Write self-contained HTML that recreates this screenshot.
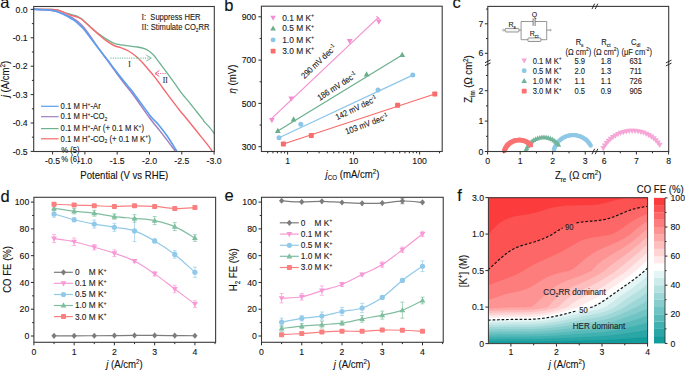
<!DOCTYPE html>
<html><head><meta charset="utf-8"><style>
html,body{margin:0;padding:0;background:#fff;}
svg{display:block;}
text{font-family:"Liberation Sans", sans-serif;white-space:pre;}
</style></head><body>
<svg width="685" height="371" viewBox="0 0 685 371">
<rect width="685" height="371" fill="#fff"/>
<text font-size="16.5" text-anchor="start" fill="#111" stroke="#111" stroke-width="0.12" transform="translate(0.3 8)"><tspan>a</tspan></text>
<text font-size="16.5" text-anchor="start" fill="#111" stroke="#111" stroke-width="0.12" transform="translate(224.2 11)"><tspan>b</tspan></text>
<text font-size="16.5" text-anchor="start" fill="#111" stroke="#111" stroke-width="0.12" transform="translate(452.4 8)"><tspan>c</tspan></text>
<text font-size="16.5" text-anchor="start" fill="#111" stroke="#111" stroke-width="0.12" transform="translate(0.6 201.8)"><tspan>d</tspan></text>
<text font-size="16.5" text-anchor="start" fill="#111" stroke="#111" stroke-width="0.12" transform="translate(224.4 200.6)"><tspan>e</tspan></text>
<text font-size="16.5" text-anchor="start" fill="#111" stroke="#111" stroke-width="0.12" transform="translate(457.3 200.9)"><tspan>f</tspan></text>
<g fill="none" stroke-linejoin="round" stroke-linecap="round">
<path d="M33.7 9.3 C36.67 9.32 47.37 9.23 51.5 9.4 C55.63 9.57 56.6 9.87 58.5 10.3 C60.4 10.73 61.15 11.4 62.9 12 C64.65 12.6 67.25 13.38 69 13.9 C70.75 14.42 71.93 14.67 73.4 15.1 C74.87 15.53 76.48 15.92 77.8 16.5 C79.12 17.08 79.85 17.47 81.3 18.6 C82.75 19.73 85.05 22 86.5 23.3 C87.95 24.6 88.13 24.77 90 26.4 C91.87 28.03 94.83 30.9 97.7 33.1 C100.57 35.3 104.32 37.85 107.2 39.6 C110.08 41.35 111.82 42.6 115 43.6 C118.18 44.6 122.53 45.03 126.3 45.6 C130.07 46.17 134.58 46.48 137.6 47 C140.62 47.52 142.52 48.03 144.4 48.7 C146.28 49.37 147.38 49.95 148.9 51 C150.42 52.05 152.17 53.62 153.5 55 C154.83 56.38 155.82 57.88 156.9 59.3 C157.98 60.72 158.58 61.62 160 63.5 C161.42 65.38 163.02 67.37 165.4 70.6 C167.78 73.83 171.47 78.97 174.3 82.9 C177.13 86.83 180.13 91.23 182.4 94.2 C184.67 97.17 185.92 98.28 187.9 100.7 C189.88 103.12 191.85 105.62 194.3 108.7 C196.75 111.78 200.93 117.05 202.6 119.2 C204.27 121.35 203.07 120.15 204.3 121.6 C205.53 123.05 208.33 125.9 210 127.9 C211.67 129.9 213.58 132.65 214.3 133.6" stroke="#6cb290" stroke-width="1.3" fill="none"/>
<path d="M33.7 9.3 C36.67 9.32 47.37 9.23 51.5 9.4 C55.63 9.57 56.6 9.87 58.5 10.3 C60.4 10.73 61.15 11.28 62.9 12 C64.65 12.72 67.25 13.95 69 14.6 C70.75 15.25 71.93 15.45 73.4 15.9 C74.87 16.35 76.48 16.78 77.8 17.3 C79.12 17.82 79.85 17.97 81.3 19 C82.75 20.03 85.05 22.22 86.5 23.5 C87.95 24.78 88.13 25.02 90 26.7 C91.87 28.38 94.83 31.15 97.7 33.6 C100.57 36.05 104.32 39.33 107.2 41.4 C110.08 43.47 112.75 44.97 115 46 C117.25 47.03 118.82 46.95 120.7 47.6 C122.58 48.25 124.42 48.95 126.3 49.9 C128.18 50.85 130.12 51.98 132 53.3 C133.88 54.62 135.72 56.1 137.6 57.8 C139.48 59.5 141.4 61.43 143.3 63.5 C145.2 65.57 147.12 67.97 149 70.2 C150.88 72.43 152.77 74.58 154.6 76.9 C156.43 79.22 158.07 81.47 160 84.1 C161.93 86.73 163.82 89.48 166.2 92.7 C168.58 95.92 172 100.4 174.3 103.4 C176.6 106.4 177.87 108.05 180 110.7 C182.13 113.35 184.72 116.38 187.1 119.3 C189.48 122.22 191.92 125.23 194.3 128.2 C196.68 131.17 199.02 134.12 201.4 137.1 C203.78 140.08 206.85 143.82 208.6 146.1 C210.35 148.38 211.35 150.02 211.9 150.8" stroke="#f46a6e" stroke-width="1.4" fill="none"/>
<path d="M33.7 9.3 C35.22 9.37 39.83 9.52 42.8 9.7 C45.77 9.88 49.17 10.08 51.5 10.4 C53.83 10.72 54.9 11.02 56.8 11.6 C58.7 12.18 60.87 13.13 62.9 13.9 C64.93 14.67 67.25 15.43 69 16.2 C70.75 16.97 71.93 17.62 73.4 18.5 C74.87 19.38 76.2 20.17 77.8 21.5 C79.4 22.83 81.25 24.52 83 26.5 C84.75 28.48 85.92 30.08 88.3 33.4 C90.68 36.72 94.22 42.03 97.3 46.4 C100.38 50.77 103.67 55.25 106.8 59.6 C109.93 63.95 112.82 68.03 116.1 72.5 C119.38 76.97 123.65 82.68 126.5 86.4 C129.35 90.12 129.37 89.57 133.2 94.8 C137.03 100.03 145.37 112.18 149.5 117.8 C153.63 123.42 155.17 124.9 158 128.5 C160.83 132.1 163.67 135.68 166.5 139.4 C169.33 143.12 173.58 148.9 175 150.8" stroke="#a27fbf" stroke-width="1.5" fill="none"/>
<path d="M33.7 9.3 C35.22 9.37 39.83 9.53 42.8 9.7 C45.77 9.87 49.17 9.98 51.5 10.3 C53.83 10.62 54.9 10.97 56.8 11.6 C58.7 12.23 60.87 13.17 62.9 14.1 C64.93 15.03 67.25 16.23 69 17.2 C70.75 18.17 71.93 18.87 73.4 19.9 C74.87 20.93 76.2 22 77.8 23.4 C79.4 24.8 81.25 26.37 83 28.3 C84.75 30.23 85.85 31.82 88.3 35 C90.75 38.18 94.55 43.3 97.7 47.4 C100.85 51.5 104.05 55.52 107.2 59.6 C110.35 63.68 113.3 67.65 116.6 71.9 C119.9 76.15 124.15 81.55 127 85.1 C129.85 88.65 129.87 88.15 133.7 93.2 C137.53 98.25 145.87 110.13 150 115.4 C154.13 120.67 155.67 121.4 158.5 124.8 C161.33 128.2 164 131.5 167 135.8 C170 140.1 174.92 148.13 176.5 150.6" stroke="#5a9ef0" stroke-width="1.6" fill="none"/>
</g>
<line x1="110.5" y1="58.1" x2="150.5" y2="58.1" stroke="#7cc0a0" stroke-width="1.1" stroke-dasharray="1.1 1.2"/>
<path d="M146.3 55.1 L151.3 58.1 L146.3 61.1" stroke="#7cc0a0" stroke-width="1" fill="none"/>
<line x1="155.5" y1="73.5" x2="165.8" y2="73.5" stroke="#f4608c" stroke-width="1.1" stroke-dasharray="1.1 1.2"/>
<path d="M159.3 70.6 L155 73.5 L159.3 76.4" stroke="#f4608c" stroke-width="1" fill="none"/>
<text font-size="8.55" text-anchor="middle" fill="#222" stroke="#222" stroke-width="0.12" transform="translate(129.5 67.2) scale(0.8772 1)"><tspan font-family="Liberation Serif, serif">I</tspan></text>
<text font-size="8.55" text-anchor="middle" fill="#222" stroke="#222" stroke-width="0.12" transform="translate(165.3 83.2) scale(0.8772 1)"><tspan font-family="Liberation Serif, serif">II</tspan></text>
<text font-size="8.66" text-anchor="start" fill="#222" stroke="#222" stroke-width="0.12" transform="translate(141.5 19.5) scale(0.8772 1)"><tspan font-family="Liberation Serif, serif">I</tspan><tspan>:  Suppress HER</tspan></text>
<text font-size="8.66" text-anchor="start" fill="#222" stroke="#222" stroke-width="0.12" transform="translate(141.5 29.6) scale(0.8772 1)"><tspan font-family="Liberation Serif, serif">II</tspan><tspan>: Stimulate CO</tspan><tspan dy="1.91" font-size="5.63">2</tspan><tspan dy="-1.91">RR</tspan></text>
<line x1="41" y1="106.3" x2="58.6" y2="106.3" stroke="#5a9ef0" stroke-width="1.2"/>
<text font-size="8.78" text-anchor="start" fill="#222" stroke="#222" stroke-width="0.12" transform="translate(60.6 109) scale(0.8772 1)"><tspan>0.1 M H</tspan><tspan dy="-3.34" font-size="5.71">+</tspan><tspan dy="3.34">-Ar</tspan></text>
<line x1="41" y1="116.7" x2="58.6" y2="116.7" stroke="#a27fbf" stroke-width="1.2"/>
<text font-size="8.78" text-anchor="start" fill="#222" stroke="#222" stroke-width="0.12" transform="translate(60.6 119.4) scale(0.8772 1)"><tspan>0.1 M H</tspan><tspan dy="-3.34" font-size="5.71">+</tspan><tspan dy="3.34">-CO</tspan><tspan dy="1.93" font-size="5.71">2</tspan></text>
<line x1="41" y1="128.6" x2="58.6" y2="128.6" stroke="#6cb290" stroke-width="1.2"/>
<text font-size="8.78" text-anchor="start" fill="#222" stroke="#222" stroke-width="0.12" transform="translate(60.6 131.3) scale(0.8772 1)"><tspan>0.1 M H</tspan><tspan dy="-3.34" font-size="5.71">+</tspan><tspan dy="3.34">-Ar (+ 0.1 M K</tspan><tspan dy="-3.34" font-size="5.71">+</tspan><tspan dy="3.34">)</tspan></text>
<line x1="41" y1="138.8" x2="58.6" y2="138.8" stroke="#f46a6e" stroke-width="1.2"/>
<text font-size="8.78" text-anchor="start" fill="#222" stroke="#222" stroke-width="0.12" transform="translate(60.6 141.5) scale(0.8772 1)"><tspan>0.1 M H</tspan><tspan dy="-3.34" font-size="5.71">+</tspan><tspan dy="3.34">-CO</tspan><tspan dy="1.93" font-size="5.71">2</tspan><tspan dy="-1.93"> (+ 0.1 M K</tspan><tspan dy="-3.34" font-size="5.71">+</tspan><tspan dy="3.34">)</tspan></text>
<text font-size="8.78" text-anchor="start" fill="#222" stroke="#222" stroke-width="0.12" transform="translate(61.3 152.5) scale(0.8772 1)"><tspan>% (5)</tspan></text>
<text font-size="8.78" text-anchor="start" fill="#222" stroke="#222" stroke-width="0.12" transform="translate(61.3 162.3) scale(0.8772 1)"><tspan>% (6)</tspan></text>
<rect x="33.7" y="6.5" width="180.6" height="145" fill="none" stroke="#3a3a3a" stroke-width="1.1"/>
<line x1="30.7" y1="9.4" x2="33.7" y2="9.4" stroke="#2a2a2a" stroke-width="1"/>
<text font-size="9.92" text-anchor="end" fill="#111" stroke="#111" stroke-width="0.12" transform="translate(27.7 12.5) scale(0.8772 1)"><tspan>0.0</tspan></text>
<line x1="30.7" y1="37.8" x2="33.7" y2="37.8" stroke="#2a2a2a" stroke-width="1"/>
<text font-size="9.92" text-anchor="end" fill="#111" stroke="#111" stroke-width="0.12" transform="translate(27.7 40.9) scale(0.8772 1)"><tspan>-0.1</tspan></text>
<line x1="30.7" y1="66.2" x2="33.7" y2="66.2" stroke="#2a2a2a" stroke-width="1"/>
<text font-size="9.92" text-anchor="end" fill="#111" stroke="#111" stroke-width="0.12" transform="translate(27.7 69.3) scale(0.8772 1)"><tspan>-0.2</tspan></text>
<line x1="30.7" y1="94.6" x2="33.7" y2="94.6" stroke="#2a2a2a" stroke-width="1"/>
<text font-size="9.92" text-anchor="end" fill="#111" stroke="#111" stroke-width="0.12" transform="translate(27.7 97.7) scale(0.8772 1)"><tspan>-0.3</tspan></text>
<line x1="30.7" y1="123" x2="33.7" y2="123" stroke="#2a2a2a" stroke-width="1"/>
<text font-size="9.92" text-anchor="end" fill="#111" stroke="#111" stroke-width="0.12" transform="translate(27.7 126.1) scale(0.8772 1)"><tspan>-0.4</tspan></text>
<line x1="30.7" y1="151.4" x2="33.7" y2="151.4" stroke="#2a2a2a" stroke-width="1"/>
<text font-size="9.92" text-anchor="end" fill="#111" stroke="#111" stroke-width="0.12" transform="translate(27.7 154.5) scale(0.8772 1)"><tspan>-0.5</tspan></text>
<line x1="31.9" y1="23.6" x2="33.7" y2="23.6" stroke="#2a2a2a" stroke-width="1"/>
<line x1="31.9" y1="52" x2="33.7" y2="52" stroke="#2a2a2a" stroke-width="1"/>
<line x1="31.9" y1="80.4" x2="33.7" y2="80.4" stroke="#2a2a2a" stroke-width="1"/>
<line x1="31.9" y1="108.8" x2="33.7" y2="108.8" stroke="#2a2a2a" stroke-width="1"/>
<line x1="31.9" y1="137.2" x2="33.7" y2="137.2" stroke="#2a2a2a" stroke-width="1"/>
<line x1="52.6" y1="151.5" x2="52.6" y2="154.5" stroke="#2a2a2a" stroke-width="1"/>
<text font-size="9.92" text-anchor="middle" fill="#111" stroke="#111" stroke-width="0.12" transform="translate(52.6 164.2) scale(0.8772 1)"><tspan>-0.5</tspan></text>
<line x1="84.9" y1="151.5" x2="84.9" y2="154.5" stroke="#2a2a2a" stroke-width="1"/>
<text font-size="9.92" text-anchor="middle" fill="#111" stroke="#111" stroke-width="0.12" transform="translate(84.9 164.2) scale(0.8772 1)"><tspan>-1.0</tspan></text>
<line x1="117.2" y1="151.5" x2="117.2" y2="154.5" stroke="#2a2a2a" stroke-width="1"/>
<text font-size="9.92" text-anchor="middle" fill="#111" stroke="#111" stroke-width="0.12" transform="translate(117.2 164.2) scale(0.8772 1)"><tspan>-1.5</tspan></text>
<line x1="149.5" y1="151.5" x2="149.5" y2="154.5" stroke="#2a2a2a" stroke-width="1"/>
<text font-size="9.92" text-anchor="middle" fill="#111" stroke="#111" stroke-width="0.12" transform="translate(149.5 164.2) scale(0.8772 1)"><tspan>-2.0</tspan></text>
<line x1="181.8" y1="151.5" x2="181.8" y2="154.5" stroke="#2a2a2a" stroke-width="1"/>
<text font-size="9.92" text-anchor="middle" fill="#111" stroke="#111" stroke-width="0.12" transform="translate(181.8 164.2) scale(0.8772 1)"><tspan>-2.5</tspan></text>
<line x1="214.1" y1="151.5" x2="214.1" y2="154.5" stroke="#2a2a2a" stroke-width="1"/>
<text font-size="9.92" text-anchor="middle" fill="#111" stroke="#111" stroke-width="0.12" transform="translate(214.1 164.2) scale(0.8772 1)"><tspan>-3.0</tspan></text>
<text font-size="10.94" text-anchor="middle" fill="#111" stroke="#111" stroke-width="0.12" transform="translate(124.3 178.6) scale(0.8772 1)"><tspan>Potential (V vs RHE)</tspan></text>
<text font-size="10.94" text-anchor="middle" fill="#111" stroke="#111" stroke-width="0.12" transform="translate(9 79) rotate(-90) scale(0.8772 1)"><tspan font-style="italic">j</tspan><tspan> (A/cm</tspan><tspan dy="-4.16" font-size="7.11">2</tspan><tspan dy="4.16">)</tspan></text>
<line x1="271.5" y1="118.6" x2="378.2" y2="17.6" stroke="#f48fcf" stroke-width="1.2"/>
<line x1="277.8" y1="130.9" x2="402.2" y2="55" stroke="#6aae8c" stroke-width="1.2"/>
<line x1="279" y1="137.7" x2="412.8" y2="75.1" stroke="#8cc5ea" stroke-width="1.2"/>
<line x1="283.4" y1="144" x2="434.8" y2="94" stroke="#f86c6c" stroke-width="1.2"/>
<path d="M271.9 123.13 L274.8 117.91 L269 117.91Z" fill="#f48fcf"/>
<path d="M291.2 101.73 L294.1 96.51 L288.3 96.51Z" fill="#f48fcf"/>
<path d="M349.7 44.13 L352.6 38.91 L346.8 38.91Z" fill="#f48fcf"/>
<path d="M378.8 24.63 L381.7 19.41 L375.9 19.41Z" fill="#f48fcf"/>
<path d="M277.8 127.77 L280.7 132.99 L274.9 132.99Z" fill="#6aae8c"/>
<path d="M293.6 116.37 L296.5 121.59 L290.7 121.59Z" fill="#6aae8c"/>
<path d="M366.6 71.37 L369.5 76.59 L363.7 76.59Z" fill="#6aae8c"/>
<path d="M402.2 51.87 L405.1 57.09 L399.3 57.09Z" fill="#6aae8c"/>
<circle cx="279" cy="137.7" r="2.5" fill="#8cc5ea"/>
<circle cx="300.8" cy="124.3" r="2.5" fill="#8cc5ea"/>
<circle cx="378" cy="90" r="2.5" fill="#8cc5ea"/>
<circle cx="412.8" cy="75.1" r="2.5" fill="#8cc5ea"/>
<rect x="280.9" y="141.5" width="5" height="5" rx="0.75" fill="#f86c6c"/>
<rect x="308.8" y="133" width="5" height="5" rx="0.75" fill="#f86c6c"/>
<rect x="395.1" y="102.7" width="5" height="5" rx="0.75" fill="#f86c6c"/>
<rect x="432.3" y="91.5" width="5" height="5" rx="0.75" fill="#f86c6c"/>
<line x1="376.4" y1="16.2" x2="379.6" y2="19.2" stroke="#f48fcf" stroke-width="1.2"/>
<text font-size="8.66" text-anchor="start" fill="#222" stroke="#222" stroke-width="0.12" transform="translate(304.4 79.2) rotate(-43.5) scale(0.8772 1)"><tspan>290 mV dec</tspan><tspan dy="-3.29" font-size="5.63">-1</tspan></text>
<text font-size="8.66" text-anchor="start" fill="#222" stroke="#222" stroke-width="0.12" transform="translate(319.8 100.9) rotate(-33) scale(0.8772 1)"><tspan>186 mV dec</tspan><tspan dy="-3.29" font-size="5.63">-1</tspan></text>
<text font-size="8.66" text-anchor="start" fill="#222" stroke="#222" stroke-width="0.12" transform="translate(337.2 120.3) rotate(-25.8) scale(0.8772 1)"><tspan>142 mV dec</tspan><tspan dy="-3.29" font-size="5.63">-1</tspan></text>
<text font-size="8.66" text-anchor="start" fill="#222" stroke="#222" stroke-width="0.12" transform="translate(346.6 134.6) rotate(-20.4) scale(0.8772 1)"><tspan>103 mV dec</tspan><tspan dy="-3.29" font-size="5.63">-1</tspan></text>
<path d="M273.1 20.82 L275.9 15.78 L270.3 15.78Z" fill="#f48fcf"/>
<text font-size="9.58" text-anchor="start" fill="#222" stroke="#222" stroke-width="0.12" transform="translate(282.2 20.7) scale(0.8772 1)"><tspan>0.1 M K</tspan><tspan dy="-3.64" font-size="6.22">+</tspan></text>
<path d="M273.1 25.48 L275.9 30.52 L270.3 30.52Z" fill="#6aae8c"/>
<text font-size="9.58" text-anchor="start" fill="#222" stroke="#222" stroke-width="0.12" transform="translate(282.2 31.4) scale(0.8772 1)"><tspan>0.5 M K</tspan><tspan dy="-3.64" font-size="6.22">+</tspan></text>
<circle cx="273.1" cy="39.9" r="2.45" fill="#8cc5ea"/>
<text font-size="9.58" text-anchor="start" fill="#222" stroke="#222" stroke-width="0.12" transform="translate(282.2 42.8) scale(0.8772 1)"><tspan>1.0 M K</tspan><tspan dy="-3.64" font-size="6.22">+</tspan></text>
<rect x="270.65" y="48.65" width="4.9" height="4.9" rx="0.73" fill="#f86c6c"/>
<text font-size="9.58" text-anchor="start" fill="#222" stroke="#222" stroke-width="0.12" transform="translate(282.2 54) scale(0.8772 1)"><tspan>3.0 M K</tspan><tspan dy="-3.64" font-size="6.22">+</tspan></text>
<rect x="261.4" y="6.2" width="180.8" height="145.3" fill="none" stroke="#3a3a3a" stroke-width="1.1"/>
<line x1="258.4" y1="146.7" x2="261.4" y2="146.7" stroke="#2a2a2a" stroke-width="1"/>
<text font-size="9.92" text-anchor="end" fill="#111" stroke="#111" stroke-width="0.12" transform="translate(256.2 149.8) scale(0.8772 1)"><tspan>300</tspan></text>
<line x1="258.4" y1="103.4" x2="261.4" y2="103.4" stroke="#2a2a2a" stroke-width="1"/>
<text font-size="9.92" text-anchor="end" fill="#111" stroke="#111" stroke-width="0.12" transform="translate(256.2 106.5) scale(0.8772 1)"><tspan>500</tspan></text>
<line x1="258.4" y1="60.1" x2="261.4" y2="60.1" stroke="#2a2a2a" stroke-width="1"/>
<text font-size="9.92" text-anchor="end" fill="#111" stroke="#111" stroke-width="0.12" transform="translate(256.2 63.2) scale(0.8772 1)"><tspan>700</tspan></text>
<line x1="258.4" y1="16.8" x2="261.4" y2="16.8" stroke="#2a2a2a" stroke-width="1"/>
<text font-size="9.92" text-anchor="end" fill="#111" stroke="#111" stroke-width="0.12" transform="translate(256.2 19.9) scale(0.8772 1)"><tspan>900</tspan></text>
<line x1="259.6" y1="125.05" x2="261.4" y2="125.05" stroke="#2a2a2a" stroke-width="1"/>
<line x1="259.6" y1="81.75" x2="261.4" y2="81.75" stroke="#2a2a2a" stroke-width="1"/>
<line x1="259.6" y1="38.45" x2="261.4" y2="38.45" stroke="#2a2a2a" stroke-width="1"/>
<line x1="287.6" y1="151.5" x2="287.6" y2="154.5" stroke="#2a2a2a" stroke-width="1"/>
<text font-size="9.92" text-anchor="middle" fill="#111" stroke="#111" stroke-width="0.12" transform="translate(287.6 164.2) scale(0.8772 1)"><tspan>1</tspan></text>
<line x1="353.6" y1="151.5" x2="353.6" y2="154.5" stroke="#2a2a2a" stroke-width="1"/>
<text font-size="9.92" text-anchor="middle" fill="#111" stroke="#111" stroke-width="0.12" transform="translate(353.6 164.2) scale(0.8772 1)"><tspan>10</tspan></text>
<line x1="419.6" y1="151.5" x2="419.6" y2="154.5" stroke="#2a2a2a" stroke-width="1"/>
<text font-size="9.92" text-anchor="middle" fill="#111" stroke="#111" stroke-width="0.12" transform="translate(419.6 164.2) scale(0.8772 1)"><tspan>100</tspan></text>
<line x1="267.73" y1="151.5" x2="267.73" y2="153.3" stroke="#2a2a2a" stroke-width="1"/>
<line x1="272.96" y1="151.5" x2="272.96" y2="153.3" stroke="#2a2a2a" stroke-width="1"/>
<line x1="277.38" y1="151.5" x2="277.38" y2="153.3" stroke="#2a2a2a" stroke-width="1"/>
<line x1="281.2" y1="151.5" x2="281.2" y2="153.3" stroke="#2a2a2a" stroke-width="1"/>
<line x1="284.58" y1="151.5" x2="284.58" y2="153.3" stroke="#2a2a2a" stroke-width="1"/>
<line x1="307.47" y1="151.5" x2="307.47" y2="153.3" stroke="#2a2a2a" stroke-width="1"/>
<line x1="319.09" y1="151.5" x2="319.09" y2="153.3" stroke="#2a2a2a" stroke-width="1"/>
<line x1="327.34" y1="151.5" x2="327.34" y2="153.3" stroke="#2a2a2a" stroke-width="1"/>
<line x1="333.73" y1="151.5" x2="333.73" y2="153.3" stroke="#2a2a2a" stroke-width="1"/>
<line x1="338.96" y1="151.5" x2="338.96" y2="153.3" stroke="#2a2a2a" stroke-width="1"/>
<line x1="343.38" y1="151.5" x2="343.38" y2="153.3" stroke="#2a2a2a" stroke-width="1"/>
<line x1="347.2" y1="151.5" x2="347.2" y2="153.3" stroke="#2a2a2a" stroke-width="1"/>
<line x1="350.58" y1="151.5" x2="350.58" y2="153.3" stroke="#2a2a2a" stroke-width="1"/>
<line x1="373.47" y1="151.5" x2="373.47" y2="153.3" stroke="#2a2a2a" stroke-width="1"/>
<line x1="385.09" y1="151.5" x2="385.09" y2="153.3" stroke="#2a2a2a" stroke-width="1"/>
<line x1="393.34" y1="151.5" x2="393.34" y2="153.3" stroke="#2a2a2a" stroke-width="1"/>
<line x1="399.73" y1="151.5" x2="399.73" y2="153.3" stroke="#2a2a2a" stroke-width="1"/>
<line x1="404.96" y1="151.5" x2="404.96" y2="153.3" stroke="#2a2a2a" stroke-width="1"/>
<line x1="409.38" y1="151.5" x2="409.38" y2="153.3" stroke="#2a2a2a" stroke-width="1"/>
<line x1="413.2" y1="151.5" x2="413.2" y2="153.3" stroke="#2a2a2a" stroke-width="1"/>
<line x1="416.58" y1="151.5" x2="416.58" y2="153.3" stroke="#2a2a2a" stroke-width="1"/>
<line x1="439.47" y1="151.5" x2="439.47" y2="153.3" stroke="#2a2a2a" stroke-width="1"/>
<text font-size="10.94" text-anchor="middle" fill="#111" stroke="#111" stroke-width="0.12" transform="translate(352.5 177.8) scale(0.8772 1)"><tspan font-style="italic">j</tspan><tspan dy="2.41" font-size="7.11">CO</tspan><tspan dy="-2.41"> (mA/cm</tspan><tspan dy="-4.16" font-size="7.11">2</tspan><tspan dy="4.16">)</tspan></text>
<text font-size="10.94" text-anchor="middle" fill="#111" stroke="#111" stroke-width="0.12" transform="translate(236.2 79) rotate(-90) scale(0.8772 1)"><tspan font-style="italic">η</tspan><tspan> (mV)</tspan></text>
<path d="M603.3 151.13 L606.2 145.91 L600.4 145.91Z" fill="#f6a6d6"/>
<path d="M604.83 148.63 L607.73 143.41 L601.93 143.41Z" fill="#f6a6d6"/>
<path d="M606.57 146.28 L609.47 141.06 L603.67 141.06Z" fill="#f6a6d6"/>
<path d="M608.51 144.08 L611.41 138.86 L605.61 138.86Z" fill="#f6a6d6"/>
<path d="M610.64 142.07 L613.54 136.85 L607.74 136.85Z" fill="#f6a6d6"/>
<path d="M612.93 140.25 L615.83 135.03 L610.03 135.03Z" fill="#f6a6d6"/>
<path d="M615.38 138.63 L618.28 133.41 L612.48 133.41Z" fill="#f6a6d6"/>
<path d="M617.96 137.24 L620.86 132.02 L615.06 132.02Z" fill="#f6a6d6"/>
<path d="M620.65 136.08 L623.55 130.86 L617.75 130.86Z" fill="#f6a6d6"/>
<path d="M623.43 135.16 L626.33 129.94 L620.53 129.94Z" fill="#f6a6d6"/>
<path d="M626.28 134.49 L629.18 129.27 L623.38 129.27Z" fill="#f6a6d6"/>
<path d="M629.18 134.08 L632.08 128.86 L626.28 128.86Z" fill="#f6a6d6"/>
<path d="M632.11 133.92 L635.01 128.7 L629.21 128.7Z" fill="#f6a6d6"/>
<path d="M635.03 134.01 L637.93 128.79 L632.13 128.79Z" fill="#f6a6d6"/>
<path d="M637.94 134.37 L640.84 129.15 L635.04 129.15Z" fill="#f6a6d6"/>
<path d="M640.81 134.97 L643.71 129.75 L637.91 129.75Z" fill="#f6a6d6"/>
<path d="M643.61 135.83 L646.51 130.61 L640.71 130.61Z" fill="#f6a6d6"/>
<path d="M646.33 136.93 L649.23 131.71 L643.43 131.71Z" fill="#f6a6d6"/>
<path d="M648.93 138.27 L651.83 133.05 L646.03 133.05Z" fill="#f6a6d6"/>
<path d="M651.41 139.82 L654.31 134.6 L648.51 134.6Z" fill="#f6a6d6"/>
<path d="M653.75 141.59 L656.65 136.37 L650.85 136.37Z" fill="#f6a6d6"/>
<path d="M655.92 143.56 L658.82 138.34 L653.02 138.34Z" fill="#f6a6d6"/>
<path d="M657.91 145.71 L660.81 140.49 L655.01 140.49Z" fill="#f6a6d6"/>
<path d="M659.7 148.03 L662.6 142.81 L656.8 142.81Z" fill="#f6a6d6"/>
<circle cx="554" cy="149.3" r="2.2" fill="#8ec8e6"/>
<circle cx="554.46" cy="147.95" r="2.2" fill="#8ec8e6"/>
<circle cx="555.01" cy="146.64" r="2.2" fill="#8ec8e6"/>
<circle cx="555.66" cy="145.37" r="2.2" fill="#8ec8e6"/>
<circle cx="556.4" cy="144.15" r="2.2" fill="#8ec8e6"/>
<circle cx="557.22" cy="142.99" r="2.2" fill="#8ec8e6"/>
<circle cx="558.12" cy="141.88" r="2.2" fill="#8ec8e6"/>
<circle cx="559.1" cy="140.85" r="2.2" fill="#8ec8e6"/>
<circle cx="560.15" cy="139.88" r="2.2" fill="#8ec8e6"/>
<circle cx="561.26" cy="139" r="2.2" fill="#8ec8e6"/>
<circle cx="562.44" cy="138.19" r="2.2" fill="#8ec8e6"/>
<circle cx="563.67" cy="137.48" r="2.2" fill="#8ec8e6"/>
<circle cx="564.95" cy="136.85" r="2.2" fill="#8ec8e6"/>
<circle cx="566.27" cy="136.31" r="2.2" fill="#8ec8e6"/>
<circle cx="567.62" cy="135.87" r="2.2" fill="#8ec8e6"/>
<circle cx="569" cy="135.53" r="2.2" fill="#8ec8e6"/>
<circle cx="570.41" cy="135.28" r="2.2" fill="#8ec8e6"/>
<circle cx="571.82" cy="135.14" r="2.2" fill="#8ec8e6"/>
<circle cx="573.25" cy="135.1" r="2.2" fill="#8ec8e6"/>
<circle cx="574.67" cy="135.16" r="2.2" fill="#8ec8e6"/>
<circle cx="576.09" cy="135.32" r="2.2" fill="#8ec8e6"/>
<circle cx="577.49" cy="135.58" r="2.2" fill="#8ec8e6"/>
<circle cx="578.87" cy="135.94" r="2.2" fill="#8ec8e6"/>
<circle cx="580.21" cy="136.4" r="2.2" fill="#8ec8e6"/>
<circle cx="581.53" cy="136.96" r="2.2" fill="#8ec8e6"/>
<circle cx="582.8" cy="137.6" r="2.2" fill="#8ec8e6"/>
<circle cx="584.02" cy="138.34" r="2.2" fill="#8ec8e6"/>
<circle cx="585.18" cy="139.16" r="2.2" fill="#8ec8e6"/>
<circle cx="586.29" cy="140.06" r="2.2" fill="#8ec8e6"/>
<circle cx="587.32" cy="141.03" r="2.2" fill="#8ec8e6"/>
<circle cx="588.29" cy="142.08" r="2.2" fill="#8ec8e6"/>
<circle cx="589.17" cy="143.2" r="2.2" fill="#8ec8e6"/>
<circle cx="589.98" cy="144.37" r="2.2" fill="#8ec8e6"/>
<circle cx="590.7" cy="145.6" r="2.2" fill="#8ec8e6"/>
<path d="M526 147.19 L528.6 151.87 L523.4 151.87Z" fill="#72b49a"/>
<path d="M526.79 145.2 L529.39 149.88 L524.19 149.88Z" fill="#72b49a"/>
<path d="M527.8 143.32 L530.4 148 L525.2 148Z" fill="#72b49a"/>
<path d="M529.03 141.56 L531.63 146.24 L526.43 146.24Z" fill="#72b49a"/>
<path d="M530.44 139.96 L533.04 144.64 L527.84 144.64Z" fill="#72b49a"/>
<path d="M532.04 138.53 L534.64 143.21 L529.44 143.21Z" fill="#72b49a"/>
<path d="M533.79 137.29 L536.39 141.97 L531.19 141.97Z" fill="#72b49a"/>
<path d="M535.67 136.27 L538.27 140.95 L533.07 140.95Z" fill="#72b49a"/>
<path d="M537.65 135.47 L540.25 140.15 L535.05 140.15Z" fill="#72b49a"/>
<path d="M539.72 134.9 L542.32 139.58 L537.12 139.58Z" fill="#72b49a"/>
<path d="M541.83 134.57 L544.43 139.25 L539.23 139.25Z" fill="#72b49a"/>
<path d="M543.97 134.5 L546.57 139.18 L541.37 139.18Z" fill="#72b49a"/>
<path d="M546.1 134.67 L548.7 139.35 L543.5 139.35Z" fill="#72b49a"/>
<path d="M548.2 135.08 L550.8 139.76 L545.6 139.76Z" fill="#72b49a"/>
<path d="M550.24 135.73 L552.84 140.41 L547.64 140.41Z" fill="#72b49a"/>
<path d="M552.19 136.62 L554.79 141.3 L549.59 141.3Z" fill="#72b49a"/>
<path d="M554.03 137.72 L556.63 142.4 L551.43 142.4Z" fill="#72b49a"/>
<path d="M555.72 139.03 L558.32 143.71 L553.12 143.71Z" fill="#72b49a"/>
<path d="M557.25 140.53 L559.85 145.21 L554.65 145.21Z" fill="#72b49a"/>
<path d="M558.6 142.19 L561.2 146.87 L556 146.87Z" fill="#72b49a"/>
<rect x="502.25" y="148.45" width="4.3" height="4.3" rx="0.64" fill="#fa7272"/>
<rect x="502.65" y="147.4" width="4.3" height="4.3" rx="0.64" fill="#fa7272"/>
<rect x="503.12" y="146.38" width="4.3" height="4.3" rx="0.64" fill="#fa7272"/>
<rect x="503.66" y="145.4" width="4.3" height="4.3" rx="0.64" fill="#fa7272"/>
<rect x="504.27" y="144.46" width="4.3" height="4.3" rx="0.64" fill="#fa7272"/>
<rect x="504.95" y="143.57" width="4.3" height="4.3" rx="0.64" fill="#fa7272"/>
<rect x="505.69" y="142.73" width="4.3" height="4.3" rx="0.64" fill="#fa7272"/>
<rect x="506.49" y="141.94" width="4.3" height="4.3" rx="0.64" fill="#fa7272"/>
<rect x="507.35" y="141.21" width="4.3" height="4.3" rx="0.64" fill="#fa7272"/>
<rect x="508.25" y="140.55" width="4.3" height="4.3" rx="0.64" fill="#fa7272"/>
<rect x="509.2" y="139.95" width="4.3" height="4.3" rx="0.64" fill="#fa7272"/>
<rect x="510.19" y="139.42" width="4.3" height="4.3" rx="0.64" fill="#fa7272"/>
<rect x="511.22" y="138.97" width="4.3" height="4.3" rx="0.64" fill="#fa7272"/>
<rect x="512.27" y="138.59" width="4.3" height="4.3" rx="0.64" fill="#fa7272"/>
<rect x="513.35" y="138.29" width="4.3" height="4.3" rx="0.64" fill="#fa7272"/>
<rect x="514.45" y="138.06" width="4.3" height="4.3" rx="0.64" fill="#fa7272"/>
<rect x="515.56" y="137.92" width="4.3" height="4.3" rx="0.64" fill="#fa7272"/>
<rect x="516.68" y="137.85" width="4.3" height="4.3" rx="0.64" fill="#fa7272"/>
<rect x="517.8" y="137.87" width="4.3" height="4.3" rx="0.64" fill="#fa7272"/>
<rect x="518.92" y="137.96" width="4.3" height="4.3" rx="0.64" fill="#fa7272"/>
<rect x="520.03" y="138.14" width="4.3" height="4.3" rx="0.64" fill="#fa7272"/>
<rect x="521.12" y="138.4" width="4.3" height="4.3" rx="0.64" fill="#fa7272"/>
<rect x="522.19" y="138.73" width="4.3" height="4.3" rx="0.64" fill="#fa7272"/>
<rect x="523.24" y="139.14" width="4.3" height="4.3" rx="0.64" fill="#fa7272"/>
<rect x="524.25" y="139.62" width="4.3" height="4.3" rx="0.64" fill="#fa7272"/>
<rect x="525.22" y="140.18" width="4.3" height="4.3" rx="0.64" fill="#fa7272"/>
<rect x="526.15" y="140.8" width="4.3" height="4.3" rx="0.64" fill="#fa7272"/>
<rect x="527.04" y="141.49" width="4.3" height="4.3" rx="0.64" fill="#fa7272"/>
<rect x="527.87" y="142.24" width="4.3" height="4.3" rx="0.64" fill="#fa7272"/>
<rect x="528.65" y="143.05" width="4.3" height="4.3" rx="0.64" fill="#fa7272"/>
<g fill="none" stroke="#6a6a6a" stroke-width="0.7">
<path d="M503.3 30.1 H505.2 M518.9 30.1 H521.1 M521.1 21.5 V39.7 M521.1 21.5 H533.1 M535.1 21.5 H546.7 M521.1 39.7 H527.9 M540.9 39.7 H546.7 M546.7 21.5 V39.7 M546.7 30.1 H550.3"/>
<path d="M533.1 18.3 V25.9 M535.1 18.3 V25.9" stroke-width="0.9"/>
<rect x="505.2" y="28.4" width="13.7" height="3.6" rx="0.8" fill="#f4f4f4"/>
<rect x="527.9" y="37.9" width="13" height="3.6" rx="0.8" fill="#f4f4f4"/>
<path d="M503.6 29 L502.4 30.1 L503.6 31.2 M550.0 29 L551.3 30.1 L550.0 31.2" stroke-width="0.6"/>
</g>
<text font-size="7.98" text-anchor="start" fill="#222" stroke="#222" stroke-width="0.12" transform="translate(508.4 27.1) scale(0.8772 1)"><tspan>R</tspan><tspan dy="1.76" font-size="5.19">s</tspan></text>
<text font-size="7.98" text-anchor="middle" fill="#222" stroke="#222" stroke-width="0.12" transform="translate(534.4 17.2) scale(0.8772 1)"><tspan>Q</tspan></text>
<text font-size="7.98" text-anchor="start" fill="#222" stroke="#222" stroke-width="0.12" transform="translate(529.8 36.4) scale(0.8772 1)"><tspan>R</tspan><tspan dy="1.76" font-size="5.19">ct</tspan></text>
<text font-size="8.66" text-anchor="middle" fill="#222" stroke="#222" stroke-width="0.12" transform="translate(579.6 45.4) scale(0.8772 1)"><tspan>R</tspan><tspan dy="1.91" font-size="5.63">s</tspan></text>
<text font-size="8.66" text-anchor="middle" fill="#222" stroke="#222" stroke-width="0.12" transform="translate(605.9 45.4) scale(0.8772 1)"><tspan>R</tspan><tspan dy="1.91" font-size="5.63">ct</tspan></text>
<text font-size="8.66" text-anchor="middle" fill="#222" stroke="#222" stroke-width="0.12" transform="translate(635.7 45.4) scale(0.8772 1)"><tspan>C</tspan><tspan dy="1.91" font-size="5.63">dl</tspan></text>
<text font-size="8.66" text-anchor="middle" fill="#222" stroke="#222" stroke-width="0.12" transform="translate(578.4 54.6) scale(0.8772 1)"><tspan>(Ω cm</tspan><tspan dy="-3.29" font-size="5.63">2</tspan><tspan dy="3.29">)</tspan></text>
<text font-size="8.66" text-anchor="middle" fill="#222" stroke="#222" stroke-width="0.12" transform="translate(606.3 54.6) scale(0.8772 1)"><tspan>(Ω cm</tspan><tspan dy="-3.29" font-size="5.63">2</tspan><tspan dy="3.29">)</tspan></text>
<text font-size="8.66" text-anchor="middle" fill="#222" stroke="#222" stroke-width="0.12" transform="translate(636.8 54.6) scale(0.8772 1)"><tspan>(μF cm</tspan><tspan dy="-3.29" font-size="5.63">-2</tspan><tspan dy="3.29">)</tspan></text>
<path d="M524.2 63.62 L527 58.58 L521.4 58.58Z" fill="#f6a6d6"/>
<text font-size="8.66" text-anchor="start" fill="#222" stroke="#222" stroke-width="0.12" transform="translate(532.7 63.6) scale(0.8772 1)"><tspan>0.1 M K</tspan><tspan dy="-3.29" font-size="5.63">+</tspan></text>
<text font-size="8.66" text-anchor="middle" fill="#222" stroke="#222" stroke-width="0.12" transform="translate(579.8 63.8) scale(0.8772 1)"><tspan>5.9</tspan></text>
<text font-size="8.66" text-anchor="middle" fill="#222" stroke="#222" stroke-width="0.12" transform="translate(605.9 63.8) scale(0.8772 1)"><tspan>1.8</tspan></text>
<text font-size="8.66" text-anchor="middle" fill="#222" stroke="#222" stroke-width="0.12" transform="translate(635.7 63.8) scale(0.8772 1)"><tspan>631</tspan></text>
<circle cx="524.2" cy="70.7" r="2.45" fill="#8ec8e6"/>
<text font-size="8.66" text-anchor="start" fill="#222" stroke="#222" stroke-width="0.12" transform="translate(532.7 73.7) scale(0.8772 1)"><tspan>0.5 M K</tspan><tspan dy="-3.29" font-size="5.63">+</tspan></text>
<text font-size="8.66" text-anchor="middle" fill="#222" stroke="#222" stroke-width="0.12" transform="translate(579.8 73.9) scale(0.8772 1)"><tspan>2.0</tspan></text>
<text font-size="8.66" text-anchor="middle" fill="#222" stroke="#222" stroke-width="0.12" transform="translate(605.9 73.9) scale(0.8772 1)"><tspan>1.3</tspan></text>
<text font-size="8.66" text-anchor="middle" fill="#222" stroke="#222" stroke-width="0.12" transform="translate(635.7 73.9) scale(0.8772 1)"><tspan>711</tspan></text>
<path d="M524.2 77.88 L527 82.92 L521.4 82.92Z" fill="#72b49a"/>
<text font-size="8.66" text-anchor="start" fill="#222" stroke="#222" stroke-width="0.12" transform="translate(532.7 83.9) scale(0.8772 1)"><tspan>1.0 M K</tspan><tspan dy="-3.29" font-size="5.63">+</tspan></text>
<text font-size="8.66" text-anchor="middle" fill="#222" stroke="#222" stroke-width="0.12" transform="translate(579.8 84.1) scale(0.8772 1)"><tspan>1.1</tspan></text>
<text font-size="8.66" text-anchor="middle" fill="#222" stroke="#222" stroke-width="0.12" transform="translate(605.9 84.1) scale(0.8772 1)"><tspan>1.1</tspan></text>
<text font-size="8.66" text-anchor="middle" fill="#222" stroke="#222" stroke-width="0.12" transform="translate(635.7 84.1) scale(0.8772 1)"><tspan>726</tspan></text>
<rect x="521.75" y="88.65" width="4.9" height="4.9" rx="0.73" fill="#fa7272"/>
<text font-size="8.66" text-anchor="start" fill="#222" stroke="#222" stroke-width="0.12" transform="translate(532.7 94.1) scale(0.8772 1)"><tspan>3.0 M K</tspan><tspan dy="-3.29" font-size="5.63">+</tspan></text>
<text font-size="8.66" text-anchor="middle" fill="#222" stroke="#222" stroke-width="0.12" transform="translate(579.8 94.3) scale(0.8772 1)"><tspan>0.5</tspan></text>
<text font-size="8.66" text-anchor="middle" fill="#222" stroke="#222" stroke-width="0.12" transform="translate(605.9 94.3) scale(0.8772 1)"><tspan>0.9</tspan></text>
<text font-size="8.66" text-anchor="middle" fill="#222" stroke="#222" stroke-width="0.12" transform="translate(635.7 94.3) scale(0.8772 1)"><tspan>905</tspan></text>
<rect x="487.8" y="6.4" width="180.9" height="145.1" fill="none" stroke="#3a3a3a" stroke-width="1.1"/>
<line x1="592" y1="9.1" x2="594.6" y2="3.7" stroke="#1a1a1a" stroke-width="0.9"/>
<line x1="595.2" y1="9.1" x2="597.8" y2="3.7" stroke="#1a1a1a" stroke-width="0.9"/>
<line x1="592" y1="154.2" x2="594.6" y2="148.8" stroke="#1a1a1a" stroke-width="0.9"/>
<line x1="595.2" y1="154.2" x2="597.8" y2="148.8" stroke="#1a1a1a" stroke-width="0.9"/>
<line x1="485" y1="62.7" x2="490.6" y2="59.9" stroke="#1a1a1a" stroke-width="0.9"/>
<line x1="485" y1="65.7" x2="490.6" y2="62.9" stroke="#1a1a1a" stroke-width="0.9"/>
<line x1="665.9" y1="62.9" x2="671.5" y2="60.1" stroke="#1a1a1a" stroke-width="0.9"/>
<line x1="665.9" y1="65.9" x2="671.5" y2="63.1" stroke="#1a1a1a" stroke-width="0.9"/>
<line x1="484.8" y1="151.5" x2="487.8" y2="151.5" stroke="#2a2a2a" stroke-width="1"/>
<text font-size="9.92" text-anchor="end" fill="#111" stroke="#111" stroke-width="0.12" transform="translate(483.4 154.6) scale(0.8772 1)"><tspan>0</tspan></text>
<line x1="484.8" y1="121.1" x2="487.8" y2="121.1" stroke="#2a2a2a" stroke-width="1"/>
<text font-size="9.92" text-anchor="end" fill="#111" stroke="#111" stroke-width="0.12" transform="translate(483.4 124.2) scale(0.8772 1)"><tspan>1</tspan></text>
<line x1="484.8" y1="90.7" x2="487.8" y2="90.7" stroke="#2a2a2a" stroke-width="1"/>
<text font-size="9.92" text-anchor="end" fill="#111" stroke="#111" stroke-width="0.12" transform="translate(483.4 93.8) scale(0.8772 1)"><tspan>2</tspan></text>
<line x1="486" y1="136.3" x2="487.8" y2="136.3" stroke="#2a2a2a" stroke-width="1"/>
<line x1="486" y1="105.9" x2="487.8" y2="105.9" stroke="#2a2a2a" stroke-width="1"/>
<line x1="486" y1="75.5" x2="487.8" y2="75.5" stroke="#2a2a2a" stroke-width="1"/>
<line x1="484.8" y1="53.3" x2="487.8" y2="53.3" stroke="#2a2a2a" stroke-width="1"/>
<text font-size="9.92" text-anchor="end" fill="#111" stroke="#111" stroke-width="0.12" transform="translate(483.4 56.4) scale(0.8772 1)"><tspan>6</tspan></text>
<line x1="484.8" y1="23.8" x2="487.8" y2="23.8" stroke="#2a2a2a" stroke-width="1"/>
<text font-size="9.92" text-anchor="end" fill="#111" stroke="#111" stroke-width="0.12" transform="translate(483.4 26.9) scale(0.8772 1)"><tspan>7</tspan></text>
<line x1="486" y1="38.55" x2="487.8" y2="38.55" stroke="#2a2a2a" stroke-width="1"/>
<line x1="486" y1="9.05" x2="487.8" y2="9.05" stroke="#2a2a2a" stroke-width="1"/>
<line x1="487.6" y1="151.5" x2="487.6" y2="154.5" stroke="#2a2a2a" stroke-width="1"/>
<text font-size="9.92" text-anchor="middle" fill="#111" stroke="#111" stroke-width="0.12" transform="translate(487.6 164.2) scale(0.8772 1)"><tspan>0</tspan></text>
<line x1="520.15" y1="151.5" x2="520.15" y2="154.5" stroke="#2a2a2a" stroke-width="1"/>
<text font-size="9.92" text-anchor="middle" fill="#111" stroke="#111" stroke-width="0.12" transform="translate(520.15 164.2) scale(0.8772 1)"><tspan>1</tspan></text>
<line x1="552.7" y1="151.5" x2="552.7" y2="154.5" stroke="#2a2a2a" stroke-width="1"/>
<text font-size="9.92" text-anchor="middle" fill="#111" stroke="#111" stroke-width="0.12" transform="translate(552.7 164.2) scale(0.8772 1)"><tspan>2</tspan></text>
<line x1="585.25" y1="151.5" x2="585.25" y2="154.5" stroke="#2a2a2a" stroke-width="1"/>
<text font-size="9.92" text-anchor="middle" fill="#111" stroke="#111" stroke-width="0.12" transform="translate(585.25 164.2) scale(0.8772 1)"><tspan>3</tspan></text>
<line x1="503.88" y1="151.5" x2="503.88" y2="153.3" stroke="#2a2a2a" stroke-width="1"/>
<line x1="536.43" y1="151.5" x2="536.43" y2="153.3" stroke="#2a2a2a" stroke-width="1"/>
<line x1="568.98" y1="151.5" x2="568.98" y2="153.3" stroke="#2a2a2a" stroke-width="1"/>
<line x1="604.2" y1="151.5" x2="604.2" y2="154.5" stroke="#2a2a2a" stroke-width="1"/>
<text font-size="9.92" text-anchor="middle" fill="#111" stroke="#111" stroke-width="0.12" transform="translate(604.2 164.2) scale(0.8772 1)"><tspan>6</tspan></text>
<line x1="636.4" y1="151.5" x2="636.4" y2="154.5" stroke="#2a2a2a" stroke-width="1"/>
<text font-size="9.92" text-anchor="middle" fill="#111" stroke="#111" stroke-width="0.12" transform="translate(636.4 164.2) scale(0.8772 1)"><tspan>7</tspan></text>
<line x1="668.6" y1="151.5" x2="668.6" y2="154.5" stroke="#2a2a2a" stroke-width="1"/>
<text font-size="9.92" text-anchor="middle" fill="#111" stroke="#111" stroke-width="0.12" transform="translate(668.6 164.2) scale(0.8772 1)"><tspan>8</tspan></text>
<line x1="620.3" y1="151.5" x2="620.3" y2="153.3" stroke="#2a2a2a" stroke-width="1"/>
<line x1="652.5" y1="151.5" x2="652.5" y2="153.3" stroke="#2a2a2a" stroke-width="1"/>
<text font-size="10.94" text-anchor="middle" fill="#111" stroke="#111" stroke-width="0.12" transform="translate(578.2 179.2) scale(0.8772 1)"><tspan>Z</tspan><tspan dy="2.41" font-size="7.11">re</tspan><tspan dy="-2.41"> (Ω cm</tspan><tspan dy="-4.16" font-size="7.11">2</tspan><tspan dy="4.16">)</tspan></text>
<text font-size="10.94" text-anchor="middle" fill="#111" stroke="#111" stroke-width="0.12" transform="translate(472.2 79) rotate(-90) scale(0.8772 1)"><tspan>Z</tspan><tspan dy="2.41" font-size="7.11">im</tspan><tspan dy="-2.41"> (Ω cm</tspan><tspan dy="-4.16" font-size="7.11">2</tspan><tspan dy="4.16">)</tspan></text>
<path d="M54.02 335.87 C57.38 335.87 67.44 335.89 74.15 335.87 C80.86 335.84 87.57 335.78 94.28 335.73 C100.98 335.69 107.69 335.64 114.4 335.6 C121.11 335.55 127.82 335.49 134.53 335.46 C141.23 335.44 147.94 335.44 154.65 335.46 C161.36 335.49 168.07 335.55 174.78 335.6 C181.48 335.64 191.55 335.71 194.9 335.73" stroke="#7c7c7c" stroke-width="1.2" fill="none"/>
<path d="M54.02 238.65 C57.38 239.17 67.44 240.31 74.15 241.73 C80.86 243.16 87.57 245.31 94.28 247.22 C100.98 249.14 107.69 250.95 114.4 253.25 C121.11 255.55 127.82 257.58 134.53 261.02 C141.23 264.45 147.94 269.21 154.65 273.87 C161.36 278.53 168.07 283.96 174.78 289 C181.48 294.04 191.55 301.61 194.9 304.13" stroke="#f799d5" stroke-width="1.2" fill="none"/>
<path d="M54.02 213.88 C57.38 214.87 67.44 218.08 74.15 219.77 C80.86 221.47 87.57 222.81 94.28 224.06 C100.98 225.31 107.69 226.14 114.4 227.27 C121.11 228.41 127.82 228.61 134.53 230.89 C141.23 233.16 147.94 237 154.65 240.93 C161.36 244.86 168.07 249.23 174.78 254.45 C181.48 259.68 191.55 269.3 194.9 272.26" stroke="#91c9e9" stroke-width="1.2" fill="none"/>
<path d="M54.02 208.26 C57.38 208.75 67.44 210.38 74.15 211.21 C80.86 212.03 87.57 212.32 94.28 213.21 C100.98 214.11 107.69 215.69 114.4 216.56 C121.11 217.43 127.82 217.77 134.53 218.44 C141.23 219.11 147.94 219.22 154.65 220.58 C161.36 221.94 168.07 223.7 174.78 226.6 C181.48 229.5 191.55 236.09 194.9 237.99" stroke="#80bea0" stroke-width="1.2" fill="none"/>
<path d="M54.02 204.24 C57.38 204.38 67.44 204.8 74.15 205.05 C80.86 205.29 87.57 205.49 94.28 205.72 C100.98 205.94 107.69 206.36 114.4 206.38 C121.11 206.41 127.82 205.85 134.53 205.85 C141.23 205.85 147.94 205.94 154.65 206.38 C161.36 206.83 168.07 208.33 174.78 208.53 C181.48 208.73 191.55 207.75 194.9 207.59" stroke="#fa8080" stroke-width="1.2" fill="none"/>
<path d="M54.02 332.76 L56.66 335.87 L54.02 338.97 L51.39 335.87Z" fill="#7c7c7c"/>
<path d="M74.15 332.76 L76.79 335.87 L74.15 338.97 L71.51 335.87Z" fill="#7c7c7c"/>
<path d="M94.28 332.63 L96.91 335.73 L94.28 338.84 L91.64 335.73Z" fill="#7c7c7c"/>
<path d="M114.4 332.49 L117.04 335.6 L114.4 338.7 L111.76 335.6Z" fill="#7c7c7c"/>
<path d="M134.53 332.36 L137.16 335.46 L134.53 338.57 L131.89 335.46Z" fill="#7c7c7c"/>
<path d="M154.65 332.36 L157.29 335.46 L154.65 338.57 L152.01 335.46Z" fill="#7c7c7c"/>
<path d="M174.78 332.49 L177.41 335.6 L174.78 338.7 L172.14 335.6Z" fill="#7c7c7c"/>
<path d="M194.9 332.63 L197.54 335.73 L194.9 338.84 L192.26 335.73Z" fill="#7c7c7c"/>
<path d="M54.02 234.64 V242.67 M52.02 234.64 H56.02 M52.02 242.67 H56.02" stroke="#f799d5" stroke-width="0.8" fill="none" opacity="0.85"/>
<path d="M54.02 241.79 L56.92 236.57 L51.12 236.57Z" fill="#f799d5"/>
<path d="M74.15 237.99 V245.48 M72.15 237.99 H76.15 M72.15 245.48 H76.15" stroke="#f799d5" stroke-width="0.8" fill="none" opacity="0.85"/>
<path d="M74.15 244.87 L77.05 239.65 L71.25 239.65Z" fill="#f799d5"/>
<path d="M94.28 244.55 V249.9 M92.28 244.55 H96.28 M92.28 249.9 H96.28" stroke="#f799d5" stroke-width="0.8" fill="none" opacity="0.85"/>
<path d="M94.28 250.36 L97.18 245.14 L91.38 245.14Z" fill="#f799d5"/>
<path d="M114.4 249.9 V256.6 M112.4 249.9 H116.4 M112.4 256.6 H116.4" stroke="#f799d5" stroke-width="0.8" fill="none" opacity="0.85"/>
<path d="M114.4 256.38 L117.3 251.16 L111.5 251.16Z" fill="#f799d5"/>
<path d="M134.53 259.68 V262.36 M132.53 259.68 H136.53 M132.53 262.36 H136.53" stroke="#f799d5" stroke-width="0.8" fill="none" opacity="0.85"/>
<path d="M134.53 264.15 L137.43 258.93 L131.62 258.93Z" fill="#f799d5"/>
<path d="M154.65 271.73 V276.01 M152.65 271.73 H156.65 M152.65 276.01 H156.65" stroke="#f799d5" stroke-width="0.8" fill="none" opacity="0.85"/>
<path d="M154.65 277 L157.55 271.78 L151.75 271.78Z" fill="#f799d5"/>
<path d="M174.78 285.25 V292.75 M172.78 285.25 H176.78 M172.78 292.75 H176.78" stroke="#f799d5" stroke-width="0.8" fill="none" opacity="0.85"/>
<path d="M174.78 292.13 L177.68 286.91 L171.88 286.91Z" fill="#f799d5"/>
<path d="M194.9 300.78 V307.48 M192.9 300.78 H196.9 M192.9 307.48 H196.9" stroke="#f799d5" stroke-width="0.8" fill="none" opacity="0.85"/>
<path d="M194.9 307.26 L197.8 302.04 L192 302.04Z" fill="#f799d5"/>
<path d="M54.02 210.54 V217.23 M52.02 210.54 H56.02 M52.02 217.23 H56.02" stroke="#91c9e9" stroke-width="0.8" fill="none" opacity="0.85"/>
<circle cx="54.02" cy="213.88" r="2.6" fill="#91c9e9"/>
<path d="M74.15 217.77 V221.78 M72.15 217.77 H76.15 M72.15 221.78 H76.15" stroke="#91c9e9" stroke-width="0.8" fill="none" opacity="0.85"/>
<circle cx="74.15" cy="219.77" r="2.6" fill="#91c9e9"/>
<path d="M94.28 220.04 V228.08 M92.28 220.04 H96.28 M92.28 228.08 H96.28" stroke="#91c9e9" stroke-width="0.8" fill="none" opacity="0.85"/>
<circle cx="94.28" cy="224.06" r="2.6" fill="#91c9e9"/>
<path d="M114.4 223.26 V231.29 M112.4 223.26 H116.4 M112.4 231.29 H116.4" stroke="#91c9e9" stroke-width="0.8" fill="none" opacity="0.85"/>
<circle cx="114.4" cy="227.27" r="2.6" fill="#91c9e9"/>
<path d="M134.53 220.18 V241.6 M132.53 220.18 H136.53 M132.53 241.6 H136.53" stroke="#91c9e9" stroke-width="0.8" fill="none" opacity="0.85"/>
<circle cx="134.53" cy="230.89" r="2.6" fill="#91c9e9"/>
<path d="M154.65 238.92 V242.94 M152.65 238.92 H156.65 M152.65 242.94 H156.65" stroke="#91c9e9" stroke-width="0.8" fill="none" opacity="0.85"/>
<circle cx="154.65" cy="240.93" r="2.6" fill="#91c9e9"/>
<path d="M174.78 250.71 V258.2 M172.78 250.71 H176.78 M172.78 258.2 H176.78" stroke="#91c9e9" stroke-width="0.8" fill="none" opacity="0.85"/>
<circle cx="174.78" cy="254.45" r="2.6" fill="#91c9e9"/>
<path d="M194.9 267.18 V277.35 M192.9 267.18 H196.9 M192.9 277.35 H196.9" stroke="#91c9e9" stroke-width="0.8" fill="none" opacity="0.85"/>
<circle cx="194.9" cy="272.26" r="2.6" fill="#91c9e9"/>
<path d="M54.02 206.12 V210.4 M52.02 206.12 H56.02 M52.02 210.4 H56.02" stroke="#80bea0" stroke-width="0.8" fill="none" opacity="0.85"/>
<path d="M54.02 205.13 L56.92 210.35 L51.12 210.35Z" fill="#80bea0"/>
<path d="M74.15 208.53 V213.88 M72.15 208.53 H76.15 M72.15 213.88 H76.15" stroke="#80bea0" stroke-width="0.8" fill="none" opacity="0.85"/>
<path d="M74.15 208.07 L77.05 213.29 L71.25 213.29Z" fill="#80bea0"/>
<path d="M94.28 210.27 V216.16 M92.28 210.27 H96.28 M92.28 216.16 H96.28" stroke="#80bea0" stroke-width="0.8" fill="none" opacity="0.85"/>
<path d="M94.28 210.08 L97.18 215.3 L91.38 215.3Z" fill="#80bea0"/>
<path d="M114.4 213.88 V219.24 M112.4 213.88 H116.4 M112.4 219.24 H116.4" stroke="#80bea0" stroke-width="0.8" fill="none" opacity="0.85"/>
<path d="M114.4 213.43 L117.3 218.65 L111.5 218.65Z" fill="#80bea0"/>
<path d="M134.53 214.69 V222.19 M132.53 214.69 H136.53 M132.53 222.19 H136.53" stroke="#80bea0" stroke-width="0.8" fill="none" opacity="0.85"/>
<path d="M134.53 215.3 L137.43 220.52 L131.62 220.52Z" fill="#80bea0"/>
<path d="M154.65 216.56 V224.6 M152.65 216.56 H156.65 M152.65 224.6 H156.65" stroke="#80bea0" stroke-width="0.8" fill="none" opacity="0.85"/>
<path d="M154.65 217.45 L157.55 222.67 L151.75 222.67Z" fill="#80bea0"/>
<path d="M174.78 222.59 V230.62 M172.78 222.59 H176.78 M172.78 230.62 H176.78" stroke="#80bea0" stroke-width="0.8" fill="none" opacity="0.85"/>
<path d="M174.78 223.47 L177.68 228.69 L171.88 228.69Z" fill="#80bea0"/>
<path d="M194.9 234.64 V241.33 M192.9 234.64 H196.9 M192.9 241.33 H196.9" stroke="#80bea0" stroke-width="0.8" fill="none" opacity="0.85"/>
<path d="M194.9 234.85 L197.8 240.07 L192 240.07Z" fill="#80bea0"/>
<rect x="51.52" y="201.74" width="5" height="5" rx="0.75" fill="#fa8080"/>
<rect x="71.65" y="202.55" width="5" height="5" rx="0.75" fill="#fa8080"/>
<rect x="91.78" y="203.22" width="5" height="5" rx="0.75" fill="#fa8080"/>
<rect x="111.9" y="203.88" width="5" height="5" rx="0.75" fill="#fa8080"/>
<rect x="132.03" y="203.35" width="5" height="5" rx="0.75" fill="#fa8080"/>
<rect x="152.15" y="203.88" width="5" height="5" rx="0.75" fill="#fa8080"/>
<path d="M174.78 207.19 V209.87 M172.78 207.19 H176.78 M172.78 209.87 H176.78" stroke="#fa8080" stroke-width="0.8" fill="none" opacity="0.85"/>
<rect x="172.28" y="206.03" width="5" height="5" rx="0.75" fill="#fa8080"/>
<rect x="192.4" y="205.09" width="5" height="5" rx="0.75" fill="#fa8080"/>
<rect x="33.9" y="197.3" width="181.72" height="145" fill="none" stroke="#3a3a3a" stroke-width="1.1"/>
<line x1="30.9" y1="336" x2="33.9" y2="336" stroke="#2a2a2a" stroke-width="1"/>
<text font-size="9.92" text-anchor="end" fill="#111" stroke="#111" stroke-width="0.12" transform="translate(29.3 339.1) scale(0.8772 1)"><tspan>0</tspan></text>
<line x1="30.9" y1="309.22" x2="33.9" y2="309.22" stroke="#2a2a2a" stroke-width="1"/>
<text font-size="9.92" text-anchor="end" fill="#111" stroke="#111" stroke-width="0.12" transform="translate(29.3 312.32) scale(0.8772 1)"><tspan>20</tspan></text>
<line x1="30.9" y1="282.44" x2="33.9" y2="282.44" stroke="#2a2a2a" stroke-width="1"/>
<text font-size="9.92" text-anchor="end" fill="#111" stroke="#111" stroke-width="0.12" transform="translate(29.3 285.54) scale(0.8772 1)"><tspan>40</tspan></text>
<line x1="30.9" y1="255.66" x2="33.9" y2="255.66" stroke="#2a2a2a" stroke-width="1"/>
<text font-size="9.92" text-anchor="end" fill="#111" stroke="#111" stroke-width="0.12" transform="translate(29.3 258.76) scale(0.8772 1)"><tspan>60</tspan></text>
<line x1="30.9" y1="228.88" x2="33.9" y2="228.88" stroke="#2a2a2a" stroke-width="1"/>
<text font-size="9.92" text-anchor="end" fill="#111" stroke="#111" stroke-width="0.12" transform="translate(29.3 231.98) scale(0.8772 1)"><tspan>80</tspan></text>
<line x1="30.9" y1="202.1" x2="33.9" y2="202.1" stroke="#2a2a2a" stroke-width="1"/>
<text font-size="9.92" text-anchor="end" fill="#111" stroke="#111" stroke-width="0.12" transform="translate(29.3 205.2) scale(0.8772 1)"><tspan>100</tspan></text>
<line x1="32.1" y1="322.61" x2="33.9" y2="322.61" stroke="#2a2a2a" stroke-width="1"/>
<line x1="32.1" y1="295.83" x2="33.9" y2="295.83" stroke="#2a2a2a" stroke-width="1"/>
<line x1="32.1" y1="269.05" x2="33.9" y2="269.05" stroke="#2a2a2a" stroke-width="1"/>
<line x1="32.1" y1="242.27" x2="33.9" y2="242.27" stroke="#2a2a2a" stroke-width="1"/>
<line x1="32.1" y1="215.49" x2="33.9" y2="215.49" stroke="#2a2a2a" stroke-width="1"/>
<line x1="33.9" y1="342.3" x2="33.9" y2="345.3" stroke="#2a2a2a" stroke-width="1"/>
<text font-size="9.92" text-anchor="middle" fill="#111" stroke="#111" stroke-width="0.12" transform="translate(33.9 355) scale(0.8772 1)"><tspan>0</tspan></text>
<line x1="74.15" y1="342.3" x2="74.15" y2="345.3" stroke="#2a2a2a" stroke-width="1"/>
<text font-size="9.92" text-anchor="middle" fill="#111" stroke="#111" stroke-width="0.12" transform="translate(74.15 355) scale(0.8772 1)"><tspan>1</tspan></text>
<line x1="114.4" y1="342.3" x2="114.4" y2="345.3" stroke="#2a2a2a" stroke-width="1"/>
<text font-size="9.92" text-anchor="middle" fill="#111" stroke="#111" stroke-width="0.12" transform="translate(114.4 355) scale(0.8772 1)"><tspan>2</tspan></text>
<line x1="154.65" y1="342.3" x2="154.65" y2="345.3" stroke="#2a2a2a" stroke-width="1"/>
<text font-size="9.92" text-anchor="middle" fill="#111" stroke="#111" stroke-width="0.12" transform="translate(154.65 355) scale(0.8772 1)"><tspan>3</tspan></text>
<line x1="194.9" y1="342.3" x2="194.9" y2="345.3" stroke="#2a2a2a" stroke-width="1"/>
<text font-size="9.92" text-anchor="middle" fill="#111" stroke="#111" stroke-width="0.12" transform="translate(194.9 355) scale(0.8772 1)"><tspan>4</tspan></text>
<line x1="54.02" y1="342.3" x2="54.02" y2="344.1" stroke="#2a2a2a" stroke-width="1"/>
<line x1="94.28" y1="342.3" x2="94.28" y2="344.1" stroke="#2a2a2a" stroke-width="1"/>
<line x1="134.53" y1="342.3" x2="134.53" y2="344.1" stroke="#2a2a2a" stroke-width="1"/>
<line x1="174.78" y1="342.3" x2="174.78" y2="344.1" stroke="#2a2a2a" stroke-width="1"/>
<line x1="215.03" y1="342.3" x2="215.03" y2="344.1" stroke="#2a2a2a" stroke-width="1"/>
<line x1="53.9" y1="272.3" x2="72.9" y2="272.3" stroke="#7c7c7c" stroke-width="1.2"/>
<path d="M63.5 269.19 L66.14 272.3 L63.5 275.41 L60.86 272.3Z" fill="#7c7c7c"/>
<text font-size="9.46" text-anchor="start" fill="#222" stroke="#222" stroke-width="0.12" transform="translate(74.9 275.2) scale(0.8772 1)"><tspan>0    M K</tspan><tspan dy="-3.6" font-size="6.15">+</tspan></text>
<line x1="53.9" y1="283.3" x2="72.9" y2="283.3" stroke="#f799d5" stroke-width="1.2"/>
<path d="M63.5 286.43 L66.4 281.21 L60.6 281.21Z" fill="#f799d5"/>
<text font-size="9.46" text-anchor="start" fill="#222" stroke="#222" stroke-width="0.12" transform="translate(74.9 286.2) scale(0.8772 1)"><tspan>0.1 M K</tspan><tspan dy="-3.6" font-size="6.15">+</tspan></text>
<line x1="53.9" y1="294.5" x2="72.9" y2="294.5" stroke="#91c9e9" stroke-width="1.2"/>
<circle cx="63.5" cy="294.5" r="2.6" fill="#91c9e9"/>
<text font-size="9.46" text-anchor="start" fill="#222" stroke="#222" stroke-width="0.12" transform="translate(74.9 297.4) scale(0.8772 1)"><tspan>0.5 M K</tspan><tspan dy="-3.6" font-size="6.15">+</tspan></text>
<line x1="53.9" y1="305.5" x2="72.9" y2="305.5" stroke="#80bea0" stroke-width="1.2"/>
<path d="M63.5 302.37 L66.4 307.59 L60.6 307.59Z" fill="#80bea0"/>
<text font-size="9.46" text-anchor="start" fill="#222" stroke="#222" stroke-width="0.12" transform="translate(74.9 308.4) scale(0.8772 1)"><tspan>1.0 M K</tspan><tspan dy="-3.6" font-size="6.15">+</tspan></text>
<line x1="53.9" y1="316.6" x2="72.9" y2="316.6" stroke="#fa8080" stroke-width="1.2"/>
<rect x="61" y="314.1" width="5" height="5" rx="0.75" fill="#fa8080"/>
<text font-size="9.46" text-anchor="start" fill="#222" stroke="#222" stroke-width="0.12" transform="translate(74.9 319.5) scale(0.8772 1)"><tspan>3.0 M K</tspan><tspan dy="-3.6" font-size="6.15">+</tspan></text>
<text font-size="10.94" text-anchor="middle" fill="#111" stroke="#111" stroke-width="0.12" transform="translate(124.5 368.2) scale(0.8772 1)"><tspan font-style="italic">j</tspan><tspan> (A/cm</tspan><tspan dy="-4.16" font-size="7.11">2</tspan><tspan dy="4.16">)</tspan></text>
<text font-size="10.94" text-anchor="middle" fill="#111" stroke="#111" stroke-width="0.12" transform="translate(10.9 269.4) rotate(-90) scale(0.8772 1)"><tspan>CO FE (%)</tspan></text>
<path d="M281.62 200.76 C284.98 200.96 295.04 201.88 301.75 201.97 C308.46 202.06 315.17 201.21 321.88 201.3 C328.58 201.39 335.29 202.17 342 202.5 C348.71 202.84 355.42 203.22 362.12 203.31 C368.83 203.39 375.54 203.42 382.25 203.04 C388.96 202.66 395.67 201.14 402.38 201.03 C409.08 200.92 419.15 202.14 422.5 202.37" stroke="#7c7c7c" stroke-width="1.2" fill="none"/>
<path d="M281.62 298.24 C284.98 297.99 295.04 298.04 301.75 296.77 C308.46 295.5 315.17 292.66 321.88 290.61 C328.58 288.55 335.29 287.13 342 284.45 C348.71 281.77 355.42 277.87 362.12 274.54 C368.83 271.21 375.54 268.63 382.25 264.5 C388.96 260.37 395.67 254.86 402.38 249.77 C409.08 244.68 419.15 236.6 422.5 233.97" stroke="#f799d5" stroke-width="1.2" fill="none"/>
<path d="M281.62 322.21 C284.98 321.56 295.04 319.35 301.75 318.33 C308.46 317.3 315.17 317.19 321.88 316.05 C328.58 314.91 335.29 312.84 342 311.5 C348.71 310.16 355.42 310.36 362.12 308.01 C368.83 305.67 375.54 302.03 382.25 297.44 C388.96 292.84 395.67 285.63 402.38 280.43 C409.08 275.23 419.15 268.6 422.5 266.24" stroke="#91c9e9" stroke-width="1.2" fill="none"/>
<path d="M281.62 328.5 C284.98 328.1 295.04 326.74 301.75 326.09 C308.46 325.44 315.17 325.11 321.88 324.62 C328.58 324.13 335.29 324.11 342 323.15 C348.71 322.19 355.42 320.2 362.12 318.86 C368.83 317.52 375.54 316.56 382.25 315.11 C388.96 313.66 395.67 312.59 402.38 310.16 C409.08 307.72 419.15 302.12 422.5 300.52" stroke="#80bea0" stroke-width="1.2" fill="none"/>
<path d="M281.62 334.66 C284.98 334.48 295.04 334.01 301.75 333.59 C308.46 333.17 315.17 332.52 321.88 332.12 C328.58 331.72 335.29 331.31 342 331.18 C348.71 331.05 355.42 331.49 362.12 331.31 C368.83 331.13 375.54 330.29 382.25 330.11 C388.96 329.93 395.67 330.04 402.38 330.24 C409.08 330.44 419.15 331.13 422.5 331.31" stroke="#fa8080" stroke-width="1.2" fill="none"/>
<path d="M281.62 197.66 L284.26 200.76 L281.62 203.87 L278.99 200.76Z" fill="#7c7c7c"/>
<path d="M301.75 198.86 L304.39 201.97 L301.75 205.07 L299.11 201.97Z" fill="#7c7c7c"/>
<path d="M321.88 198.19 L324.51 201.3 L321.88 204.4 L319.24 201.3Z" fill="#7c7c7c"/>
<path d="M342 199.4 L344.64 202.5 L342 205.61 L339.36 202.5Z" fill="#7c7c7c"/>
<path d="M362.12 200.2 L364.76 203.31 L362.12 206.41 L359.49 203.31Z" fill="#7c7c7c"/>
<path d="M382.25 199.93 L384.89 203.04 L382.25 206.14 L379.61 203.04Z" fill="#7c7c7c"/>
<path d="M402.38 198.35 V203.71 M400.38 198.35 H404.38 M400.38 203.71 H404.38" stroke="#7c7c7c" stroke-width="0.8" fill="none" opacity="0.85"/>
<path d="M402.38 197.92 L405.01 201.03 L402.38 204.13 L399.74 201.03Z" fill="#7c7c7c"/>
<path d="M422.5 199.26 L425.14 202.37 L422.5 205.47 L419.86 202.37Z" fill="#7c7c7c"/>
<path d="M281.62 293.55 V302.93 M279.62 293.55 H283.62 M279.62 302.93 H283.62" stroke="#f799d5" stroke-width="0.8" fill="none" opacity="0.85"/>
<path d="M281.62 301.37 L284.52 296.15 L278.73 296.15Z" fill="#f799d5"/>
<path d="M301.75 293.42 V300.11 M299.75 293.42 H303.75 M299.75 300.11 H303.75" stroke="#f799d5" stroke-width="0.8" fill="none" opacity="0.85"/>
<path d="M301.75 299.9 L304.65 294.68 L298.85 294.68Z" fill="#f799d5"/>
<path d="M321.88 285.92 V295.29 M319.88 285.92 H323.88 M319.88 295.29 H323.88" stroke="#f799d5" stroke-width="0.8" fill="none" opacity="0.85"/>
<path d="M321.88 293.74 L324.77 288.52 L318.98 288.52Z" fill="#f799d5"/>
<path d="M342 282.44 V286.46 M340 282.44 H344 M340 286.46 H344" stroke="#f799d5" stroke-width="0.8" fill="none" opacity="0.85"/>
<path d="M342 287.58 L344.9 282.36 L339.1 282.36Z" fill="#f799d5"/>
<path d="M362.12 273.2 V275.88 M360.12 273.2 H364.12 M360.12 275.88 H364.12" stroke="#f799d5" stroke-width="0.8" fill="none" opacity="0.85"/>
<path d="M362.12 277.67 L365.02 272.45 L359.23 272.45Z" fill="#f799d5"/>
<path d="M382.25 261.82 V267.18 M380.25 261.82 H384.25 M380.25 267.18 H384.25" stroke="#f799d5" stroke-width="0.8" fill="none" opacity="0.85"/>
<path d="M382.25 267.63 L385.15 262.41 L379.35 262.41Z" fill="#f799d5"/>
<path d="M402.38 247.09 V252.45 M400.38 247.09 H404.38 M400.38 252.45 H404.38" stroke="#f799d5" stroke-width="0.8" fill="none" opacity="0.85"/>
<path d="M402.38 252.9 L405.27 247.68 L399.48 247.68Z" fill="#f799d5"/>
<path d="M422.5 231.29 V236.65 M420.5 231.29 H424.5 M420.5 236.65 H424.5" stroke="#f799d5" stroke-width="0.8" fill="none" opacity="0.85"/>
<path d="M422.5 237.1 L425.4 231.88 L419.6 231.88Z" fill="#f799d5"/>
<path d="M281.62 318.19 V326.23 M279.62 318.19 H283.62 M279.62 326.23 H283.62" stroke="#91c9e9" stroke-width="0.8" fill="none" opacity="0.85"/>
<circle cx="281.62" cy="322.21" r="2.6" fill="#91c9e9"/>
<path d="M301.75 315.65 V321 M299.75 315.65 H303.75 M299.75 321 H303.75" stroke="#91c9e9" stroke-width="0.8" fill="none" opacity="0.85"/>
<circle cx="301.75" cy="318.33" r="2.6" fill="#91c9e9"/>
<path d="M321.88 312.03 V320.07 M319.88 312.03 H323.88 M319.88 320.07 H323.88" stroke="#91c9e9" stroke-width="0.8" fill="none" opacity="0.85"/>
<circle cx="321.88" cy="316.05" r="2.6" fill="#91c9e9"/>
<path d="M342 307.48 V315.51 M340 307.48 H344 M340 315.51 H344" stroke="#91c9e9" stroke-width="0.8" fill="none" opacity="0.85"/>
<circle cx="342" cy="311.5" r="2.6" fill="#91c9e9"/>
<path d="M362.12 303.33 V312.7 M360.12 303.33 H364.12 M360.12 312.7 H364.12" stroke="#91c9e9" stroke-width="0.8" fill="none" opacity="0.85"/>
<circle cx="362.12" cy="308.01" r="2.6" fill="#91c9e9"/>
<path d="M382.25 296.1 V298.78 M380.25 296.1 H384.25 M380.25 298.78 H384.25" stroke="#91c9e9" stroke-width="0.8" fill="none" opacity="0.85"/>
<circle cx="382.25" cy="297.44" r="2.6" fill="#91c9e9"/>
<path d="M402.38 279.09 V281.77 M400.38 279.09 H404.38 M400.38 281.77 H404.38" stroke="#91c9e9" stroke-width="0.8" fill="none" opacity="0.85"/>
<circle cx="402.38" cy="280.43" r="2.6" fill="#91c9e9"/>
<path d="M422.5 260.88 V271.59 M420.5 260.88 H424.5 M420.5 271.59 H424.5" stroke="#91c9e9" stroke-width="0.8" fill="none" opacity="0.85"/>
<circle cx="422.5" cy="266.24" r="2.6" fill="#91c9e9"/>
<path d="M281.62 325.82 V331.18 M279.62 325.82 H283.62 M279.62 331.18 H283.62" stroke="#80bea0" stroke-width="0.8" fill="none" opacity="0.85"/>
<path d="M281.62 325.37 L284.52 330.59 L278.73 330.59Z" fill="#80bea0"/>
<path d="M301.75 323.41 V328.77 M299.75 323.41 H303.75 M299.75 328.77 H303.75" stroke="#80bea0" stroke-width="0.8" fill="none" opacity="0.85"/>
<path d="M301.75 322.96 L304.65 328.18 L298.85 328.18Z" fill="#80bea0"/>
<path d="M321.88 321.27 V327.97 M319.88 321.27 H323.88 M319.88 327.97 H323.88" stroke="#80bea0" stroke-width="0.8" fill="none" opacity="0.85"/>
<path d="M321.88 321.49 L324.77 326.71 L318.98 326.71Z" fill="#80bea0"/>
<path d="M342 321.14 V325.15 M340 321.14 H344 M340 325.15 H344" stroke="#80bea0" stroke-width="0.8" fill="none" opacity="0.85"/>
<path d="M342 320.01 L344.9 325.23 L339.1 325.23Z" fill="#80bea0"/>
<path d="M362.12 315.51 V322.21 M360.12 315.51 H364.12 M360.12 322.21 H364.12" stroke="#80bea0" stroke-width="0.8" fill="none" opacity="0.85"/>
<path d="M362.12 315.73 L365.02 320.95 L359.23 320.95Z" fill="#80bea0"/>
<path d="M382.25 311.09 V319.13 M380.25 311.09 H384.25 M380.25 319.13 H384.25" stroke="#80bea0" stroke-width="0.8" fill="none" opacity="0.85"/>
<path d="M382.25 311.98 L385.15 317.2 L379.35 317.2Z" fill="#80bea0"/>
<path d="M402.38 302.12 V318.19 M400.38 302.12 H404.38 M400.38 318.19 H404.38" stroke="#80bea0" stroke-width="0.8" fill="none" opacity="0.85"/>
<path d="M402.38 307.03 L405.27 312.25 L399.48 312.25Z" fill="#80bea0"/>
<path d="M422.5 297.17 V303.86 M420.5 297.17 H424.5 M420.5 303.86 H424.5" stroke="#80bea0" stroke-width="0.8" fill="none" opacity="0.85"/>
<path d="M422.5 297.38 L425.4 302.6 L419.6 302.6Z" fill="#80bea0"/>
<rect x="279.12" y="332.16" width="5" height="5" rx="0.75" fill="#fa8080"/>
<rect x="299.25" y="331.09" width="5" height="5" rx="0.75" fill="#fa8080"/>
<rect x="319.38" y="329.62" width="5" height="5" rx="0.75" fill="#fa8080"/>
<rect x="339.5" y="328.68" width="5" height="5" rx="0.75" fill="#fa8080"/>
<rect x="359.62" y="328.81" width="5" height="5" rx="0.75" fill="#fa8080"/>
<rect x="379.75" y="327.61" width="5" height="5" rx="0.75" fill="#fa8080"/>
<path d="M402.38 328.9 V331.58 M400.38 328.9 H404.38 M400.38 331.58 H404.38" stroke="#fa8080" stroke-width="0.8" fill="none" opacity="0.85"/>
<rect x="399.88" y="327.74" width="5" height="5" rx="0.75" fill="#fa8080"/>
<rect x="420" y="328.81" width="5" height="5" rx="0.75" fill="#fa8080"/>
<rect x="261.5" y="197.3" width="181.73" height="145" fill="none" stroke="#3a3a3a" stroke-width="1.1"/>
<line x1="258.5" y1="336" x2="261.5" y2="336" stroke="#2a2a2a" stroke-width="1"/>
<text font-size="9.92" text-anchor="end" fill="#111" stroke="#111" stroke-width="0.12" transform="translate(256.9 339.1) scale(0.8772 1)"><tspan>0</tspan></text>
<line x1="258.5" y1="309.22" x2="261.5" y2="309.22" stroke="#2a2a2a" stroke-width="1"/>
<text font-size="9.92" text-anchor="end" fill="#111" stroke="#111" stroke-width="0.12" transform="translate(256.9 312.32) scale(0.8772 1)"><tspan>20</tspan></text>
<line x1="258.5" y1="282.44" x2="261.5" y2="282.44" stroke="#2a2a2a" stroke-width="1"/>
<text font-size="9.92" text-anchor="end" fill="#111" stroke="#111" stroke-width="0.12" transform="translate(256.9 285.54) scale(0.8772 1)"><tspan>40</tspan></text>
<line x1="258.5" y1="255.66" x2="261.5" y2="255.66" stroke="#2a2a2a" stroke-width="1"/>
<text font-size="9.92" text-anchor="end" fill="#111" stroke="#111" stroke-width="0.12" transform="translate(256.9 258.76) scale(0.8772 1)"><tspan>60</tspan></text>
<line x1="258.5" y1="228.88" x2="261.5" y2="228.88" stroke="#2a2a2a" stroke-width="1"/>
<text font-size="9.92" text-anchor="end" fill="#111" stroke="#111" stroke-width="0.12" transform="translate(256.9 231.98) scale(0.8772 1)"><tspan>80</tspan></text>
<line x1="258.5" y1="202.1" x2="261.5" y2="202.1" stroke="#2a2a2a" stroke-width="1"/>
<text font-size="9.92" text-anchor="end" fill="#111" stroke="#111" stroke-width="0.12" transform="translate(256.9 205.2) scale(0.8772 1)"><tspan>100</tspan></text>
<line x1="259.7" y1="322.61" x2="261.5" y2="322.61" stroke="#2a2a2a" stroke-width="1"/>
<line x1="259.7" y1="295.83" x2="261.5" y2="295.83" stroke="#2a2a2a" stroke-width="1"/>
<line x1="259.7" y1="269.05" x2="261.5" y2="269.05" stroke="#2a2a2a" stroke-width="1"/>
<line x1="259.7" y1="242.27" x2="261.5" y2="242.27" stroke="#2a2a2a" stroke-width="1"/>
<line x1="259.7" y1="215.49" x2="261.5" y2="215.49" stroke="#2a2a2a" stroke-width="1"/>
<line x1="261.5" y1="342.3" x2="261.5" y2="345.3" stroke="#2a2a2a" stroke-width="1"/>
<text font-size="9.92" text-anchor="middle" fill="#111" stroke="#111" stroke-width="0.12" transform="translate(261.5 355) scale(0.8772 1)"><tspan>0</tspan></text>
<line x1="301.75" y1="342.3" x2="301.75" y2="345.3" stroke="#2a2a2a" stroke-width="1"/>
<text font-size="9.92" text-anchor="middle" fill="#111" stroke="#111" stroke-width="0.12" transform="translate(301.75 355) scale(0.8772 1)"><tspan>1</tspan></text>
<line x1="342" y1="342.3" x2="342" y2="345.3" stroke="#2a2a2a" stroke-width="1"/>
<text font-size="9.92" text-anchor="middle" fill="#111" stroke="#111" stroke-width="0.12" transform="translate(342 355) scale(0.8772 1)"><tspan>2</tspan></text>
<line x1="382.25" y1="342.3" x2="382.25" y2="345.3" stroke="#2a2a2a" stroke-width="1"/>
<text font-size="9.92" text-anchor="middle" fill="#111" stroke="#111" stroke-width="0.12" transform="translate(382.25 355) scale(0.8772 1)"><tspan>3</tspan></text>
<line x1="422.5" y1="342.3" x2="422.5" y2="345.3" stroke="#2a2a2a" stroke-width="1"/>
<text font-size="9.92" text-anchor="middle" fill="#111" stroke="#111" stroke-width="0.12" transform="translate(422.5 355) scale(0.8772 1)"><tspan>4</tspan></text>
<line x1="281.62" y1="342.3" x2="281.62" y2="344.1" stroke="#2a2a2a" stroke-width="1"/>
<line x1="321.88" y1="342.3" x2="321.88" y2="344.1" stroke="#2a2a2a" stroke-width="1"/>
<line x1="362.12" y1="342.3" x2="362.12" y2="344.1" stroke="#2a2a2a" stroke-width="1"/>
<line x1="402.38" y1="342.3" x2="402.38" y2="344.1" stroke="#2a2a2a" stroke-width="1"/>
<line x1="442.62" y1="342.3" x2="442.62" y2="344.1" stroke="#2a2a2a" stroke-width="1"/>
<line x1="279.8" y1="222.8" x2="298.8" y2="222.8" stroke="#7c7c7c" stroke-width="1.2"/>
<path d="M289.4 219.7 L292.04 222.8 L289.4 225.91 L286.76 222.8Z" fill="#7c7c7c"/>
<text font-size="9.46" text-anchor="start" fill="#222" stroke="#222" stroke-width="0.12" transform="translate(300.8 225.7) scale(0.8772 1)"><tspan>0    M K</tspan><tspan dy="-3.6" font-size="6.15">+</tspan></text>
<line x1="279.8" y1="234.1" x2="298.8" y2="234.1" stroke="#f799d5" stroke-width="1.2"/>
<path d="M289.4 237.23 L292.3 232.01 L286.5 232.01Z" fill="#f799d5"/>
<text font-size="9.46" text-anchor="start" fill="#222" stroke="#222" stroke-width="0.12" transform="translate(300.8 237) scale(0.8772 1)"><tspan>0.1 M K</tspan><tspan dy="-3.6" font-size="6.15">+</tspan></text>
<line x1="279.8" y1="245.3" x2="298.8" y2="245.3" stroke="#91c9e9" stroke-width="1.2"/>
<circle cx="289.4" cy="245.3" r="2.6" fill="#91c9e9"/>
<text font-size="9.46" text-anchor="start" fill="#222" stroke="#222" stroke-width="0.12" transform="translate(300.8 248.2) scale(0.8772 1)"><tspan>0.5 M K</tspan><tspan dy="-3.6" font-size="6.15">+</tspan></text>
<line x1="279.8" y1="256.3" x2="298.8" y2="256.3" stroke="#80bea0" stroke-width="1.2"/>
<path d="M289.4 253.17 L292.3 258.39 L286.5 258.39Z" fill="#80bea0"/>
<text font-size="9.46" text-anchor="start" fill="#222" stroke="#222" stroke-width="0.12" transform="translate(300.8 259.2) scale(0.8772 1)"><tspan>1.0 M K</tspan><tspan dy="-3.6" font-size="6.15">+</tspan></text>
<line x1="279.8" y1="267.5" x2="298.8" y2="267.5" stroke="#fa8080" stroke-width="1.2"/>
<rect x="286.9" y="265" width="5" height="5" rx="0.75" fill="#fa8080"/>
<text font-size="9.46" text-anchor="start" fill="#222" stroke="#222" stroke-width="0.12" transform="translate(300.8 270.4) scale(0.8772 1)"><tspan>3.0 M K</tspan><tspan dy="-3.6" font-size="6.15">+</tspan></text>
<text font-size="10.94" text-anchor="middle" fill="#111" stroke="#111" stroke-width="0.12" transform="translate(352 368.2) scale(0.8772 1)"><tspan font-style="italic">j</tspan><tspan> (A/cm</tspan><tspan dy="-4.16" font-size="7.11">2</tspan><tspan dy="4.16">)</tspan></text>
<text font-size="10.94" text-anchor="middle" fill="#111" stroke="#111" stroke-width="0.12" transform="translate(237.3 269.8) rotate(-90) scale(0.8772 1)"><tspan>H</tspan><tspan dy="2.41" font-size="7.11">2</tspan><tspan dy="-2.41"> FE (%)</tspan></text>
<clipPath id="fclip"><rect x="488.4" y="197.7" width="159.2" height="145.9"/></clipPath>
<g clip-path="url(#fclip)">
<rect x="488.4" y="197.7" width="159.2" height="145.9" fill="#139c9c"/>
<path d="M489.27 341.29L490.42 341.28L491.57 341.28L492.71 341.27L493.86 341.27L495.01 341.27L496.15 341.26L497.3 341.26L498.45 341.25L499.59 341.25L500.74 341.25L501.89 341.24L503.04 341.24L504.18 341.24L505.33 341.24L506.48 341.23L507.62 341.23L508.77 341.23L509.92 341.23L511.06 341.23L512.21 341.23L513.36 341.23L514.5 341.23L515.65 341.24L516.8 341.24L517.95 341.24L519.09 341.24L520.24 341.24L521.39 341.25L522.53 341.25L523.68 341.25L524.83 341.25L525.97 341.25L527.12 341.25L528.27 341.25L529.41 341.25L530.56 341.25L531.71 341.25L532.86 341.24L534 341.24L535.15 341.24L536.3 341.23L537.44 341.22L538.59 341.22L539.74 341.21L540.88 341.2L542.03 341.19L543.18 341.18L544.33 341.16L545.47 341.15L546.62 341.14L547.77 341.12L548.91 341.11L550.06 341.09L551.21 341.07L552.35 341.06L553.5 341.04L554.65 341.02L555.79 341L556.94 340.98L558.09 340.96L559.24 340.94L560.38 340.92L561.53 340.89L562.68 340.87L563.82 340.85L564.97 340.82L566.12 340.8L567.26 340.77L568.41 340.75L569.56 340.72L570.7 340.69L571.85 340.67L573 340.64L574.15 340.62L575.29 340.59L576.44 340.56L577.59 340.54L578.73 340.51L579.88 340.49L581.03 340.46L581.74 340.45L582.17 340.44L583.32 340.42L584.47 340.39L585.62 340.37L586.76 340.35L587.91 340.32L589.06 340.3L590.2 340.27L591.35 340.25L592.5 340.22L593.64 340.2L594.79 340.17L595.94 340.14L597.08 340.11L598.23 340.08L599.38 340.04L600.53 340.01L601.67 339.97L602.82 339.93L603.97 339.88L605.11 339.84L606.26 339.79L607.41 339.74L608.55 339.68L609.7 339.62L610.85 339.56L611.99 339.5L613.14 339.44L613.77 339.4L614.29 339.37L615.44 339.3L616.58 339.22L617.73 339.15L618.88 339.07L620.02 339L621.17 338.92L622.32 338.83L623.46 338.75L624.61 338.67L625.76 338.58L626.91 338.5L628.05 338.42L628.95 338.35L629.2 338.33L630.35 338.24L631.49 338.16L632.64 338.07L633.79 337.98L634.93 337.89L636.08 337.8L637.23 337.71L638.37 337.62L639.52 337.52L640.67 337.43L641.82 337.33L642.21 337.3L642.96 337.23L644.11 337.13L645.26 337.03L646.4 336.92L647.55 336.81L647.55 336.25L647.55 335.2L647.55 334.15L647.55 333.1L647.55 332.05L647.55 331L647.55 329.95L647.55 328.89L647.55 327.84L647.55 326.79L647.55 325.74L647.55 324.69L647.55 323.64L647.55 322.59L647.55 321.54L647.55 320.49L647.55 319.44L647.55 318.39L647.55 317.34L647.55 316.29L647.55 315.24L647.55 314.19L647.55 313.14L647.55 312.09L647.55 311.04L647.55 309.99L647.55 308.94L647.55 307.89L647.55 306.84L647.55 305.79L647.55 304.74L647.55 303.69L647.55 302.64L647.55 301.59L647.55 300.54L647.55 299.48L647.55 298.43L647.55 297.38L647.55 296.33L647.55 295.28L647.55 294.23L647.55 293.18L647.55 292.13L647.55 291.08L647.55 290.03L647.55 288.98L647.55 287.93L647.55 286.88L647.55 285.83L647.55 284.78L647.55 283.73L647.55 282.68L647.55 281.63L647.55 280.58L647.55 279.53L647.55 278.48L647.55 277.43L647.55 276.38L647.55 275.33L647.55 274.28L647.55 273.23L647.55 272.18L647.55 271.13L647.55 270.07L647.55 269.02L647.55 267.97L647.55 266.92L647.55 265.87L647.55 264.82L647.55 263.77L647.55 262.72L647.55 261.67L647.55 260.62L647.55 259.57L647.55 258.52L647.55 257.47L647.55 256.42L647.55 255.37L647.55 254.32L647.55 253.27L647.55 252.22L647.55 251.17L647.55 250.12L647.55 249.07L647.55 248.02L647.55 246.97L647.55 245.92L647.55 244.87L647.55 243.82L647.55 242.77L647.55 241.72L647.55 240.66L647.55 239.61L647.55 238.56L647.55 237.51L647.55 236.46L647.55 235.41L647.55 234.36L647.55 233.31L647.55 232.26L647.55 231.21L647.55 230.16L647.55 229.11L647.55 228.06L647.55 227.01L647.55 225.96L647.55 224.91L647.55 223.86L647.55 222.81L647.55 221.76L647.55 220.71L647.55 219.66L647.55 218.61L647.55 217.56L647.55 216.51L647.55 215.46L647.55 214.41L647.55 213.36L647.55 212.31L647.55 211.25L647.55 210.2L647.55 209.15L647.55 208.1L647.55 207.05L647.55 206L647.55 204.95L647.55 203.9L647.55 202.85L647.55 201.8L647.55 200.75L647.55 199.7L647.55 198.65L647.55 197.6L646.4 197.6L645.26 197.6L644.11 197.6L642.96 197.6L641.82 197.6L640.67 197.6L639.52 197.6L638.37 197.6L637.23 197.6L636.08 197.6L634.93 197.6L633.79 197.6L632.64 197.6L631.49 197.6L630.35 197.6L629.2 197.6L628.05 197.6L626.91 197.6L625.76 197.6L624.61 197.6L623.46 197.6L622.32 197.6L621.17 197.6L620.02 197.6L618.88 197.6L617.73 197.6L616.58 197.6L615.44 197.6L614.29 197.6L613.14 197.6L611.99 197.6L610.85 197.6L609.7 197.6L608.55 197.6L607.41 197.6L606.26 197.6L605.11 197.6L603.97 197.6L602.82 197.6L601.67 197.6L600.53 197.6L599.38 197.6L598.23 197.6L597.08 197.6L595.94 197.6L594.79 197.6L593.64 197.6L592.5 197.6L591.35 197.6L590.2 197.6L589.06 197.6L587.91 197.6L586.76 197.6L585.62 197.6L584.47 197.6L583.32 197.6L582.17 197.6L581.03 197.6L579.88 197.6L578.73 197.6L577.59 197.6L576.44 197.6L575.29 197.6L574.15 197.6L573 197.6L571.85 197.6L570.7 197.6L569.56 197.6L568.41 197.6L567.26 197.6L566.12 197.6L564.97 197.6L563.82 197.6L562.68 197.6L561.53 197.6L560.38 197.6L559.24 197.6L558.09 197.6L556.94 197.6L555.79 197.6L554.65 197.6L553.5 197.6L552.35 197.6L551.21 197.6L550.06 197.6L548.91 197.6L547.77 197.6L546.62 197.6L545.47 197.6L544.33 197.6L543.18 197.6L542.03 197.6L540.88 197.6L539.74 197.6L538.59 197.6L537.44 197.6L536.3 197.6L535.15 197.6L534 197.6L532.86 197.6L531.71 197.6L530.56 197.6L529.41 197.6L528.27 197.6L527.12 197.6L525.97 197.6L524.83 197.6L523.68 197.6L522.53 197.6L521.39 197.6L520.24 197.6L519.09 197.6L517.95 197.6L516.8 197.6L515.65 197.6L514.5 197.6L513.36 197.6L512.21 197.6L511.06 197.6L509.92 197.6L508.77 197.6L507.62 197.6L506.48 197.6L505.33 197.6L504.18 197.6L503.04 197.6L501.89 197.6L500.74 197.6L499.59 197.6L498.45 197.6L497.3 197.6L496.15 197.6L495.01 197.6L493.86 197.6L492.71 197.6L491.57 197.6L490.42 197.6L489.27 197.6L488.12 197.6L488.12 198.65L488.12 199.7L488.12 200.75L488.12 201.8L488.12 202.85L488.12 203.9L488.12 204.95L488.12 206L488.12 207.05L488.12 208.1L488.12 209.15L488.12 210.2L488.12 211.25L488.12 212.31L488.12 213.36L488.12 214.41L488.12 215.46L488.12 216.51L488.12 217.56L488.12 218.61L488.12 219.66L488.12 220.71L488.12 221.76L488.12 222.81L488.12 223.86L488.12 224.91L488.12 225.96L488.12 227.01L488.12 228.06L488.12 229.11L488.12 230.16L488.12 231.21L488.12 232.26L488.12 233.31L488.12 234.36L488.12 235.41L488.12 236.46L488.12 237.51L488.12 238.56L488.12 239.61L488.12 240.66L488.12 241.72L488.12 242.77L488.12 243.82L488.12 244.87L488.12 245.92L488.12 246.97L488.12 248.02L488.12 249.07L488.12 250.12L488.12 251.17L488.12 252.22L488.12 253.27L488.12 254.32L488.12 255.37L488.12 256.42L488.12 257.47L488.12 258.52L488.12 259.57L488.12 260.62L488.12 261.67L488.12 262.72L488.12 263.77L488.12 264.82L488.12 265.87L488.12 266.92L488.12 267.97L488.12 269.02L488.12 270.07L488.12 271.13L488.12 272.18L488.12 273.23L488.12 274.28L488.12 275.33L488.12 276.38L488.12 277.43L488.12 278.48L488.12 279.53L488.12 280.58L488.12 281.63L488.12 282.68L488.12 283.73L488.12 284.78L488.12 285.83L488.12 286.88L488.12 287.93L488.12 288.98L488.12 290.03L488.12 291.08L488.12 292.13L488.12 293.18L488.12 294.23L488.12 295.28L488.12 296.33L488.12 297.38L488.12 298.43L488.12 299.48L488.12 300.54L488.12 301.59L488.12 302.64L488.12 303.69L488.12 304.74L488.12 305.79L488.12 306.84L488.12 307.89L488.12 308.94L488.12 309.99L488.12 311.04L488.12 312.09L488.12 313.14L488.12 314.19L488.12 315.24L488.12 316.29L488.12 317.34L488.12 318.39L488.12 319.44L488.12 320.49L488.12 321.54L488.12 322.59L488.12 323.64L488.12 324.69L488.12 325.74L488.12 326.79L488.12 327.84L488.12 328.89L488.12 329.95L488.12 331L488.12 332.05L488.12 333.1L488.12 334.15L488.12 335.2L488.12 336.25L488.12 337.3L488.12 338.35L488.12 339.4L488.12 340.45L488.12 341.29Z" fill="#2aa6a6" stroke="#2aa6a6" stroke-width="0.3"/>
<path d="M489.27 338.93L490.42 338.92L491.57 338.91L492.71 338.9L493.86 338.89L495.01 338.89L496.15 338.88L497.3 338.87L498.45 338.86L499.59 338.86L500.74 338.85L501.89 338.84L503.04 338.84L504.18 338.83L505.33 338.83L506.48 338.82L507.62 338.82L508.77 338.82L509.92 338.81L511.06 338.81L512.21 338.81L513.36 338.81L514.5 338.81L515.65 338.82L516.8 338.82L517.95 338.82L519.09 338.82L520.24 338.82L521.39 338.82L522.53 338.83L523.68 338.83L524.83 338.83L525.97 338.82L527.12 338.82L528.27 338.82L529.41 338.82L530.56 338.81L531.71 338.8L532.86 338.79L534 338.78L535.15 338.77L536.3 338.76L537.44 338.74L538.59 338.72L539.74 338.7L540.88 338.68L542.03 338.65L543.18 338.63L544.33 338.6L545.47 338.57L546.62 338.54L547.77 338.51L548.91 338.47L550.06 338.44L551.21 338.4L552.35 338.36L552.77 338.35L553.5 338.32L554.65 338.28L555.79 338.24L556.94 338.19L558.09 338.15L559.24 338.1L560.38 338.05L561.53 338L562.68 337.95L563.82 337.89L564.97 337.84L566.12 337.78L567.26 337.73L568.41 337.67L569.56 337.61L570.7 337.56L571.85 337.5L573 337.44L574.15 337.38L575.29 337.33L575.88 337.3L576.44 337.27L577.59 337.21L578.73 337.16L579.88 337.1L581.03 337.05L582.17 337L583.32 336.95L584.47 336.9L585.62 336.85L586.76 336.8L587.91 336.75L589.06 336.7L590.2 336.65L591.35 336.59L592.5 336.54L593.64 336.49L594.79 336.43L595.94 336.37L597.08 336.31L598.14 336.25L598.23 336.24L599.38 336.17L600.53 336.1L601.67 336.02L602.82 335.94L603.97 335.85L605.11 335.76L606.26 335.66L607.41 335.55L608.55 335.44L609.7 335.33L610.85 335.21L610.93 335.2L611.99 335.08L613.14 334.95L614.29 334.81L615.44 334.67L616.58 334.53L617.73 334.38L618.88 334.23L619.48 334.15L620.02 334.07L621.17 333.91L622.32 333.75L623.46 333.59L624.61 333.42L625.76 333.25L626.84 333.1L626.91 333.09L628.05 332.92L629.2 332.75L630.35 332.58L631.49 332.41L632.64 332.23L633.79 332.06L633.86 332.05L634.93 331.88L636.08 331.7L637.23 331.52L638.37 331.34L639.52 331.15L640.47 331L640.67 330.96L641.82 330.77L642.96 330.57L644.11 330.37L645.26 330.17L646.4 329.95L646.45 329.95L647.55 329.74L647.55 328.89L647.55 327.84L647.55 326.79L647.55 325.74L647.55 324.69L647.55 323.64L647.55 322.59L647.55 321.54L647.55 320.49L647.55 319.44L647.55 318.39L647.55 317.34L647.55 316.29L647.55 315.24L647.55 314.19L647.55 313.14L647.55 312.09L647.55 311.04L647.55 309.99L647.55 308.94L647.55 307.89L647.55 306.84L647.55 305.79L647.55 304.74L647.55 303.69L647.55 302.64L647.55 301.59L647.55 300.54L647.55 299.48L647.55 298.43L647.55 297.38L647.55 296.33L647.55 295.28L647.55 294.23L647.55 293.18L647.55 292.13L647.55 291.08L647.55 290.03L647.55 288.98L647.55 287.93L647.55 286.88L647.55 285.83L647.55 284.78L647.55 283.73L647.55 282.68L647.55 281.63L647.55 280.58L647.55 279.53L647.55 278.48L647.55 277.43L647.55 276.38L647.55 275.33L647.55 274.28L647.55 273.23L647.55 272.18L647.55 271.13L647.55 270.07L647.55 269.02L647.55 267.97L647.55 266.92L647.55 265.87L647.55 264.82L647.55 263.77L647.55 262.72L647.55 261.67L647.55 260.62L647.55 259.57L647.55 258.52L647.55 257.47L647.55 256.42L647.55 255.37L647.55 254.32L647.55 253.27L647.55 252.22L647.55 251.17L647.55 250.12L647.55 249.07L647.55 248.02L647.55 246.97L647.55 245.92L647.55 244.87L647.55 243.82L647.55 242.77L647.55 241.72L647.55 240.66L647.55 239.61L647.55 238.56L647.55 237.51L647.55 236.46L647.55 235.41L647.55 234.36L647.55 233.31L647.55 232.26L647.55 231.21L647.55 230.16L647.55 229.11L647.55 228.06L647.55 227.01L647.55 225.96L647.55 224.91L647.55 223.86L647.55 222.81L647.55 221.76L647.55 220.71L647.55 219.66L647.55 218.61L647.55 217.56L647.55 216.51L647.55 215.46L647.55 214.41L647.55 213.36L647.55 212.31L647.55 211.25L647.55 210.2L647.55 209.15L647.55 208.1L647.55 207.05L647.55 206L647.55 204.95L647.55 203.9L647.55 202.85L647.55 201.8L647.55 200.75L647.55 199.7L647.55 198.65L647.55 197.6L646.4 197.6L645.26 197.6L644.11 197.6L642.96 197.6L641.82 197.6L640.67 197.6L639.52 197.6L638.37 197.6L637.23 197.6L636.08 197.6L634.93 197.6L633.79 197.6L632.64 197.6L631.49 197.6L630.35 197.6L629.2 197.6L628.05 197.6L626.91 197.6L625.76 197.6L624.61 197.6L623.46 197.6L622.32 197.6L621.17 197.6L620.02 197.6L618.88 197.6L617.73 197.6L616.58 197.6L615.44 197.6L614.29 197.6L613.14 197.6L611.99 197.6L610.85 197.6L609.7 197.6L608.55 197.6L607.41 197.6L606.26 197.6L605.11 197.6L603.97 197.6L602.82 197.6L601.67 197.6L600.53 197.6L599.38 197.6L598.23 197.6L597.08 197.6L595.94 197.6L594.79 197.6L593.64 197.6L592.5 197.6L591.35 197.6L590.2 197.6L589.06 197.6L587.91 197.6L586.76 197.6L585.62 197.6L584.47 197.6L583.32 197.6L582.17 197.6L581.03 197.6L579.88 197.6L578.73 197.6L577.59 197.6L576.44 197.6L575.29 197.6L574.15 197.6L573 197.6L571.85 197.6L570.7 197.6L569.56 197.6L568.41 197.6L567.26 197.6L566.12 197.6L564.97 197.6L563.82 197.6L562.68 197.6L561.53 197.6L560.38 197.6L559.24 197.6L558.09 197.6L556.94 197.6L555.79 197.6L554.65 197.6L553.5 197.6L552.35 197.6L551.21 197.6L550.06 197.6L548.91 197.6L547.77 197.6L546.62 197.6L545.47 197.6L544.33 197.6L543.18 197.6L542.03 197.6L540.88 197.6L539.74 197.6L538.59 197.6L537.44 197.6L536.3 197.6L535.15 197.6L534 197.6L532.86 197.6L531.71 197.6L530.56 197.6L529.41 197.6L528.27 197.6L527.12 197.6L525.97 197.6L524.83 197.6L523.68 197.6L522.53 197.6L521.39 197.6L520.24 197.6L519.09 197.6L517.95 197.6L516.8 197.6L515.65 197.6L514.5 197.6L513.36 197.6L512.21 197.6L511.06 197.6L509.92 197.6L508.77 197.6L507.62 197.6L506.48 197.6L505.33 197.6L504.18 197.6L503.04 197.6L501.89 197.6L500.74 197.6L499.59 197.6L498.45 197.6L497.3 197.6L496.15 197.6L495.01 197.6L493.86 197.6L492.71 197.6L491.57 197.6L490.42 197.6L489.27 197.6L488.12 197.6L488.12 198.65L488.12 199.7L488.12 200.75L488.12 201.8L488.12 202.85L488.12 203.9L488.12 204.95L488.12 206L488.12 207.05L488.12 208.1L488.12 209.15L488.12 210.2L488.12 211.25L488.12 212.31L488.12 213.36L488.12 214.41L488.12 215.46L488.12 216.51L488.12 217.56L488.12 218.61L488.12 219.66L488.12 220.71L488.12 221.76L488.12 222.81L488.12 223.86L488.12 224.91L488.12 225.96L488.12 227.01L488.12 228.06L488.12 229.11L488.12 230.16L488.12 231.21L488.12 232.26L488.12 233.31L488.12 234.36L488.12 235.41L488.12 236.46L488.12 237.51L488.12 238.56L488.12 239.61L488.12 240.66L488.12 241.72L488.12 242.77L488.12 243.82L488.12 244.87L488.12 245.92L488.12 246.97L488.12 248.02L488.12 249.07L488.12 250.12L488.12 251.17L488.12 252.22L488.12 253.27L488.12 254.32L488.12 255.37L488.12 256.42L488.12 257.47L488.12 258.52L488.12 259.57L488.12 260.62L488.12 261.67L488.12 262.72L488.12 263.77L488.12 264.82L488.12 265.87L488.12 266.92L488.12 267.97L488.12 269.02L488.12 270.07L488.12 271.13L488.12 272.18L488.12 273.23L488.12 274.28L488.12 275.33L488.12 276.38L488.12 277.43L488.12 278.48L488.12 279.53L488.12 280.58L488.12 281.63L488.12 282.68L488.12 283.73L488.12 284.78L488.12 285.83L488.12 286.88L488.12 287.93L488.12 288.98L488.12 290.03L488.12 291.08L488.12 292.13L488.12 293.18L488.12 294.23L488.12 295.28L488.12 296.33L488.12 297.38L488.12 298.43L488.12 299.48L488.12 300.54L488.12 301.59L488.12 302.64L488.12 303.69L488.12 304.74L488.12 305.79L488.12 306.84L488.12 307.89L488.12 308.94L488.12 309.99L488.12 311.04L488.12 312.09L488.12 313.14L488.12 314.19L488.12 315.24L488.12 316.29L488.12 317.34L488.12 318.39L488.12 319.44L488.12 320.49L488.12 321.54L488.12 322.59L488.12 323.64L488.12 324.69L488.12 325.74L488.12 326.79L488.12 327.84L488.12 328.89L488.12 329.95L488.12 331L488.12 332.05L488.12 333.1L488.12 334.15L488.12 335.2L488.12 336.25L488.12 337.3L488.12 338.35L488.12 338.94Z" fill="#41b0b0" stroke="#41b0b0" stroke-width="0.3"/>
<path d="M489.27 336.57L490.42 336.56L491.57 336.54L492.71 336.53L493.86 336.52L495.01 336.51L496.15 336.5L497.3 336.48L498.45 336.47L499.59 336.46L500.74 336.45L501.89 336.44L503.04 336.43L504.18 336.43L505.33 336.42L506.48 336.41L507.62 336.41L508.77 336.4L509.92 336.4L511.06 336.4L512.21 336.4L513.36 336.4L514.5 336.4L515.65 336.4L516.8 336.4L517.95 336.4L519.09 336.4L520.24 336.4L521.39 336.4L522.53 336.4L523.68 336.4L524.83 336.4L525.97 336.4L527.12 336.39L528.27 336.39L529.41 336.38L530.56 336.37L531.71 336.36L532.86 336.34L534 336.32L535.15 336.3L536.3 336.28L537.44 336.25L537.69 336.25L538.59 336.22L539.74 336.19L540.88 336.16L542.03 336.12L543.18 336.08L544.33 336.04L545.47 335.99L546.62 335.95L547.77 335.89L548.91 335.84L550.06 335.79L551.21 335.73L552.35 335.67L553.5 335.61L554.65 335.54L555.79 335.47L556.94 335.4L558.09 335.33L559.24 335.26L560.13 335.2L560.38 335.18L561.53 335.1L562.68 335.02L563.82 334.94L564.97 334.86L566.12 334.77L567.26 334.68L568.41 334.6L569.56 334.51L570.7 334.42L571.85 334.33L573 334.24L574.15 334.15L574.22 334.15L575.29 334.06L576.44 333.98L577.59 333.89L578.73 333.8L579.88 333.72L581.03 333.64L582.17 333.56L583.32 333.48L584.47 333.4L585.62 333.33L586.76 333.25L587.91 333.17L589.05 333.1L589.06 333.1L590.2 333.02L591.35 332.94L592.5 332.86L593.64 332.77L594.79 332.69L595.94 332.6L597.08 332.5L598.23 332.41L599.38 332.3L600.53 332.19L601.67 332.08L601.94 332.05L602.82 331.95L603.97 331.82L605.11 331.68L606.26 331.53L607.41 331.37L608.55 331.2L609.7 331.03L609.92 331L610.85 330.85L611.99 330.66L613.14 330.47L614.29 330.26L615.44 330.05L616 329.95L616.58 329.84L617.73 329.61L618.88 329.38L620.02 329.15L621.17 328.91L621.24 328.89L622.32 328.67L623.46 328.42L624.61 328.17L625.76 327.92L626.12 327.84L626.91 327.67L628.05 327.42L629.2 327.17L630.35 326.91L630.87 326.79L631.49 326.65L632.64 326.39L633.79 326.13L634.93 325.87L635.47 325.74L636.08 325.6L637.23 325.33L638.37 325.06L639.52 324.78L639.87 324.69L640.67 324.5L641.82 324.21L642.96 323.91L643.99 323.64L644.11 323.61L645.26 323.3L646.4 322.99L647.55 322.66L647.55 322.59L647.55 321.54L647.55 320.49L647.55 319.44L647.55 318.39L647.55 317.34L647.55 316.29L647.55 315.24L647.55 314.19L647.55 313.14L647.55 312.09L647.55 311.04L647.55 309.99L647.55 308.94L647.55 307.89L647.55 306.84L647.55 305.79L647.55 304.74L647.55 303.69L647.55 302.64L647.55 301.59L647.55 300.54L647.55 299.48L647.55 298.43L647.55 297.38L647.55 296.33L647.55 295.28L647.55 294.23L647.55 293.18L647.55 292.13L647.55 291.08L647.55 290.03L647.55 288.98L647.55 287.93L647.55 286.88L647.55 285.83L647.55 284.78L647.55 283.73L647.55 282.68L647.55 281.63L647.55 280.58L647.55 279.53L647.55 278.48L647.55 277.43L647.55 276.38L647.55 275.33L647.55 274.28L647.55 273.23L647.55 272.18L647.55 271.13L647.55 270.07L647.55 269.02L647.55 267.97L647.55 266.92L647.55 265.87L647.55 264.82L647.55 263.77L647.55 262.72L647.55 261.67L647.55 260.62L647.55 259.57L647.55 258.52L647.55 257.47L647.55 256.42L647.55 255.37L647.55 254.32L647.55 253.27L647.55 252.22L647.55 251.17L647.55 250.12L647.55 249.07L647.55 248.02L647.55 246.97L647.55 245.92L647.55 244.87L647.55 243.82L647.55 242.77L647.55 241.72L647.55 240.66L647.55 239.61L647.55 238.56L647.55 237.51L647.55 236.46L647.55 235.41L647.55 234.36L647.55 233.31L647.55 232.26L647.55 231.21L647.55 230.16L647.55 229.11L647.55 228.06L647.55 227.01L647.55 225.96L647.55 224.91L647.55 223.86L647.55 222.81L647.55 221.76L647.55 220.71L647.55 219.66L647.55 218.61L647.55 217.56L647.55 216.51L647.55 215.46L647.55 214.41L647.55 213.36L647.55 212.31L647.55 211.25L647.55 210.2L647.55 209.15L647.55 208.1L647.55 207.05L647.55 206L647.55 204.95L647.55 203.9L647.55 202.85L647.55 201.8L647.55 200.75L647.55 199.7L647.55 198.65L647.55 197.6L646.4 197.6L645.26 197.6L644.11 197.6L642.96 197.6L641.82 197.6L640.67 197.6L639.52 197.6L638.37 197.6L637.23 197.6L636.08 197.6L634.93 197.6L633.79 197.6L632.64 197.6L631.49 197.6L630.35 197.6L629.2 197.6L628.05 197.6L626.91 197.6L625.76 197.6L624.61 197.6L623.46 197.6L622.32 197.6L621.17 197.6L620.02 197.6L618.88 197.6L617.73 197.6L616.58 197.6L615.44 197.6L614.29 197.6L613.14 197.6L611.99 197.6L610.85 197.6L609.7 197.6L608.55 197.6L607.41 197.6L606.26 197.6L605.11 197.6L603.97 197.6L602.82 197.6L601.67 197.6L600.53 197.6L599.38 197.6L598.23 197.6L597.08 197.6L595.94 197.6L594.79 197.6L593.64 197.6L592.5 197.6L591.35 197.6L590.2 197.6L589.06 197.6L587.91 197.6L586.76 197.6L585.62 197.6L584.47 197.6L583.32 197.6L582.17 197.6L581.03 197.6L579.88 197.6L578.73 197.6L577.59 197.6L576.44 197.6L575.29 197.6L574.15 197.6L573 197.6L571.85 197.6L570.7 197.6L569.56 197.6L568.41 197.6L567.26 197.6L566.12 197.6L564.97 197.6L563.82 197.6L562.68 197.6L561.53 197.6L560.38 197.6L559.24 197.6L558.09 197.6L556.94 197.6L555.79 197.6L554.65 197.6L553.5 197.6L552.35 197.6L551.21 197.6L550.06 197.6L548.91 197.6L547.77 197.6L546.62 197.6L545.47 197.6L544.33 197.6L543.18 197.6L542.03 197.6L540.88 197.6L539.74 197.6L538.59 197.6L537.44 197.6L536.3 197.6L535.15 197.6L534 197.6L532.86 197.6L531.71 197.6L530.56 197.6L529.41 197.6L528.27 197.6L527.12 197.6L525.97 197.6L524.83 197.6L523.68 197.6L522.53 197.6L521.39 197.6L520.24 197.6L519.09 197.6L517.95 197.6L516.8 197.6L515.65 197.6L514.5 197.6L513.36 197.6L512.21 197.6L511.06 197.6L509.92 197.6L508.77 197.6L507.62 197.6L506.48 197.6L505.33 197.6L504.18 197.6L503.04 197.6L501.89 197.6L500.74 197.6L499.59 197.6L498.45 197.6L497.3 197.6L496.15 197.6L495.01 197.6L493.86 197.6L492.71 197.6L491.57 197.6L490.42 197.6L489.27 197.6L488.12 197.6L488.12 198.65L488.12 199.7L488.12 200.75L488.12 201.8L488.12 202.85L488.12 203.9L488.12 204.95L488.12 206L488.12 207.05L488.12 208.1L488.12 209.15L488.12 210.2L488.12 211.25L488.12 212.31L488.12 213.36L488.12 214.41L488.12 215.46L488.12 216.51L488.12 217.56L488.12 218.61L488.12 219.66L488.12 220.71L488.12 221.76L488.12 222.81L488.12 223.86L488.12 224.91L488.12 225.96L488.12 227.01L488.12 228.06L488.12 229.11L488.12 230.16L488.12 231.21L488.12 232.26L488.12 233.31L488.12 234.36L488.12 235.41L488.12 236.46L488.12 237.51L488.12 238.56L488.12 239.61L488.12 240.66L488.12 241.72L488.12 242.77L488.12 243.82L488.12 244.87L488.12 245.92L488.12 246.97L488.12 248.02L488.12 249.07L488.12 250.12L488.12 251.17L488.12 252.22L488.12 253.27L488.12 254.32L488.12 255.37L488.12 256.42L488.12 257.47L488.12 258.52L488.12 259.57L488.12 260.62L488.12 261.67L488.12 262.72L488.12 263.77L488.12 264.82L488.12 265.87L488.12 266.92L488.12 267.97L488.12 269.02L488.12 270.07L488.12 271.13L488.12 272.18L488.12 273.23L488.12 274.28L488.12 275.33L488.12 276.38L488.12 277.43L488.12 278.48L488.12 279.53L488.12 280.58L488.12 281.63L488.12 282.68L488.12 283.73L488.12 284.78L488.12 285.83L488.12 286.88L488.12 287.93L488.12 288.98L488.12 290.03L488.12 291.08L488.12 292.13L488.12 293.18L488.12 294.23L488.12 295.28L488.12 296.33L488.12 297.38L488.12 298.43L488.12 299.48L488.12 300.54L488.12 301.59L488.12 302.64L488.12 303.69L488.12 304.74L488.12 305.79L488.12 306.84L488.12 307.89L488.12 308.94L488.12 309.99L488.12 311.04L488.12 312.09L488.12 313.14L488.12 314.19L488.12 315.24L488.12 316.29L488.12 317.34L488.12 318.39L488.12 319.44L488.12 320.49L488.12 321.54L488.12 322.59L488.12 323.64L488.12 324.69L488.12 325.74L488.12 326.79L488.12 327.84L488.12 328.89L488.12 329.95L488.12 331L488.12 332.05L488.12 333.1L488.12 334.15L488.12 335.2L488.12 336.25L488.12 336.58Z" fill="#59baba" stroke="#59baba" stroke-width="0.3"/>
<path d="M489.27 334.21L490.42 334.19L491.57 334.18L492.71 334.16L493.67 334.15L493.86 334.14L495.01 334.13L496.15 334.11L497.3 334.1L498.45 334.08L499.59 334.07L500.74 334.05L501.89 334.04L503.04 334.03L504.18 334.02L505.33 334.01L506.48 334L507.62 333.99L508.77 333.99L509.92 333.98L511.06 333.98L512.21 333.98L513.36 333.98L514.5 333.98L515.65 333.98L516.8 333.98L517.95 333.98L519.09 333.98L520.24 333.98L521.39 333.98L522.53 333.98L523.68 333.98L524.83 333.98L525.97 333.97L527.12 333.96L528.27 333.95L529.41 333.94L530.56 333.93L531.71 333.91L532.86 333.89L534 333.87L535.15 333.84L536.3 333.8L537.44 333.77L538.59 333.73L539.74 333.69L540.88 333.64L542.03 333.59L543.18 333.53L544.33 333.48L545.47 333.41L546.62 333.35L547.77 333.28L548.91 333.21L550.06 333.13L550.61 333.1L551.21 333.06L552.35 332.97L553.5 332.89L554.65 332.8L555.79 332.71L556.94 332.61L558.09 332.52L559.24 332.42L560.38 332.31L561.53 332.21L562.68 332.1L563.21 332.05L563.82 331.99L564.97 331.87L566.12 331.76L567.26 331.64L568.41 331.52L569.56 331.4L570.7 331.28L571.85 331.16L573 331.04L573.44 331L574.15 330.92L575.29 330.8L576.44 330.68L577.59 330.56L578.73 330.45L579.88 330.34L581.03 330.23L582.17 330.12L583.32 330.01L584.06 329.95L584.47 329.91L585.62 329.8L586.76 329.7L587.91 329.6L589.06 329.49L590.2 329.39L591.35 329.28L592.5 329.18L593.64 329.06L594.79 328.95L595.3 328.89L595.94 328.83L597.08 328.7L598.23 328.57L599.38 328.43L600.53 328.28L601.67 328.13L602.82 327.96L603.57 327.84L603.97 327.78L605.11 327.59L606.26 327.4L607.41 327.19L608.55 326.96L609.4 326.79L609.7 326.73L610.85 326.49L611.99 326.24L613.14 325.98L614.14 325.74L614.29 325.71L615.44 325.43L616.58 325.14L617.73 324.84L618.3 324.69L618.88 324.54L620.02 324.23L621.17 323.91L622.11 323.64L622.32 323.58L623.46 323.26L624.61 322.93L625.76 322.59L625.76 322.59L626.91 322.26L628.05 321.92L629.2 321.58L629.34 321.54L630.35 321.24L631.49 320.9L632.64 320.56L632.85 320.49L633.79 320.21L634.93 319.86L636.08 319.5L636.27 319.44L637.23 319.14L638.37 318.78L639.52 318.41L639.56 318.39L640.67 318.03L641.82 317.64L642.71 317.34L642.96 317.25L644.11 316.85L645.26 316.44L645.67 316.29L646.4 316.02L647.55 315.59L647.55 315.24L647.55 314.19L647.55 313.14L647.55 312.09L647.55 311.04L647.55 309.99L647.55 308.94L647.55 307.89L647.55 306.84L647.55 305.79L647.55 304.74L647.55 303.69L647.55 302.64L647.55 301.59L647.55 300.54L647.55 299.48L647.55 298.43L647.55 297.38L647.55 296.33L647.55 295.28L647.55 294.23L647.55 293.18L647.55 292.13L647.55 291.08L647.55 290.03L647.55 288.98L647.55 287.93L647.55 286.88L647.55 285.83L647.55 284.78L647.55 283.73L647.55 282.68L647.55 281.63L647.55 280.58L647.55 279.53L647.55 278.48L647.55 277.43L647.55 276.38L647.55 275.33L647.55 274.28L647.55 273.23L647.55 272.18L647.55 271.13L647.55 270.07L647.55 269.02L647.55 267.97L647.55 266.92L647.55 265.87L647.55 264.82L647.55 263.77L647.55 262.72L647.55 261.67L647.55 260.62L647.55 259.57L647.55 258.52L647.55 257.47L647.55 256.42L647.55 255.37L647.55 254.32L647.55 253.27L647.55 252.22L647.55 251.17L647.55 250.12L647.55 249.07L647.55 248.02L647.55 246.97L647.55 245.92L647.55 244.87L647.55 243.82L647.55 242.77L647.55 241.72L647.55 240.66L647.55 239.61L647.55 238.56L647.55 237.51L647.55 236.46L647.55 235.41L647.55 234.36L647.55 233.31L647.55 232.26L647.55 231.21L647.55 230.16L647.55 229.11L647.55 228.06L647.55 227.01L647.55 225.96L647.55 224.91L647.55 223.86L647.55 222.81L647.55 221.76L647.55 220.71L647.55 219.66L647.55 218.61L647.55 217.56L647.55 216.51L647.55 215.46L647.55 214.41L647.55 213.36L647.55 212.31L647.55 211.25L647.55 210.2L647.55 209.15L647.55 208.1L647.55 207.05L647.55 206L647.55 204.95L647.55 203.9L647.55 202.85L647.55 201.8L647.55 200.75L647.55 199.7L647.55 198.65L647.55 197.6L646.4 197.6L645.26 197.6L644.11 197.6L642.96 197.6L641.82 197.6L640.67 197.6L639.52 197.6L638.37 197.6L637.23 197.6L636.08 197.6L634.93 197.6L633.79 197.6L632.64 197.6L631.49 197.6L630.35 197.6L629.2 197.6L628.05 197.6L626.91 197.6L625.76 197.6L624.61 197.6L623.46 197.6L622.32 197.6L621.17 197.6L620.02 197.6L618.88 197.6L617.73 197.6L616.58 197.6L615.44 197.6L614.29 197.6L613.14 197.6L611.99 197.6L610.85 197.6L609.7 197.6L608.55 197.6L607.41 197.6L606.26 197.6L605.11 197.6L603.97 197.6L602.82 197.6L601.67 197.6L600.53 197.6L599.38 197.6L598.23 197.6L597.08 197.6L595.94 197.6L594.79 197.6L593.64 197.6L592.5 197.6L591.35 197.6L590.2 197.6L589.06 197.6L587.91 197.6L586.76 197.6L585.62 197.6L584.47 197.6L583.32 197.6L582.17 197.6L581.03 197.6L579.88 197.6L578.73 197.6L577.59 197.6L576.44 197.6L575.29 197.6L574.15 197.6L573 197.6L571.85 197.6L570.7 197.6L569.56 197.6L568.41 197.6L567.26 197.6L566.12 197.6L564.97 197.6L563.82 197.6L562.68 197.6L561.53 197.6L560.38 197.6L559.24 197.6L558.09 197.6L556.94 197.6L555.79 197.6L554.65 197.6L553.5 197.6L552.35 197.6L551.21 197.6L550.06 197.6L548.91 197.6L547.77 197.6L546.62 197.6L545.47 197.6L544.33 197.6L543.18 197.6L542.03 197.6L540.88 197.6L539.74 197.6L538.59 197.6L537.44 197.6L536.3 197.6L535.15 197.6L534 197.6L532.86 197.6L531.71 197.6L530.56 197.6L529.41 197.6L528.27 197.6L527.12 197.6L525.97 197.6L524.83 197.6L523.68 197.6L522.53 197.6L521.39 197.6L520.24 197.6L519.09 197.6L517.95 197.6L516.8 197.6L515.65 197.6L514.5 197.6L513.36 197.6L512.21 197.6L511.06 197.6L509.92 197.6L508.77 197.6L507.62 197.6L506.48 197.6L505.33 197.6L504.18 197.6L503.04 197.6L501.89 197.6L500.74 197.6L499.59 197.6L498.45 197.6L497.3 197.6L496.15 197.6L495.01 197.6L493.86 197.6L492.71 197.6L491.57 197.6L490.42 197.6L489.27 197.6L488.12 197.6L488.12 198.65L488.12 199.7L488.12 200.75L488.12 201.8L488.12 202.85L488.12 203.9L488.12 204.95L488.12 206L488.12 207.05L488.12 208.1L488.12 209.15L488.12 210.2L488.12 211.25L488.12 212.31L488.12 213.36L488.12 214.41L488.12 215.46L488.12 216.51L488.12 217.56L488.12 218.61L488.12 219.66L488.12 220.71L488.12 221.76L488.12 222.81L488.12 223.86L488.12 224.91L488.12 225.96L488.12 227.01L488.12 228.06L488.12 229.11L488.12 230.16L488.12 231.21L488.12 232.26L488.12 233.31L488.12 234.36L488.12 235.41L488.12 236.46L488.12 237.51L488.12 238.56L488.12 239.61L488.12 240.66L488.12 241.72L488.12 242.77L488.12 243.82L488.12 244.87L488.12 245.92L488.12 246.97L488.12 248.02L488.12 249.07L488.12 250.12L488.12 251.17L488.12 252.22L488.12 253.27L488.12 254.32L488.12 255.37L488.12 256.42L488.12 257.47L488.12 258.52L488.12 259.57L488.12 260.62L488.12 261.67L488.12 262.72L488.12 263.77L488.12 264.82L488.12 265.87L488.12 266.92L488.12 267.97L488.12 269.02L488.12 270.07L488.12 271.13L488.12 272.18L488.12 273.23L488.12 274.28L488.12 275.33L488.12 276.38L488.12 277.43L488.12 278.48L488.12 279.53L488.12 280.58L488.12 281.63L488.12 282.68L488.12 283.73L488.12 284.78L488.12 285.83L488.12 286.88L488.12 287.93L488.12 288.98L488.12 290.03L488.12 291.08L488.12 292.13L488.12 293.18L488.12 294.23L488.12 295.28L488.12 296.33L488.12 297.38L488.12 298.43L488.12 299.48L488.12 300.54L488.12 301.59L488.12 302.64L488.12 303.69L488.12 304.74L488.12 305.79L488.12 306.84L488.12 307.89L488.12 308.94L488.12 309.99L488.12 311.04L488.12 312.09L488.12 313.14L488.12 314.19L488.12 315.24L488.12 316.29L488.12 317.34L488.12 318.39L488.12 319.44L488.12 320.49L488.12 321.54L488.12 322.59L488.12 323.64L488.12 324.69L488.12 325.74L488.12 326.79L488.12 327.84L488.12 328.89L488.12 329.95L488.12 331L488.12 332.05L488.12 333.1L488.12 334.15L488.12 334.23Z" fill="#70c4c4" stroke="#70c4c4" stroke-width="0.3"/>
<path d="M489.27 331.85L490.42 331.83L491.57 331.81L492.71 331.79L493.86 331.77L495.01 331.75L496.15 331.73L497.3 331.71L498.45 331.69L499.59 331.67L500.74 331.66L501.89 331.64L503.04 331.63L504.18 331.61L505.33 331.6L506.48 331.59L507.62 331.58L508.77 331.57L509.92 331.57L511.06 331.56L512.21 331.56L513.36 331.56L514.5 331.56L515.65 331.56L516.8 331.56L517.95 331.56L519.09 331.56L520.24 331.56L521.39 331.56L522.53 331.56L523.68 331.56L524.83 331.55L525.97 331.54L527.12 331.53L528.27 331.52L529.41 331.51L530.56 331.49L531.71 331.47L532.86 331.44L534 331.41L535.15 331.37L536.3 331.33L537.44 331.28L538.59 331.23L539.74 331.18L540.88 331.12L542.03 331.05L543.01 331L543.18 330.99L544.33 330.91L545.47 330.83L546.62 330.75L547.77 330.67L548.91 330.58L550.06 330.48L551.21 330.38L552.35 330.28L553.5 330.17L554.65 330.06L555.79 329.95L555.8 329.95L556.94 329.83L558.09 329.7L559.24 329.58L560.38 329.45L561.53 329.31L562.68 329.17L563.82 329.03L564.94 328.89L564.97 328.89L566.12 328.75L567.26 328.6L568.41 328.45L569.56 328.3L570.7 328.15L571.85 327.99L572.98 327.84L573 327.84L574.15 327.69L575.29 327.54L576.44 327.39L577.59 327.24L578.73 327.09L579.88 326.95L581.03 326.81L581.19 326.79L582.17 326.68L583.32 326.54L584.47 326.41L585.62 326.28L586.76 326.15L587.91 326.02L589.06 325.89L590.2 325.76L590.36 325.74L591.35 325.63L592.5 325.49L593.64 325.35L594.79 325.21L595.94 325.06L597.08 324.9L598.23 324.74L598.51 324.69L599.38 324.56L600.53 324.38L601.67 324.18L602.82 323.97L603.97 323.75L604.49 323.64L605.11 323.51L606.26 323.26L607.41 323L608.55 322.73L609.09 322.59L609.7 322.44L610.85 322.14L611.99 321.82L612.98 321.54L613.14 321.49L614.29 321.16L615.44 320.81L616.44 320.49L616.58 320.45L617.73 320.07L618.88 319.69L619.62 319.44L620.02 319.3L621.17 318.91L622.32 318.5L622.63 318.39L623.46 318.09L624.61 317.68L625.54 317.34L625.76 317.26L626.91 316.84L628.05 316.42L628.42 316.29L629.2 316L630.35 315.58L631.25 315.24L631.49 315.15L632.64 314.72L633.79 314.28L634.03 314.19L634.93 313.84L636.08 313.4L636.75 313.14L637.23 312.95L638.37 312.49L639.38 312.09L639.52 312.03L640.67 311.56L641.82 311.08L641.92 311.04L642.96 310.59L644.11 310.09L644.35 309.99L645.26 309.58L646.4 309.06L646.66 308.94L647.55 308.51L647.55 307.89L647.55 306.84L647.55 305.79L647.55 304.74L647.55 303.69L647.55 302.64L647.55 301.59L647.55 300.54L647.55 299.48L647.55 298.43L647.55 297.38L647.55 296.33L647.55 295.28L647.55 294.23L647.55 293.18L647.55 292.13L647.55 291.08L647.55 290.03L647.55 288.98L647.55 287.93L647.55 286.88L647.55 285.83L647.55 284.78L647.55 283.73L647.55 282.68L647.55 281.63L647.55 280.58L647.55 279.53L647.55 278.48L647.55 277.43L647.55 276.38L647.55 275.33L647.55 274.28L647.55 273.23L647.55 272.18L647.55 271.13L647.55 270.07L647.55 269.02L647.55 267.97L647.55 266.92L647.55 265.87L647.55 264.82L647.55 263.77L647.55 262.72L647.55 261.67L647.55 260.62L647.55 259.57L647.55 258.52L647.55 257.47L647.55 256.42L647.55 255.37L647.55 254.32L647.55 253.27L647.55 252.22L647.55 251.17L647.55 250.12L647.55 249.07L647.55 248.02L647.55 246.97L647.55 245.92L647.55 244.87L647.55 243.82L647.55 242.77L647.55 241.72L647.55 240.66L647.55 239.61L647.55 238.56L647.55 237.51L647.55 236.46L647.55 235.41L647.55 234.36L647.55 233.31L647.55 232.26L647.55 231.21L647.55 230.16L647.55 229.11L647.55 228.06L647.55 227.01L647.55 225.96L647.55 224.91L647.55 223.86L647.55 222.81L647.55 221.76L647.55 220.71L647.55 219.66L647.55 218.61L647.55 217.56L647.55 216.51L647.55 215.46L647.55 214.41L647.55 213.36L647.55 212.31L647.55 211.25L647.55 210.2L647.55 209.15L647.55 208.1L647.55 207.05L647.55 206L647.55 204.95L647.55 203.9L647.55 202.85L647.55 201.8L647.55 200.75L647.55 199.7L647.55 198.65L647.55 197.6L646.4 197.6L645.26 197.6L644.11 197.6L642.96 197.6L641.82 197.6L640.67 197.6L639.52 197.6L638.37 197.6L637.23 197.6L636.08 197.6L634.93 197.6L633.79 197.6L632.64 197.6L631.49 197.6L630.35 197.6L629.2 197.6L628.05 197.6L626.91 197.6L625.76 197.6L624.61 197.6L623.46 197.6L622.32 197.6L621.17 197.6L620.02 197.6L618.88 197.6L617.73 197.6L616.58 197.6L615.44 197.6L614.29 197.6L613.14 197.6L611.99 197.6L610.85 197.6L609.7 197.6L608.55 197.6L607.41 197.6L606.26 197.6L605.11 197.6L603.97 197.6L602.82 197.6L601.67 197.6L600.53 197.6L599.38 197.6L598.23 197.6L597.08 197.6L595.94 197.6L594.79 197.6L593.64 197.6L592.5 197.6L591.35 197.6L590.2 197.6L589.06 197.6L587.91 197.6L586.76 197.6L585.62 197.6L584.47 197.6L583.32 197.6L582.17 197.6L581.03 197.6L579.88 197.6L578.73 197.6L577.59 197.6L576.44 197.6L575.29 197.6L574.15 197.6L573 197.6L571.85 197.6L570.7 197.6L569.56 197.6L568.41 197.6L567.26 197.6L566.12 197.6L564.97 197.6L563.82 197.6L562.68 197.6L561.53 197.6L560.38 197.6L559.24 197.6L558.09 197.6L556.94 197.6L555.79 197.6L554.65 197.6L553.5 197.6L552.35 197.6L551.21 197.6L550.06 197.6L548.91 197.6L547.77 197.6L546.62 197.6L545.47 197.6L544.33 197.6L543.18 197.6L542.03 197.6L540.88 197.6L539.74 197.6L538.59 197.6L537.44 197.6L536.3 197.6L535.15 197.6L534 197.6L532.86 197.6L531.71 197.6L530.56 197.6L529.41 197.6L528.27 197.6L527.12 197.6L525.97 197.6L524.83 197.6L523.68 197.6L522.53 197.6L521.39 197.6L520.24 197.6L519.09 197.6L517.95 197.6L516.8 197.6L515.65 197.6L514.5 197.6L513.36 197.6L512.21 197.6L511.06 197.6L509.92 197.6L508.77 197.6L507.62 197.6L506.48 197.6L505.33 197.6L504.18 197.6L503.04 197.6L501.89 197.6L500.74 197.6L499.59 197.6L498.45 197.6L497.3 197.6L496.15 197.6L495.01 197.6L493.86 197.6L492.71 197.6L491.57 197.6L490.42 197.6L489.27 197.6L488.12 197.6L488.12 198.65L488.12 199.7L488.12 200.75L488.12 201.8L488.12 202.85L488.12 203.9L488.12 204.95L488.12 206L488.12 207.05L488.12 208.1L488.12 209.15L488.12 210.2L488.12 211.25L488.12 212.31L488.12 213.36L488.12 214.41L488.12 215.46L488.12 216.51L488.12 217.56L488.12 218.61L488.12 219.66L488.12 220.71L488.12 221.76L488.12 222.81L488.12 223.86L488.12 224.91L488.12 225.96L488.12 227.01L488.12 228.06L488.12 229.11L488.12 230.16L488.12 231.21L488.12 232.26L488.12 233.31L488.12 234.36L488.12 235.41L488.12 236.46L488.12 237.51L488.12 238.56L488.12 239.61L488.12 240.66L488.12 241.72L488.12 242.77L488.12 243.82L488.12 244.87L488.12 245.92L488.12 246.97L488.12 248.02L488.12 249.07L488.12 250.12L488.12 251.17L488.12 252.22L488.12 253.27L488.12 254.32L488.12 255.37L488.12 256.42L488.12 257.47L488.12 258.52L488.12 259.57L488.12 260.62L488.12 261.67L488.12 262.72L488.12 263.77L488.12 264.82L488.12 265.87L488.12 266.92L488.12 267.97L488.12 269.02L488.12 270.07L488.12 271.13L488.12 272.18L488.12 273.23L488.12 274.28L488.12 275.33L488.12 276.38L488.12 277.43L488.12 278.48L488.12 279.53L488.12 280.58L488.12 281.63L488.12 282.68L488.12 283.73L488.12 284.78L488.12 285.83L488.12 286.88L488.12 287.93L488.12 288.98L488.12 290.03L488.12 291.08L488.12 292.13L488.12 293.18L488.12 294.23L488.12 295.28L488.12 296.33L488.12 297.38L488.12 298.43L488.12 299.48L488.12 300.54L488.12 301.59L488.12 302.64L488.12 303.69L488.12 304.74L488.12 305.79L488.12 306.84L488.12 307.89L488.12 308.94L488.12 309.99L488.12 311.04L488.12 312.09L488.12 313.14L488.12 314.19L488.12 315.24L488.12 316.29L488.12 317.34L488.12 318.39L488.12 319.44L488.12 320.49L488.12 321.54L488.12 322.59L488.12 323.64L488.12 324.69L488.12 325.74L488.12 326.79L488.12 327.84L488.12 328.89L488.12 329.95L488.12 331L488.12 331.87Z" fill="#87cdcd" stroke="#87cdcd" stroke-width="0.3"/>
<path d="M489.27 329.49L490.42 329.47L491.57 329.44L492.71 329.42L493.86 329.39L495.01 329.37L496.15 329.35L497.3 329.32L498.45 329.3L499.59 329.28L500.74 329.26L501.89 329.24L503.04 329.22L504.18 329.21L505.33 329.19L506.48 329.18L507.62 329.17L508.77 329.16L509.92 329.15L511.06 329.14L512.21 329.14L513.36 329.14L514.5 329.14L515.65 329.14L516.8 329.14L517.95 329.14L519.09 329.14L520.24 329.14L521.39 329.14L522.53 329.14L523.68 329.13L524.83 329.13L525.97 329.12L527.12 329.11L528.27 329.09L529.41 329.07L530.56 329.05L531.71 329.02L532.86 328.99L534 328.95L535.15 328.9L535.38 328.89L536.3 328.85L537.44 328.8L538.59 328.74L539.74 328.67L540.88 328.6L542.03 328.52L543.18 328.44L544.33 328.35L545.47 328.26L546.62 328.16L547.77 328.05L548.91 327.94L549.9 327.84L550.06 327.83L551.21 327.71L552.35 327.58L553.5 327.46L554.65 327.32L555.79 327.18L556.94 327.04L558.09 326.89L558.8 326.79L559.24 326.74L560.38 326.58L561.53 326.42L562.68 326.25L563.82 326.08L564.97 325.91L566.05 325.74L566.12 325.73L567.26 325.56L568.41 325.38L569.56 325.19L570.7 325.01L571.85 324.83L572.68 324.69L573 324.64L574.15 324.46L575.29 324.28L576.44 324.09L577.59 323.92L578.73 323.74L579.39 323.64L579.88 323.57L581.03 323.4L582.17 323.24L583.32 323.08L584.47 322.92L585.62 322.76L586.76 322.6L586.85 322.59L587.91 322.45L589.06 322.29L590.2 322.13L591.35 321.97L592.5 321.81L593.64 321.64L594.3 321.54L594.79 321.47L595.94 321.29L597.08 321.1L598.23 320.9L599.38 320.69L600.41 320.49L600.53 320.47L601.67 320.23L602.82 319.98L603.97 319.72L605.08 319.44L605.11 319.43L606.26 319.13L607.41 318.82L608.55 318.49L608.87 318.39L609.7 318.14L610.85 317.78L611.99 317.4L612.17 317.34L613.14 317.01L614.29 316.6L615.15 316.29L615.44 316.18L616.58 315.75L617.73 315.3L617.89 315.24L618.88 314.85L620.02 314.38L620.48 314.19L621.17 313.9L622.32 313.42L622.97 313.14L623.46 312.93L624.61 312.43L625.4 312.09L625.76 311.93L626.91 311.43L627.8 311.04L628.05 310.93L629.2 310.42L630.17 309.99L630.35 309.91L631.49 309.4L632.51 308.94L632.64 308.88L633.79 308.36L634.81 307.89L634.93 307.83L636.08 307.27L636.97 306.84L637.23 306.69L638.37 306.04L638.82 305.79L639.52 305.39L640.66 304.74L640.67 304.73L641.82 304.07L642.46 303.69L642.96 303.39L644.11 302.71L644.23 302.64L645.26 302.01L645.95 301.59L646.4 301.31L647.55 300.58L647.55 300.54L647.55 299.48L647.55 298.43L647.55 297.38L647.55 296.33L647.55 295.28L647.55 294.23L647.55 293.18L647.55 292.13L647.55 291.08L647.55 290.03L647.55 288.98L647.55 287.93L647.55 286.88L647.55 285.83L647.55 284.78L647.55 283.73L647.55 282.68L647.55 281.63L647.55 280.58L647.55 279.53L647.55 278.48L647.55 277.43L647.55 276.38L647.55 275.33L647.55 274.28L647.55 273.23L647.55 272.18L647.55 271.13L647.55 270.07L647.55 269.02L647.55 267.97L647.55 266.92L647.55 265.87L647.55 264.82L647.55 263.77L647.55 262.72L647.55 261.67L647.55 260.62L647.55 259.57L647.55 258.52L647.55 257.47L647.55 256.42L647.55 255.37L647.55 254.32L647.55 253.27L647.55 252.22L647.55 251.17L647.55 250.12L647.55 249.07L647.55 248.02L647.55 246.97L647.55 245.92L647.55 244.87L647.55 243.82L647.55 242.77L647.55 241.72L647.55 240.66L647.55 239.61L647.55 238.56L647.55 237.51L647.55 236.46L647.55 235.41L647.55 234.36L647.55 233.31L647.55 232.26L647.55 231.21L647.55 230.16L647.55 229.11L647.55 228.06L647.55 227.01L647.55 225.96L647.55 224.91L647.55 223.86L647.55 222.81L647.55 221.76L647.55 220.71L647.55 219.66L647.55 218.61L647.55 217.56L647.55 216.51L647.55 215.46L647.55 214.41L647.55 213.36L647.55 212.31L647.55 211.25L647.55 210.2L647.55 209.15L647.55 208.1L647.55 207.05L647.55 206L647.55 204.95L647.55 203.9L647.55 202.85L647.55 201.8L647.55 200.75L647.55 199.7L647.55 198.65L647.55 197.6L646.4 197.6L645.26 197.6L644.11 197.6L642.96 197.6L641.82 197.6L640.67 197.6L639.52 197.6L638.37 197.6L637.23 197.6L636.08 197.6L634.93 197.6L633.79 197.6L632.64 197.6L631.49 197.6L630.35 197.6L629.2 197.6L628.05 197.6L626.91 197.6L625.76 197.6L624.61 197.6L623.46 197.6L622.32 197.6L621.17 197.6L620.02 197.6L618.88 197.6L617.73 197.6L616.58 197.6L615.44 197.6L614.29 197.6L613.14 197.6L611.99 197.6L610.85 197.6L609.7 197.6L608.55 197.6L607.41 197.6L606.26 197.6L605.11 197.6L603.97 197.6L602.82 197.6L601.67 197.6L600.53 197.6L599.38 197.6L598.23 197.6L597.08 197.6L595.94 197.6L594.79 197.6L593.64 197.6L592.5 197.6L591.35 197.6L590.2 197.6L589.06 197.6L587.91 197.6L586.76 197.6L585.62 197.6L584.47 197.6L583.32 197.6L582.17 197.6L581.03 197.6L579.88 197.6L578.73 197.6L577.59 197.6L576.44 197.6L575.29 197.6L574.15 197.6L573 197.6L571.85 197.6L570.7 197.6L569.56 197.6L568.41 197.6L567.26 197.6L566.12 197.6L564.97 197.6L563.82 197.6L562.68 197.6L561.53 197.6L560.38 197.6L559.24 197.6L558.09 197.6L556.94 197.6L555.79 197.6L554.65 197.6L553.5 197.6L552.35 197.6L551.21 197.6L550.06 197.6L548.91 197.6L547.77 197.6L546.62 197.6L545.47 197.6L544.33 197.6L543.18 197.6L542.03 197.6L540.88 197.6L539.74 197.6L538.59 197.6L537.44 197.6L536.3 197.6L535.15 197.6L534 197.6L532.86 197.6L531.71 197.6L530.56 197.6L529.41 197.6L528.27 197.6L527.12 197.6L525.97 197.6L524.83 197.6L523.68 197.6L522.53 197.6L521.39 197.6L520.24 197.6L519.09 197.6L517.95 197.6L516.8 197.6L515.65 197.6L514.5 197.6L513.36 197.6L512.21 197.6L511.06 197.6L509.92 197.6L508.77 197.6L507.62 197.6L506.48 197.6L505.33 197.6L504.18 197.6L503.04 197.6L501.89 197.6L500.74 197.6L499.59 197.6L498.45 197.6L497.3 197.6L496.15 197.6L495.01 197.6L493.86 197.6L492.71 197.6L491.57 197.6L490.42 197.6L489.27 197.6L488.12 197.6L488.12 198.65L488.12 199.7L488.12 200.75L488.12 201.8L488.12 202.85L488.12 203.9L488.12 204.95L488.12 206L488.12 207.05L488.12 208.1L488.12 209.15L488.12 210.2L488.12 211.25L488.12 212.31L488.12 213.36L488.12 214.41L488.12 215.46L488.12 216.51L488.12 217.56L488.12 218.61L488.12 219.66L488.12 220.71L488.12 221.76L488.12 222.81L488.12 223.86L488.12 224.91L488.12 225.96L488.12 227.01L488.12 228.06L488.12 229.11L488.12 230.16L488.12 231.21L488.12 232.26L488.12 233.31L488.12 234.36L488.12 235.41L488.12 236.46L488.12 237.51L488.12 238.56L488.12 239.61L488.12 240.66L488.12 241.72L488.12 242.77L488.12 243.82L488.12 244.87L488.12 245.92L488.12 246.97L488.12 248.02L488.12 249.07L488.12 250.12L488.12 251.17L488.12 252.22L488.12 253.27L488.12 254.32L488.12 255.37L488.12 256.42L488.12 257.47L488.12 258.52L488.12 259.57L488.12 260.62L488.12 261.67L488.12 262.72L488.12 263.77L488.12 264.82L488.12 265.87L488.12 266.92L488.12 267.97L488.12 269.02L488.12 270.07L488.12 271.13L488.12 272.18L488.12 273.23L488.12 274.28L488.12 275.33L488.12 276.38L488.12 277.43L488.12 278.48L488.12 279.53L488.12 280.58L488.12 281.63L488.12 282.68L488.12 283.73L488.12 284.78L488.12 285.83L488.12 286.88L488.12 287.93L488.12 288.98L488.12 290.03L488.12 291.08L488.12 292.13L488.12 293.18L488.12 294.23L488.12 295.28L488.12 296.33L488.12 297.38L488.12 298.43L488.12 299.48L488.12 300.54L488.12 301.59L488.12 302.64L488.12 303.69L488.12 304.74L488.12 305.79L488.12 306.84L488.12 307.89L488.12 308.94L488.12 309.99L488.12 311.04L488.12 312.09L488.12 313.14L488.12 314.19L488.12 315.24L488.12 316.29L488.12 317.34L488.12 318.39L488.12 319.44L488.12 320.49L488.12 321.54L488.12 322.59L488.12 323.64L488.12 324.69L488.12 325.74L488.12 326.79L488.12 327.84L488.12 328.89L488.12 329.52Z" fill="#9ed7d7" stroke="#9ed7d7" stroke-width="0.3"/>
<path d="M489.27 327.13L490.42 327.1L491.57 327.08L492.71 327.05L493.86 327.02L495.01 326.99L496.15 326.96L497.3 326.94L498.45 326.91L499.59 326.89L500.74 326.86L501.89 326.84L503.04 326.82L504.18 326.8L504.68 326.79L505.33 326.78L506.48 326.77L507.62 326.75L508.77 326.74L509.92 326.73L511.06 326.73L512.21 326.72L513.36 326.72L514.5 326.72L515.65 326.72L516.8 326.72L517.95 326.72L519.09 326.72L520.24 326.72L521.39 326.72L522.53 326.71L523.68 326.71L524.83 326.7L525.97 326.69L527.12 326.68L528.27 326.66L529.41 326.64L530.56 326.61L531.71 326.57L532.86 326.54L534 326.49L535.15 326.44L536.3 326.38L537.44 326.31L538.59 326.24L539.74 326.16L540.88 326.08L542.03 325.99L543.18 325.89L544.33 325.79L544.77 325.74L545.47 325.68L546.62 325.56L547.77 325.44L548.91 325.31L550.06 325.18L551.21 325.04L552.35 324.89L553.5 324.74L553.83 324.69L554.65 324.58L555.79 324.42L556.94 324.25L558.09 324.07L559.24 323.89L560.38 323.71L560.79 323.64L561.53 323.52L562.68 323.33L563.82 323.13L564.97 322.93L566.12 322.72L566.82 322.59L567.26 322.51L568.41 322.3L569.56 322.09L570.7 321.87L571.85 321.66L572.47 321.54L573 321.44L574.15 321.23L575.29 321.01L576.44 320.8L577.59 320.59L578.14 320.49L578.73 320.39L579.88 320.19L581.03 319.99L582.17 319.8L583.32 319.61L584.35 319.44L584.47 319.42L585.62 319.24L586.76 319.06L587.91 318.87L589.06 318.69L590.2 318.51L590.91 318.39L591.35 318.32L592.5 318.13L593.64 317.93L594.79 317.73L595.94 317.52L596.85 317.34L597.08 317.3L598.23 317.06L599.38 316.82L600.53 316.56L601.66 316.29L601.67 316.29L602.82 315.99L603.97 315.68L605.11 315.35L605.48 315.24L606.26 315L607.41 314.63L608.55 314.25L608.72 314.19L609.7 313.84L610.85 313.42L611.59 313.14L611.99 312.98L613.14 312.52L614.2 312.09L614.29 312.05L615.44 311.56L616.58 311.06L616.62 311.04L617.73 310.54L618.88 310L618.91 309.99L620.02 309.46L621.09 308.94L621.17 308.9L622.32 308.33L623.21 307.89L623.46 307.75L624.61 307.13L625.17 306.84L625.76 306.44L626.75 305.79L626.91 305.69L628.05 304.95L628.38 304.74L629.2 304.22L630.05 303.69L630.35 303.5L631.49 302.79L631.74 302.64L632.64 302.08L633.44 301.59L633.79 301.37L634.93 300.67L635.15 300.54L636.08 299.96L636.86 299.48L637.23 299.25L638.37 298.54L638.54 298.43L639.52 297.82L640.2 297.38L640.67 297.09L641.82 296.35L641.83 296.33L642.96 295.59L643.43 295.28L644.11 294.83L644.98 294.23L645.26 294.05L646.4 293.25L646.5 293.18L647.55 292.43L647.55 292.13L647.55 291.08L647.55 290.03L647.55 288.98L647.55 287.93L647.55 286.88L647.55 285.83L647.55 284.78L647.55 283.73L647.55 282.68L647.55 281.63L647.55 280.58L647.55 279.53L647.55 278.48L647.55 277.43L647.55 276.38L647.55 275.33L647.55 274.28L647.55 273.23L647.55 272.18L647.55 271.13L647.55 270.07L647.55 269.02L647.55 267.97L647.55 266.92L647.55 265.87L647.55 264.82L647.55 263.77L647.55 262.72L647.55 261.67L647.55 260.62L647.55 259.57L647.55 258.52L647.55 257.47L647.55 256.42L647.55 255.37L647.55 254.32L647.55 253.27L647.55 252.22L647.55 251.17L647.55 250.12L647.55 249.07L647.55 248.02L647.55 246.97L647.55 245.92L647.55 244.87L647.55 243.82L647.55 242.77L647.55 241.72L647.55 240.66L647.55 239.61L647.55 238.56L647.55 237.51L647.55 236.46L647.55 235.41L647.55 234.36L647.55 233.31L647.55 232.26L647.55 231.21L647.55 230.16L647.55 229.11L647.55 228.06L647.55 227.01L647.55 225.96L647.55 224.91L647.55 223.86L647.55 222.81L647.55 221.76L647.55 220.71L647.55 219.66L647.55 218.61L647.55 217.56L647.55 216.51L647.55 215.46L647.55 214.41L647.55 213.36L647.55 212.31L647.55 211.25L647.55 210.2L647.55 209.15L647.55 208.1L647.55 207.05L647.55 206L647.55 204.95L647.55 203.9L647.55 202.85L647.55 201.8L647.55 200.75L647.55 199.7L647.55 198.65L647.55 197.6L646.4 197.6L645.26 197.6L644.11 197.6L642.96 197.6L641.82 197.6L640.67 197.6L639.52 197.6L638.37 197.6L637.23 197.6L636.08 197.6L634.93 197.6L633.79 197.6L632.64 197.6L631.49 197.6L630.35 197.6L629.2 197.6L628.05 197.6L626.91 197.6L625.76 197.6L624.61 197.6L623.46 197.6L622.32 197.6L621.17 197.6L620.02 197.6L618.88 197.6L617.73 197.6L616.58 197.6L615.44 197.6L614.29 197.6L613.14 197.6L611.99 197.6L610.85 197.6L609.7 197.6L608.55 197.6L607.41 197.6L606.26 197.6L605.11 197.6L603.97 197.6L602.82 197.6L601.67 197.6L600.53 197.6L599.38 197.6L598.23 197.6L597.08 197.6L595.94 197.6L594.79 197.6L593.64 197.6L592.5 197.6L591.35 197.6L590.2 197.6L589.06 197.6L587.91 197.6L586.76 197.6L585.62 197.6L584.47 197.6L583.32 197.6L582.17 197.6L581.03 197.6L579.88 197.6L578.73 197.6L577.59 197.6L576.44 197.6L575.29 197.6L574.15 197.6L573 197.6L571.85 197.6L570.7 197.6L569.56 197.6L568.41 197.6L567.26 197.6L566.12 197.6L564.97 197.6L563.82 197.6L562.68 197.6L561.53 197.6L560.38 197.6L559.24 197.6L558.09 197.6L556.94 197.6L555.79 197.6L554.65 197.6L553.5 197.6L552.35 197.6L551.21 197.6L550.06 197.6L548.91 197.6L547.77 197.6L546.62 197.6L545.47 197.6L544.33 197.6L543.18 197.6L542.03 197.6L540.88 197.6L539.74 197.6L538.59 197.6L537.44 197.6L536.3 197.6L535.15 197.6L534 197.6L532.86 197.6L531.71 197.6L530.56 197.6L529.41 197.6L528.27 197.6L527.12 197.6L525.97 197.6L524.83 197.6L523.68 197.6L522.53 197.6L521.39 197.6L520.24 197.6L519.09 197.6L517.95 197.6L516.8 197.6L515.65 197.6L514.5 197.6L513.36 197.6L512.21 197.6L511.06 197.6L509.92 197.6L508.77 197.6L507.62 197.6L506.48 197.6L505.33 197.6L504.18 197.6L503.04 197.6L501.89 197.6L500.74 197.6L499.59 197.6L498.45 197.6L497.3 197.6L496.15 197.6L495.01 197.6L493.86 197.6L492.71 197.6L491.57 197.6L490.42 197.6L489.27 197.6L488.12 197.6L488.12 198.65L488.12 199.7L488.12 200.75L488.12 201.8L488.12 202.85L488.12 203.9L488.12 204.95L488.12 206L488.12 207.05L488.12 208.1L488.12 209.15L488.12 210.2L488.12 211.25L488.12 212.31L488.12 213.36L488.12 214.41L488.12 215.46L488.12 216.51L488.12 217.56L488.12 218.61L488.12 219.66L488.12 220.71L488.12 221.76L488.12 222.81L488.12 223.86L488.12 224.91L488.12 225.96L488.12 227.01L488.12 228.06L488.12 229.11L488.12 230.16L488.12 231.21L488.12 232.26L488.12 233.31L488.12 234.36L488.12 235.41L488.12 236.46L488.12 237.51L488.12 238.56L488.12 239.61L488.12 240.66L488.12 241.72L488.12 242.77L488.12 243.82L488.12 244.87L488.12 245.92L488.12 246.97L488.12 248.02L488.12 249.07L488.12 250.12L488.12 251.17L488.12 252.22L488.12 253.27L488.12 254.32L488.12 255.37L488.12 256.42L488.12 257.47L488.12 258.52L488.12 259.57L488.12 260.62L488.12 261.67L488.12 262.72L488.12 263.77L488.12 264.82L488.12 265.87L488.12 266.92L488.12 267.97L488.12 269.02L488.12 270.07L488.12 271.13L488.12 272.18L488.12 273.23L488.12 274.28L488.12 275.33L488.12 276.38L488.12 277.43L488.12 278.48L488.12 279.53L488.12 280.58L488.12 281.63L488.12 282.68L488.12 283.73L488.12 284.78L488.12 285.83L488.12 286.88L488.12 287.93L488.12 288.98L488.12 290.03L488.12 291.08L488.12 292.13L488.12 293.18L488.12 294.23L488.12 295.28L488.12 296.33L488.12 297.38L488.12 298.43L488.12 299.48L488.12 300.54L488.12 301.59L488.12 302.64L488.12 303.69L488.12 304.74L488.12 305.79L488.12 306.84L488.12 307.89L488.12 308.94L488.12 309.99L488.12 311.04L488.12 312.09L488.12 313.14L488.12 314.19L488.12 315.24L488.12 316.29L488.12 317.34L488.12 318.39L488.12 319.44L488.12 320.49L488.12 321.54L488.12 322.59L488.12 323.64L488.12 324.69L488.12 325.74L488.12 326.79L488.12 327.16Z" fill="#b6e1e1" stroke="#b6e1e1" stroke-width="0.3"/>
<path d="M489.27 324.78L490.42 324.74L491.57 324.71L492.1 324.69L492.71 324.68L493.86 324.64L495.01 324.61L496.15 324.58L497.3 324.55L498.45 324.52L499.59 324.49L500.74 324.47L501.89 324.44L503.04 324.42L504.18 324.4L505.33 324.38L506.48 324.36L507.62 324.34L508.77 324.33L509.92 324.32L511.06 324.31L512.21 324.3L513.36 324.3L514.5 324.3L515.65 324.3L516.8 324.3L517.95 324.3L519.09 324.3L520.24 324.3L521.39 324.3L522.53 324.29L523.68 324.29L524.83 324.28L525.97 324.26L527.12 324.25L528.27 324.23L529.41 324.2L530.56 324.17L531.71 324.13L532.86 324.08L534 324.03L535.15 323.97L536.3 323.9L537.44 323.83L538.59 323.75L539.74 323.66L539.9 323.64L540.88 323.56L542.03 323.45L543.18 323.34L544.33 323.22L545.47 323.1L546.62 322.96L547.77 322.82L548.91 322.68L549.55 322.59L550.06 322.52L551.21 322.36L552.35 322.2L553.5 322.02L554.65 321.84L555.79 321.65L556.46 321.54L556.94 321.46L558.09 321.26L559.24 321.05L560.38 320.84L561.53 320.63L562.22 320.49L562.68 320.4L563.82 320.18L564.97 319.94L566.12 319.71L567.26 319.47L567.39 319.44L568.41 319.23L569.56 318.98L570.7 318.74L571.85 318.49L572.31 318.39L573 318.24L574.15 318L575.29 317.75L576.44 317.51L577.23 317.34L577.59 317.27L578.73 317.03L579.88 316.8L581.03 316.58L582.17 316.36L582.53 316.29L583.32 316.14L584.47 315.93L585.62 315.72L586.76 315.51L587.91 315.3L588.24 315.24L589.06 315.09L590.2 314.88L591.35 314.66L592.5 314.44L593.64 314.22L593.79 314.19L594.79 313.99L595.94 313.74L597.08 313.49L598.23 313.23L598.6 313.14L599.38 312.95L600.53 312.65L601.67 312.34L602.53 312.09L602.82 312.01L603.97 311.65L605.11 311.27L605.78 311.04L606.26 310.87L607.41 310.45L608.55 310.01L608.61 309.99L609.7 309.55L610.85 309.07L611.14 308.94L611.99 308.56L613.14 308.04L613.47 307.89L614.29 307.46L615.44 306.85L615.45 306.84L616.58 305.98L616.83 305.79L617.73 305.11L618.23 304.74L618.88 304.26L619.65 303.69L620.02 303.42L621.1 302.64L621.17 302.58L622.32 301.76L622.57 301.59L623.46 300.96L624.08 300.54L624.61 300.17L625.61 299.48L625.76 299.39L626.91 298.62L627.18 298.43L628.05 297.86L628.77 297.38L629.2 297.1L630.35 296.35L630.38 296.33L631.49 295.6L631.99 295.28L632.64 294.85L633.59 294.23L633.79 294.1L634.93 293.35L635.18 293.18L636.08 292.59L636.76 292.13L637.23 291.82L638.31 291.08L638.37 291.04L639.52 290.25L639.83 290.03L640.67 289.44L641.32 288.98L641.82 288.63L642.78 287.93L642.96 287.79L644.11 286.95L644.2 286.88L645.26 286.08L645.58 285.83L646.4 285.19L646.93 284.78L647.55 284.29L647.55 283.73L647.55 282.68L647.55 281.63L647.55 280.58L647.55 279.53L647.55 278.48L647.55 277.43L647.55 276.38L647.55 275.33L647.55 274.28L647.55 273.23L647.55 272.18L647.55 271.13L647.55 270.07L647.55 269.02L647.55 267.97L647.55 266.92L647.55 265.87L647.55 264.82L647.55 263.77L647.55 262.72L647.55 261.67L647.55 260.62L647.55 259.57L647.55 258.52L647.55 257.47L647.55 256.42L647.55 255.37L647.55 254.32L647.55 253.27L647.55 252.22L647.55 251.17L647.55 250.12L647.55 249.07L647.55 248.02L647.55 246.97L647.55 245.92L647.55 244.87L647.55 243.82L647.55 242.77L647.55 241.72L647.55 240.66L647.55 239.61L647.55 238.56L647.55 237.51L647.55 236.46L647.55 235.41L647.55 234.36L647.55 233.31L647.55 232.26L647.55 231.21L647.55 230.16L647.55 229.11L647.55 228.06L647.55 227.01L647.55 225.96L647.55 224.91L647.55 223.86L647.55 222.81L647.55 221.76L647.55 220.71L647.55 219.66L647.55 218.61L647.55 217.56L647.55 216.51L647.55 215.46L647.55 214.41L647.55 213.36L647.55 212.31L647.55 211.25L647.55 210.2L647.55 209.15L647.55 208.1L647.55 207.05L647.55 206L647.55 204.95L647.55 203.9L647.55 202.85L647.55 201.8L647.55 200.75L647.55 199.7L647.55 198.65L647.55 197.6L646.4 197.6L645.26 197.6L644.11 197.6L642.96 197.6L641.82 197.6L640.67 197.6L639.52 197.6L638.37 197.6L637.23 197.6L636.08 197.6L634.93 197.6L633.79 197.6L632.64 197.6L631.49 197.6L630.35 197.6L629.2 197.6L628.05 197.6L626.91 197.6L625.76 197.6L624.61 197.6L623.46 197.6L622.32 197.6L621.17 197.6L620.02 197.6L618.88 197.6L617.73 197.6L616.58 197.6L615.44 197.6L614.29 197.6L613.14 197.6L611.99 197.6L610.85 197.6L609.7 197.6L608.55 197.6L607.41 197.6L606.26 197.6L605.11 197.6L603.97 197.6L602.82 197.6L601.67 197.6L600.53 197.6L599.38 197.6L598.23 197.6L597.08 197.6L595.94 197.6L594.79 197.6L593.64 197.6L592.5 197.6L591.35 197.6L590.2 197.6L589.06 197.6L587.91 197.6L586.76 197.6L585.62 197.6L584.47 197.6L583.32 197.6L582.17 197.6L581.03 197.6L579.88 197.6L578.73 197.6L577.59 197.6L576.44 197.6L575.29 197.6L574.15 197.6L573 197.6L571.85 197.6L570.7 197.6L569.56 197.6L568.41 197.6L567.26 197.6L566.12 197.6L564.97 197.6L563.82 197.6L562.68 197.6L561.53 197.6L560.38 197.6L559.24 197.6L558.09 197.6L556.94 197.6L555.79 197.6L554.65 197.6L553.5 197.6L552.35 197.6L551.21 197.6L550.06 197.6L548.91 197.6L547.77 197.6L546.62 197.6L545.47 197.6L544.33 197.6L543.18 197.6L542.03 197.6L540.88 197.6L539.74 197.6L538.59 197.6L537.44 197.6L536.3 197.6L535.15 197.6L534 197.6L532.86 197.6L531.71 197.6L530.56 197.6L529.41 197.6L528.27 197.6L527.12 197.6L525.97 197.6L524.83 197.6L523.68 197.6L522.53 197.6L521.39 197.6L520.24 197.6L519.09 197.6L517.95 197.6L516.8 197.6L515.65 197.6L514.5 197.6L513.36 197.6L512.21 197.6L511.06 197.6L509.92 197.6L508.77 197.6L507.62 197.6L506.48 197.6L505.33 197.6L504.18 197.6L503.04 197.6L501.89 197.6L500.74 197.6L499.59 197.6L498.45 197.6L497.3 197.6L496.15 197.6L495.01 197.6L493.86 197.6L492.71 197.6L491.57 197.6L490.42 197.6L489.27 197.6L488.12 197.6L488.12 198.65L488.12 199.7L488.12 200.75L488.12 201.8L488.12 202.85L488.12 203.9L488.12 204.95L488.12 206L488.12 207.05L488.12 208.1L488.12 209.15L488.12 210.2L488.12 211.25L488.12 212.31L488.12 213.36L488.12 214.41L488.12 215.46L488.12 216.51L488.12 217.56L488.12 218.61L488.12 219.66L488.12 220.71L488.12 221.76L488.12 222.81L488.12 223.86L488.12 224.91L488.12 225.96L488.12 227.01L488.12 228.06L488.12 229.11L488.12 230.16L488.12 231.21L488.12 232.26L488.12 233.31L488.12 234.36L488.12 235.41L488.12 236.46L488.12 237.51L488.12 238.56L488.12 239.61L488.12 240.66L488.12 241.72L488.12 242.77L488.12 243.82L488.12 244.87L488.12 245.92L488.12 246.97L488.12 248.02L488.12 249.07L488.12 250.12L488.12 251.17L488.12 252.22L488.12 253.27L488.12 254.32L488.12 255.37L488.12 256.42L488.12 257.47L488.12 258.52L488.12 259.57L488.12 260.62L488.12 261.67L488.12 262.72L488.12 263.77L488.12 264.82L488.12 265.87L488.12 266.92L488.12 267.97L488.12 269.02L488.12 270.07L488.12 271.13L488.12 272.18L488.12 273.23L488.12 274.28L488.12 275.33L488.12 276.38L488.12 277.43L488.12 278.48L488.12 279.53L488.12 280.58L488.12 281.63L488.12 282.68L488.12 283.73L488.12 284.78L488.12 285.83L488.12 286.88L488.12 287.93L488.12 288.98L488.12 290.03L488.12 291.08L488.12 292.13L488.12 293.18L488.12 294.23L488.12 295.28L488.12 296.33L488.12 297.38L488.12 298.43L488.12 299.48L488.12 300.54L488.12 301.59L488.12 302.64L488.12 303.69L488.12 304.74L488.12 305.79L488.12 306.84L488.12 307.89L488.12 308.94L488.12 309.99L488.12 311.04L488.12 312.09L488.12 313.14L488.12 314.19L488.12 315.24L488.12 316.29L488.12 317.34L488.12 318.39L488.12 319.44L488.12 320.49L488.12 321.54L488.12 322.59L488.12 323.64L488.12 324.69L488.12 324.81Z" fill="#cdebeb" stroke="#cdebeb" stroke-width="0.3"/>
<path d="M489.27 322.42L490.42 322.38L491.57 322.34L492.71 322.3L493.86 322.27L495.01 322.23L496.15 322.2L497.3 322.16L498.45 322.13L499.59 322.1L500.74 322.07L501.89 322.04L503.04 322.01L504.18 321.99L505.33 321.97L506.48 321.95L507.62 321.93L508.77 321.91L509.92 321.9L511.06 321.89L512.21 321.89L513.36 321.88L514.5 321.88L515.65 321.88L516.8 321.88L517.95 321.88L519.09 321.88L520.24 321.88L521.39 321.87L522.53 321.87L523.68 321.86L524.83 321.85L525.97 321.84L527.12 321.82L528.27 321.79L529.41 321.76L530.56 321.73L531.71 321.68L532.86 321.63L534 321.57L534.54 321.54L535.15 321.51L536.3 321.43L537.44 321.34L538.59 321.25L539.74 321.15L540.88 321.04L542.03 320.92L543.18 320.8L544.33 320.66L545.47 320.52L545.68 320.49L546.62 320.37L547.77 320.21L548.91 320.04L550.06 319.87L551.21 319.69L552.35 319.5L552.71 319.44L553.5 319.31L554.65 319.1L555.79 318.89L556.94 318.67L558.09 318.45L558.36 318.39L559.24 318.21L560.38 317.98L561.53 317.73L562.68 317.48L563.3 317.34L563.82 317.22L564.97 316.96L566.12 316.7L567.26 316.43L567.83 316.29L568.41 316.15L569.56 315.88L570.7 315.6L571.85 315.32L572.19 315.24L573 315.04L574.15 314.76L575.29 314.49L576.44 314.21L576.54 314.19L577.59 313.94L578.73 313.68L579.88 313.42L581.03 313.16L581.14 313.14L582.17 312.92L583.32 312.67L584.47 312.43L585.62 312.2L586.14 312.09L586.76 311.96L587.91 311.73L589.06 311.49L590.2 311.25L591.21 311.04L591.35 311.01L592.5 310.76L593.64 310.51L594.79 310.25L595.88 309.99L595.94 309.97L597.08 309.69L598.23 309.39L599.38 309.08L599.86 308.94L600.53 308.75L601.67 308.39L602.82 308.02L603.19 307.89L603.97 307.58L605.11 307.1L605.72 306.84L606.26 306.46L607.19 305.79L607.41 305.64L608.55 304.8L608.64 304.74L609.7 303.96L610.06 303.69L610.85 303.11L611.48 302.64L611.99 302.25L612.89 301.59L613.14 301.4L614.29 300.54L614.3 300.54L615.44 299.69L615.72 299.48L616.58 298.85L617.14 298.43L617.73 298.01L618.59 297.38L618.88 297.17L620.02 296.35L620.04 296.33L621.17 295.53L621.52 295.28L622.32 294.72L623.01 294.23L623.46 293.92L624.52 293.18L624.61 293.12L625.76 292.33L626.05 292.13L626.91 291.55L627.59 291.08L628.05 290.77L629.14 290.03L629.2 289.99L630.35 289.21L630.68 288.98L631.49 288.42L632.21 287.93L632.64 287.63L633.72 286.88L633.79 286.83L634.93 286.03L635.21 285.83L636.08 285.21L636.67 284.78L637.23 284.38L638.11 283.73L638.37 283.53L639.52 282.68L639.52 282.68L640.67 281.8L640.89 281.63L641.82 280.91L642.23 280.58L642.96 280L643.54 279.53L644.11 279.06L644.82 278.48L645.26 278.11L646.06 277.43L646.4 277.14L647.28 276.38L647.55 276.14L647.55 275.33L647.55 274.28L647.55 273.23L647.55 272.18L647.55 271.13L647.55 270.07L647.55 269.02L647.55 267.97L647.55 266.92L647.55 265.87L647.55 264.82L647.55 263.77L647.55 262.72L647.55 261.67L647.55 260.62L647.55 259.57L647.55 258.52L647.55 257.47L647.55 256.42L647.55 255.37L647.55 254.32L647.55 253.27L647.55 252.22L647.55 251.17L647.55 250.12L647.55 249.07L647.55 248.02L647.55 246.97L647.55 245.92L647.55 244.87L647.55 243.82L647.55 242.77L647.55 241.72L647.55 240.66L647.55 239.61L647.55 238.56L647.55 237.51L647.55 236.46L647.55 235.41L647.55 234.36L647.55 233.31L647.55 232.26L647.55 231.21L647.55 230.16L647.55 229.11L647.55 228.06L647.55 227.01L647.55 225.96L647.55 224.91L647.55 223.86L647.55 222.81L647.55 221.76L647.55 220.71L647.55 219.66L647.55 218.61L647.55 217.56L647.55 216.51L647.55 215.46L647.55 214.41L647.55 213.36L647.55 212.31L647.55 211.25L647.55 210.2L647.55 209.15L647.55 208.1L647.55 207.05L647.55 206L647.55 204.95L647.55 203.9L647.55 202.85L647.55 201.8L647.55 200.75L647.55 199.7L647.55 198.65L647.55 197.6L646.4 197.6L645.26 197.6L644.11 197.6L642.96 197.6L641.82 197.6L640.67 197.6L639.52 197.6L638.37 197.6L637.23 197.6L636.08 197.6L634.93 197.6L633.79 197.6L632.64 197.6L631.49 197.6L630.35 197.6L629.2 197.6L628.05 197.6L626.91 197.6L625.76 197.6L624.61 197.6L623.46 197.6L622.32 197.6L621.17 197.6L620.02 197.6L618.88 197.6L617.73 197.6L616.58 197.6L615.44 197.6L614.29 197.6L613.14 197.6L611.99 197.6L610.85 197.6L609.7 197.6L608.55 197.6L607.41 197.6L606.26 197.6L605.11 197.6L603.97 197.6L602.82 197.6L601.67 197.6L600.53 197.6L599.38 197.6L598.23 197.6L597.08 197.6L595.94 197.6L594.79 197.6L593.64 197.6L592.5 197.6L591.35 197.6L590.2 197.6L589.06 197.6L587.91 197.6L586.76 197.6L585.62 197.6L584.47 197.6L583.32 197.6L582.17 197.6L581.03 197.6L579.88 197.6L578.73 197.6L577.59 197.6L576.44 197.6L575.29 197.6L574.15 197.6L573 197.6L571.85 197.6L570.7 197.6L569.56 197.6L568.41 197.6L567.26 197.6L566.12 197.6L564.97 197.6L563.82 197.6L562.68 197.6L561.53 197.6L560.38 197.6L559.24 197.6L558.09 197.6L556.94 197.6L555.79 197.6L554.65 197.6L553.5 197.6L552.35 197.6L551.21 197.6L550.06 197.6L548.91 197.6L547.77 197.6L546.62 197.6L545.47 197.6L544.33 197.6L543.18 197.6L542.03 197.6L540.88 197.6L539.74 197.6L538.59 197.6L537.44 197.6L536.3 197.6L535.15 197.6L534 197.6L532.86 197.6L531.71 197.6L530.56 197.6L529.41 197.6L528.27 197.6L527.12 197.6L525.97 197.6L524.83 197.6L523.68 197.6L522.53 197.6L521.39 197.6L520.24 197.6L519.09 197.6L517.95 197.6L516.8 197.6L515.65 197.6L514.5 197.6L513.36 197.6L512.21 197.6L511.06 197.6L509.92 197.6L508.77 197.6L507.62 197.6L506.48 197.6L505.33 197.6L504.18 197.6L503.04 197.6L501.89 197.6L500.74 197.6L499.59 197.6L498.45 197.6L497.3 197.6L496.15 197.6L495.01 197.6L493.86 197.6L492.71 197.6L491.57 197.6L490.42 197.6L489.27 197.6L488.12 197.6L488.12 198.65L488.12 199.7L488.12 200.75L488.12 201.8L488.12 202.85L488.12 203.9L488.12 204.95L488.12 206L488.12 207.05L488.12 208.1L488.12 209.15L488.12 210.2L488.12 211.25L488.12 212.31L488.12 213.36L488.12 214.41L488.12 215.46L488.12 216.51L488.12 217.56L488.12 218.61L488.12 219.66L488.12 220.71L488.12 221.76L488.12 222.81L488.12 223.86L488.12 224.91L488.12 225.96L488.12 227.01L488.12 228.06L488.12 229.11L488.12 230.16L488.12 231.21L488.12 232.26L488.12 233.31L488.12 234.36L488.12 235.41L488.12 236.46L488.12 237.51L488.12 238.56L488.12 239.61L488.12 240.66L488.12 241.72L488.12 242.77L488.12 243.82L488.12 244.87L488.12 245.92L488.12 246.97L488.12 248.02L488.12 249.07L488.12 250.12L488.12 251.17L488.12 252.22L488.12 253.27L488.12 254.32L488.12 255.37L488.12 256.42L488.12 257.47L488.12 258.52L488.12 259.57L488.12 260.62L488.12 261.67L488.12 262.72L488.12 263.77L488.12 264.82L488.12 265.87L488.12 266.92L488.12 267.97L488.12 269.02L488.12 270.07L488.12 271.13L488.12 272.18L488.12 273.23L488.12 274.28L488.12 275.33L488.12 276.38L488.12 277.43L488.12 278.48L488.12 279.53L488.12 280.58L488.12 281.63L488.12 282.68L488.12 283.73L488.12 284.78L488.12 285.83L488.12 286.88L488.12 287.93L488.12 288.98L488.12 290.03L488.12 291.08L488.12 292.13L488.12 293.18L488.12 294.23L488.12 295.28L488.12 296.33L488.12 297.38L488.12 298.43L488.12 299.48L488.12 300.54L488.12 301.59L488.12 302.64L488.12 303.69L488.12 304.74L488.12 305.79L488.12 306.84L488.12 307.89L488.12 308.94L488.12 309.99L488.12 311.04L488.12 312.09L488.12 313.14L488.12 314.19L488.12 315.24L488.12 316.29L488.12 317.34L488.12 318.39L488.12 319.44L488.12 320.49L488.12 321.54L488.12 322.45Z" fill="#e4f5f5" stroke="#e4f5f5" stroke-width="0.3"/>
<path d="M489.27 320.06L490.42 320.02L491.57 319.97L492.71 319.93L493.86 319.89L495.01 319.85L496.15 319.82L497.3 319.78L498.45 319.74L499.59 319.71L500.74 319.67L501.89 319.64L503.04 319.61L504.18 319.58L505.33 319.56L506.48 319.54L507.62 319.52L508.77 319.5L509.92 319.49L511.06 319.47L512.21 319.47L513.36 319.46L514.5 319.46L515.65 319.46L516.8 319.46L517.95 319.46L519.09 319.46L520.24 319.46L521.39 319.45L522.53 319.45L523.31 319.44L523.68 319.44L524.83 319.43L525.97 319.41L527.12 319.39L528.27 319.36L529.41 319.33L530.56 319.29L531.71 319.24L532.86 319.18L534 319.12L535.15 319.04L536.3 318.95L537.44 318.86L538.59 318.76L539.74 318.64L540.88 318.52L542 318.39L542.03 318.39L543.18 318.25L544.33 318.1L545.47 317.94L546.62 317.77L547.77 317.6L548.91 317.41L549.34 317.34L550.06 317.22L551.21 317.02L552.35 316.81L553.5 316.59L554.65 316.36L555 316.29L555.79 316.13L556.94 315.88L558.09 315.63L559.24 315.37L559.81 315.24L560.38 315.11L561.53 314.83L562.68 314.56L563.82 314.27L564.14 314.19L564.97 313.98L566.12 313.68L567.26 313.38L568.18 313.14L568.41 313.08L569.56 312.77L570.7 312.46L571.85 312.15L572.09 312.09L573 311.84L574.15 311.53L575.29 311.22L575.99 311.04L576.44 310.92L577.59 310.62L578.73 310.32L579.88 310.03L580.07 309.99L581.03 309.75L582.17 309.48L583.32 309.2L584.47 308.94L584.47 308.94L585.62 308.67L586.76 308.41L587.91 308.15L589.06 307.89L589.06 307.89L590.2 307.58L591.35 307.28L592.5 306.96L592.95 306.84L593.64 306.49L594.79 305.92L595.05 305.79L595.94 305.33L597.07 304.74L597.08 304.73L598.23 304.1L598.97 303.69L599.38 303.46L600.53 302.79L600.77 302.64L601.67 302.09L602.47 301.59L602.82 301.37L603.97 300.62L604.09 300.54L605.11 299.85L605.65 299.48L606.26 299.07L607.17 298.43L607.41 298.27L608.55 297.47L608.67 297.38L609.7 296.65L610.14 296.33L610.85 295.83L611.61 295.28L611.99 295.01L613.07 294.23L613.14 294.18L614.29 293.36L614.53 293.18L615.44 292.54L616 292.13L616.58 291.72L617.47 291.08L617.73 290.9L618.88 290.09L618.95 290.03L620.02 289.28L620.45 288.98L621.17 288.47L621.95 287.93L622.32 287.67L623.45 286.88L623.46 286.87L624.61 286.07L624.96 285.83L625.76 285.28L626.48 284.78L626.91 284.48L627.98 283.73L628.05 283.68L629.2 282.87L629.48 282.68L630.35 282.06L630.95 281.63L631.49 281.24L632.4 280.58L632.64 280.41L633.79 279.56L633.83 279.53L634.93 278.7L635.23 278.48L636.08 277.83L636.6 277.43L637.23 276.94L637.94 276.38L638.37 276.03L639.25 275.33L639.52 275.1L640.53 274.28L640.67 274.16L641.77 273.23L641.82 273.19L642.96 272.2L642.99 272.18L644.11 271.18L644.17 271.13L645.26 270.14L645.33 270.07L646.4 269.1L646.48 269.02L647.55 268.05L647.55 267.97L647.55 266.92L647.55 265.87L647.55 264.82L647.55 263.77L647.55 262.72L647.55 261.67L647.55 260.62L647.55 259.57L647.55 258.52L647.55 257.47L647.55 256.42L647.55 255.37L647.55 254.32L647.55 253.27L647.55 252.22L647.55 251.17L647.55 250.12L647.55 249.07L647.55 248.02L647.55 246.97L647.55 245.92L647.55 244.87L647.55 243.82L647.55 242.77L647.55 241.72L647.55 240.66L647.55 239.61L647.55 238.56L647.55 237.51L647.55 236.46L647.55 235.41L647.55 234.36L647.55 233.31L647.55 232.26L647.55 231.21L647.55 230.16L647.55 229.11L647.55 228.06L647.55 227.01L647.55 225.96L647.55 224.91L647.55 223.86L647.55 222.81L647.55 221.76L647.55 220.71L647.55 219.66L647.55 218.61L647.55 217.56L647.55 216.51L647.55 215.46L647.55 214.41L647.55 213.36L647.55 212.31L647.55 211.25L647.55 210.2L647.55 209.15L647.55 208.1L647.55 207.05L647.55 206L647.55 204.95L647.55 203.9L647.55 202.85L647.55 201.8L647.55 200.75L647.55 199.7L647.55 198.65L647.55 197.6L646.4 197.6L645.26 197.6L644.11 197.6L642.96 197.6L641.82 197.6L640.67 197.6L639.52 197.6L638.37 197.6L637.23 197.6L636.08 197.6L634.93 197.6L633.79 197.6L632.64 197.6L631.49 197.6L630.35 197.6L629.2 197.6L628.05 197.6L626.91 197.6L625.76 197.6L624.61 197.6L623.46 197.6L622.32 197.6L621.17 197.6L620.02 197.6L618.88 197.6L617.73 197.6L616.58 197.6L615.44 197.6L614.29 197.6L613.14 197.6L611.99 197.6L610.85 197.6L609.7 197.6L608.55 197.6L607.41 197.6L606.26 197.6L605.11 197.6L603.97 197.6L602.82 197.6L601.67 197.6L600.53 197.6L599.38 197.6L598.23 197.6L597.08 197.6L595.94 197.6L594.79 197.6L593.64 197.6L592.5 197.6L591.35 197.6L590.2 197.6L589.06 197.6L587.91 197.6L586.76 197.6L585.62 197.6L584.47 197.6L583.32 197.6L582.17 197.6L581.03 197.6L579.88 197.6L578.73 197.6L577.59 197.6L576.44 197.6L575.29 197.6L574.15 197.6L573 197.6L571.85 197.6L570.7 197.6L569.56 197.6L568.41 197.6L567.26 197.6L566.12 197.6L564.97 197.6L563.82 197.6L562.68 197.6L561.53 197.6L560.38 197.6L559.24 197.6L558.09 197.6L556.94 197.6L555.79 197.6L554.65 197.6L553.5 197.6L552.35 197.6L551.21 197.6L550.06 197.6L548.91 197.6L547.77 197.6L546.62 197.6L545.47 197.6L544.33 197.6L543.18 197.6L542.03 197.6L540.88 197.6L539.74 197.6L538.59 197.6L537.44 197.6L536.3 197.6L535.15 197.6L534 197.6L532.86 197.6L531.71 197.6L530.56 197.6L529.41 197.6L528.27 197.6L527.12 197.6L525.97 197.6L524.83 197.6L523.68 197.6L522.53 197.6L521.39 197.6L520.24 197.6L519.09 197.6L517.95 197.6L516.8 197.6L515.65 197.6L514.5 197.6L513.36 197.6L512.21 197.6L511.06 197.6L509.92 197.6L508.77 197.6L507.62 197.6L506.48 197.6L505.33 197.6L504.18 197.6L503.04 197.6L501.89 197.6L500.74 197.6L499.59 197.6L498.45 197.6L497.3 197.6L496.15 197.6L495.01 197.6L493.86 197.6L492.71 197.6L491.57 197.6L490.42 197.6L489.27 197.6L488.12 197.6L488.12 198.65L488.12 199.7L488.12 200.75L488.12 201.8L488.12 202.85L488.12 203.9L488.12 204.95L488.12 206L488.12 207.05L488.12 208.1L488.12 209.15L488.12 210.2L488.12 211.25L488.12 212.31L488.12 213.36L488.12 214.41L488.12 215.46L488.12 216.51L488.12 217.56L488.12 218.61L488.12 219.66L488.12 220.71L488.12 221.76L488.12 222.81L488.12 223.86L488.12 224.91L488.12 225.96L488.12 227.01L488.12 228.06L488.12 229.11L488.12 230.16L488.12 231.21L488.12 232.26L488.12 233.31L488.12 234.36L488.12 235.41L488.12 236.46L488.12 237.51L488.12 238.56L488.12 239.61L488.12 240.66L488.12 241.72L488.12 242.77L488.12 243.82L488.12 244.87L488.12 245.92L488.12 246.97L488.12 248.02L488.12 249.07L488.12 250.12L488.12 251.17L488.12 252.22L488.12 253.27L488.12 254.32L488.12 255.37L488.12 256.42L488.12 257.47L488.12 258.52L488.12 259.57L488.12 260.62L488.12 261.67L488.12 262.72L488.12 263.77L488.12 264.82L488.12 265.87L488.12 266.92L488.12 267.97L488.12 269.02L488.12 270.07L488.12 271.13L488.12 272.18L488.12 273.23L488.12 274.28L488.12 275.33L488.12 276.38L488.12 277.43L488.12 278.48L488.12 279.53L488.12 280.58L488.12 281.63L488.12 282.68L488.12 283.73L488.12 284.78L488.12 285.83L488.12 286.88L488.12 287.93L488.12 288.98L488.12 290.03L488.12 291.08L488.12 292.13L488.12 293.18L488.12 294.23L488.12 295.28L488.12 296.33L488.12 297.38L488.12 298.43L488.12 299.48L488.12 300.54L488.12 301.59L488.12 302.64L488.12 303.69L488.12 304.74L488.12 305.79L488.12 306.84L488.12 307.89L488.12 308.94L488.12 309.99L488.12 311.04L488.12 312.09L488.12 313.14L488.12 314.19L488.12 315.24L488.12 316.29L488.12 317.34L488.12 318.39L488.12 319.44L488.12 320.1Z" fill="#ffffff" stroke="#ffffff" stroke-width="0.3"/>
<path d="M489.27 317.7L490.42 317.65L491.57 317.61L492.71 317.56L493.86 317.52L495.01 317.47L496.15 317.43L497.3 317.39L498.45 317.35L498.74 317.34L499.59 317.31L500.74 317.28L501.89 317.24L503.04 317.21L504.18 317.18L505.33 317.15L506.48 317.13L507.62 317.1L508.77 317.08L509.92 317.07L511.06 317.06L512.21 317.05L513.36 317.04L514.5 317.04L515.65 317.04L516.8 317.04L517.95 317.04L519.09 317.04L520.24 317.04L521.39 317.03L522.53 317.03L523.68 317.02L524.83 317L525.97 316.98L527.12 316.96L528.27 316.93L529.41 316.89L530.56 316.85L531.71 316.79L532.86 316.73L534 316.66L535.15 316.57L536.3 316.48L537.44 316.38L538.29 316.29L538.59 316.26L539.74 316.14L540.88 316L542.03 315.85L543.18 315.7L544.33 315.53L545.47 315.36L546.22 315.24L546.62 315.18L547.77 314.98L548.91 314.78L550.06 314.57L551.21 314.34L551.97 314.19L552.35 314.11L553.5 313.87L554.65 313.62L555.79 313.36L556.75 313.14L556.94 313.1L558.09 312.82L559.24 312.53L560.38 312.24L560.96 312.09L561.53 311.94L562.68 311.63L563.82 311.32L564.82 311.04L564.97 311L566.12 310.67L567.26 310.34L568.41 310L568.47 309.99L569.56 309.67L570.7 309.33L571.85 308.98L572.01 308.94L573 308.64L574.15 308.3L575.29 307.96L575.55 307.89L576.44 307.58L577.59 307.19L578.67 306.84L578.73 306.8L579.88 306.09L580.4 305.79L581.03 305.42L582.17 304.78L582.26 304.74L583.32 304.17L584.26 303.69L584.47 303.58L585.62 303L586.36 302.64L586.76 302.44L587.91 301.88L588.52 301.59L589.06 301.33L590.2 300.77L590.7 300.54L591.35 300.22L592.5 299.65L592.84 299.48L593.64 299.08L594.79 298.5L594.91 298.43L595.94 297.9L596.9 297.38L597.08 297.29L598.23 296.65L598.79 296.33L599.38 296L600.53 295.33L600.6 295.28L601.67 294.64L602.32 294.23L602.82 293.92L603.97 293.19L603.98 293.18L605.11 292.44L605.58 292.13L606.26 291.68L607.15 291.08L607.41 290.91L608.55 290.13L608.7 290.03L609.7 289.34L610.23 288.98L610.85 288.55L611.75 287.93L611.99 287.76L613.14 286.97L613.27 286.88L614.29 286.17L614.78 285.83L615.44 285.38L616.3 284.78L616.58 284.59L617.73 283.79L617.82 283.73L618.88 283L619.34 282.68L620.02 282.21L620.86 281.63L621.17 281.42L622.32 280.62L622.38 280.58L623.46 279.83L623.9 279.53L624.61 279.03L625.4 278.48L625.76 278.22L626.88 277.43L626.91 277.41L628.05 276.59L628.35 276.38L629.2 275.76L629.79 275.33L630.35 274.92L631.2 274.28L631.49 274.06L632.58 273.23L632.64 273.18L633.79 272.29L633.93 272.18L634.93 271.38L635.25 271.13L636.08 270.42L636.48 270.07L637.23 269.41L637.65 269.02L638.37 268.38L638.82 267.97L639.52 267.35L639.99 266.92L640.67 266.31L641.15 265.87L641.82 265.28L642.31 264.82L642.96 264.24L643.48 263.77L644.11 263.2L644.63 262.72L645.26 262.16L645.79 261.67L646.4 261.12L646.95 260.62L647.55 260.08L647.55 259.57L647.55 258.52L647.55 257.47L647.55 256.42L647.55 255.37L647.55 254.32L647.55 253.27L647.55 252.22L647.55 251.17L647.55 250.12L647.55 249.07L647.55 248.02L647.55 246.97L647.55 245.92L647.55 244.87L647.55 243.82L647.55 242.77L647.55 241.72L647.55 240.66L647.55 239.61L647.55 238.56L647.55 237.51L647.55 236.46L647.55 235.41L647.55 234.36L647.55 233.31L647.55 232.26L647.55 231.21L647.55 230.16L647.55 229.11L647.55 228.06L647.55 227.01L647.55 225.96L647.55 224.91L647.55 223.86L647.55 222.81L647.55 221.76L647.55 220.71L647.55 219.66L647.55 218.61L647.55 217.56L647.55 216.51L647.55 215.46L647.55 214.41L647.55 213.36L647.55 212.31L647.55 211.25L647.55 210.2L647.55 209.15L647.55 208.1L647.55 207.05L647.55 206L647.55 204.95L647.55 203.9L647.55 202.85L647.55 201.8L647.55 200.75L647.55 199.7L647.55 198.65L647.55 197.6L646.4 197.6L645.26 197.6L644.11 197.6L642.96 197.6L641.82 197.6L640.67 197.6L639.52 197.6L638.37 197.6L637.23 197.6L636.08 197.6L634.93 197.6L633.79 197.6L632.64 197.6L631.49 197.6L630.35 197.6L629.2 197.6L628.05 197.6L626.91 197.6L625.76 197.6L624.61 197.6L623.46 197.6L622.32 197.6L621.17 197.6L620.02 197.6L618.88 197.6L617.73 197.6L616.58 197.6L615.44 197.6L614.29 197.6L613.14 197.6L611.99 197.6L610.85 197.6L609.7 197.6L608.55 197.6L607.41 197.6L606.26 197.6L605.11 197.6L603.97 197.6L602.82 197.6L601.67 197.6L600.53 197.6L599.38 197.6L598.23 197.6L597.08 197.6L595.94 197.6L594.79 197.6L593.64 197.6L592.5 197.6L591.35 197.6L590.2 197.6L589.06 197.6L587.91 197.6L586.76 197.6L585.62 197.6L584.47 197.6L583.32 197.6L582.17 197.6L581.03 197.6L579.88 197.6L578.73 197.6L577.59 197.6L576.44 197.6L575.29 197.6L574.15 197.6L573 197.6L571.85 197.6L570.7 197.6L569.56 197.6L568.41 197.6L567.26 197.6L566.12 197.6L564.97 197.6L563.82 197.6L562.68 197.6L561.53 197.6L560.38 197.6L559.24 197.6L558.09 197.6L556.94 197.6L555.79 197.6L554.65 197.6L553.5 197.6L552.35 197.6L551.21 197.6L550.06 197.6L548.91 197.6L547.77 197.6L546.62 197.6L545.47 197.6L544.33 197.6L543.18 197.6L542.03 197.6L540.88 197.6L539.74 197.6L538.59 197.6L537.44 197.6L536.3 197.6L535.15 197.6L534 197.6L532.86 197.6L531.71 197.6L530.56 197.6L529.41 197.6L528.27 197.6L527.12 197.6L525.97 197.6L524.83 197.6L523.68 197.6L522.53 197.6L521.39 197.6L520.24 197.6L519.09 197.6L517.95 197.6L516.8 197.6L515.65 197.6L514.5 197.6L513.36 197.6L512.21 197.6L511.06 197.6L509.92 197.6L508.77 197.6L507.62 197.6L506.48 197.6L505.33 197.6L504.18 197.6L503.04 197.6L501.89 197.6L500.74 197.6L499.59 197.6L498.45 197.6L497.3 197.6L496.15 197.6L495.01 197.6L493.86 197.6L492.71 197.6L491.57 197.6L490.42 197.6L489.27 197.6L488.12 197.6L488.12 198.65L488.12 199.7L488.12 200.75L488.12 201.8L488.12 202.85L488.12 203.9L488.12 204.95L488.12 206L488.12 207.05L488.12 208.1L488.12 209.15L488.12 210.2L488.12 211.25L488.12 212.31L488.12 213.36L488.12 214.41L488.12 215.46L488.12 216.51L488.12 217.56L488.12 218.61L488.12 219.66L488.12 220.71L488.12 221.76L488.12 222.81L488.12 223.86L488.12 224.91L488.12 225.96L488.12 227.01L488.12 228.06L488.12 229.11L488.12 230.16L488.12 231.21L488.12 232.26L488.12 233.31L488.12 234.36L488.12 235.41L488.12 236.46L488.12 237.51L488.12 238.56L488.12 239.61L488.12 240.66L488.12 241.72L488.12 242.77L488.12 243.82L488.12 244.87L488.12 245.92L488.12 246.97L488.12 248.02L488.12 249.07L488.12 250.12L488.12 251.17L488.12 252.22L488.12 253.27L488.12 254.32L488.12 255.37L488.12 256.42L488.12 257.47L488.12 258.52L488.12 259.57L488.12 260.62L488.12 261.67L488.12 262.72L488.12 263.77L488.12 264.82L488.12 265.87L488.12 266.92L488.12 267.97L488.12 269.02L488.12 270.07L488.12 271.13L488.12 272.18L488.12 273.23L488.12 274.28L488.12 275.33L488.12 276.38L488.12 277.43L488.12 278.48L488.12 279.53L488.12 280.58L488.12 281.63L488.12 282.68L488.12 283.73L488.12 284.78L488.12 285.83L488.12 286.88L488.12 287.93L488.12 288.98L488.12 290.03L488.12 291.08L488.12 292.13L488.12 293.18L488.12 294.23L488.12 295.28L488.12 296.33L488.12 297.38L488.12 298.43L488.12 299.48L488.12 300.54L488.12 301.59L488.12 302.64L488.12 303.69L488.12 304.74L488.12 305.79L488.12 306.84L488.12 307.89L488.12 308.94L488.12 309.99L488.12 311.04L488.12 312.09L488.12 313.14L488.12 314.19L488.12 315.24L488.12 316.29L488.12 317.34L488.12 317.74Z" fill="#ffe9e9" stroke="#ffe9e9" stroke-width="0.3"/>
<path d="M489.27 315.34L490.42 315.29L491.57 315.24L491.57 315.24L492.71 315.19L493.86 315.14L495.01 315.1L496.15 315.05L497.3 315L498.45 314.96L499.59 314.92L500.74 314.88L501.89 314.84L503.04 314.81L504.18 314.77L505.33 314.74L506.48 314.71L507.62 314.69L508.77 314.67L509.92 314.65L511.06 314.64L512.21 314.63L513.36 314.63L514.5 314.62L515.65 314.62L516.8 314.62L517.95 314.62L519.09 314.62L520.24 314.62L521.39 314.61L522.53 314.6L523.68 314.59L524.83 314.58L525.97 314.56L527.12 314.53L528.27 314.5L529.41 314.46L530.56 314.41L531.71 314.35L532.86 314.28L534 314.2L534.12 314.19L535.15 314.11L536.3 314L537.44 313.89L538.59 313.76L539.74 313.63L540.88 313.48L542.03 313.32L543.18 313.15L543.26 313.14L544.33 312.97L545.47 312.78L546.62 312.58L547.77 312.37L548.91 312.15L549.2 312.09L550.06 311.91L551.21 311.67L552.35 311.42L553.5 311.16L553.99 311.04L554.65 310.88L555.79 310.6L556.94 310.31L558.09 310L558.15 309.99L559.24 309.69L560.38 309.37L561.53 309.04L561.89 308.94L562.68 308.71L563.82 308.36L564.97 308.01L565.38 307.89L566.12 307.61L567.26 307.18L568.16 306.84L568.41 306.61L569.33 305.79L569.56 305.58L570.56 304.74L570.7 304.62L571.85 303.7L571.88 303.69L573 302.84L573.28 302.64L574.15 302.02L574.78 301.59L575.29 301.24L576.39 300.54L576.44 300.5L577.59 299.8L578.12 299.48L578.73 299.13L579.88 298.49L579.99 298.43L581.03 297.88L581.99 297.38L582.17 297.29L583.32 296.71L584.09 296.33L584.47 296.15L585.62 295.59L586.26 295.28L586.76 295.04L587.91 294.49L588.45 294.23L589.06 293.94L590.2 293.38L590.62 293.18L591.35 292.82L592.5 292.25L592.73 292.13L593.64 291.67L594.78 291.08L594.79 291.07L595.94 290.47L596.74 290.03L597.08 289.84L598.23 289.2L598.62 288.98L599.38 288.55L600.43 287.93L600.53 287.88L601.67 287.19L602.17 286.88L602.82 286.48L603.86 285.83L603.97 285.76L605.11 285.03L605.51 284.78L606.26 284.29L607.13 283.73L607.41 283.55L608.55 282.8L608.73 282.68L609.7 282.04L610.32 281.63L610.85 281.28L611.9 280.58L611.99 280.52L613.14 279.75L613.48 279.53L614.29 278.99L615.05 278.48L615.44 278.22L616.58 277.46L616.62 277.43L617.73 276.69L618.19 276.38L618.88 275.92L619.75 275.33L620.02 275.14L621.17 274.36L621.3 274.28L622.32 273.58L622.83 273.23L623.46 272.79L624.34 272.18L624.61 271.98L625.76 271.17L625.82 271.13L626.91 270.28L627.16 270.07L628.05 269.3L628.38 269.02L629.2 268.32L629.59 267.97L630.35 267.33L630.81 266.92L631.49 266.34L632.03 265.87L632.64 265.34L633.24 264.82L633.79 264.35L634.45 263.77L634.93 263.35L635.65 262.72L636.08 262.35L636.85 261.67L637.23 261.34L638.04 260.62L638.37 260.33L639.23 259.57L639.52 259.31L640.41 258.52L640.67 258.29L641.58 257.47L641.82 257.26L642.76 256.42L642.96 256.24L643.93 255.37L644.11 255.21L645.1 254.32L645.26 254.18L646.26 253.27L646.4 253.14L647.43 252.22L647.55 252.11L647.55 251.17L647.55 250.12L647.55 249.07L647.55 248.02L647.55 246.97L647.55 245.92L647.55 244.87L647.55 243.82L647.55 242.77L647.55 241.72L647.55 240.66L647.55 239.61L647.55 238.56L647.55 237.51L647.55 236.46L647.55 235.41L647.55 234.36L647.55 233.31L647.55 232.26L647.55 231.21L647.55 230.16L647.55 229.11L647.55 228.06L647.55 227.01L647.55 225.96L647.55 224.91L647.55 223.86L647.55 222.81L647.55 221.76L647.55 220.71L647.55 219.66L647.55 218.61L647.55 217.56L647.55 216.51L647.55 215.46L647.55 214.41L647.55 213.36L647.55 212.31L647.55 211.25L647.55 210.2L647.55 209.15L647.55 208.1L647.55 207.05L647.55 206L647.55 204.95L647.55 203.9L647.55 202.85L647.55 201.8L647.55 200.75L647.55 199.7L647.55 198.65L647.55 197.6L646.4 197.6L645.26 197.6L644.11 197.6L642.96 197.6L641.82 197.6L640.67 197.6L639.52 197.6L638.37 197.6L637.23 197.6L636.08 197.6L634.93 197.6L633.79 197.6L632.64 197.6L631.49 197.6L630.35 197.6L629.2 197.6L628.05 197.6L626.91 197.6L625.76 197.6L624.61 197.6L623.46 197.6L622.32 197.6L621.17 197.6L620.02 197.6L618.88 197.6L617.73 197.6L616.58 197.6L615.44 197.6L614.29 197.6L613.14 197.6L611.99 197.6L610.85 197.6L609.7 197.6L608.55 197.6L607.41 197.6L606.26 197.6L605.11 197.6L603.97 197.6L602.82 197.6L601.67 197.6L600.53 197.6L599.38 197.6L598.23 197.6L597.08 197.6L595.94 197.6L594.79 197.6L593.64 197.6L592.5 197.6L591.35 197.6L590.2 197.6L589.06 197.6L587.91 197.6L586.76 197.6L585.62 197.6L584.47 197.6L583.32 197.6L582.17 197.6L581.03 197.6L579.88 197.6L578.73 197.6L577.59 197.6L576.44 197.6L575.29 197.6L574.15 197.6L573 197.6L571.85 197.6L570.7 197.6L569.56 197.6L568.41 197.6L567.26 197.6L566.12 197.6L564.97 197.6L563.82 197.6L562.68 197.6L561.53 197.6L560.38 197.6L559.24 197.6L558.09 197.6L556.94 197.6L555.79 197.6L554.65 197.6L553.5 197.6L552.35 197.6L551.21 197.6L550.06 197.6L548.91 197.6L547.77 197.6L546.62 197.6L545.47 197.6L544.33 197.6L543.18 197.6L542.03 197.6L540.88 197.6L539.74 197.6L538.59 197.6L537.44 197.6L536.3 197.6L535.15 197.6L534 197.6L532.86 197.6L531.71 197.6L530.56 197.6L529.41 197.6L528.27 197.6L527.12 197.6L525.97 197.6L524.83 197.6L523.68 197.6L522.53 197.6L521.39 197.6L520.24 197.6L519.09 197.6L517.95 197.6L516.8 197.6L515.65 197.6L514.5 197.6L513.36 197.6L512.21 197.6L511.06 197.6L509.92 197.6L508.77 197.6L507.62 197.6L506.48 197.6L505.33 197.6L504.18 197.6L503.04 197.6L501.89 197.6L500.74 197.6L499.59 197.6L498.45 197.6L497.3 197.6L496.15 197.6L495.01 197.6L493.86 197.6L492.71 197.6L491.57 197.6L490.42 197.6L489.27 197.6L488.12 197.6L488.12 198.65L488.12 199.7L488.12 200.75L488.12 201.8L488.12 202.85L488.12 203.9L488.12 204.95L488.12 206L488.12 207.05L488.12 208.1L488.12 209.15L488.12 210.2L488.12 211.25L488.12 212.31L488.12 213.36L488.12 214.41L488.12 215.46L488.12 216.51L488.12 217.56L488.12 218.61L488.12 219.66L488.12 220.71L488.12 221.76L488.12 222.81L488.12 223.86L488.12 224.91L488.12 225.96L488.12 227.01L488.12 228.06L488.12 229.11L488.12 230.16L488.12 231.21L488.12 232.26L488.12 233.31L488.12 234.36L488.12 235.41L488.12 236.46L488.12 237.51L488.12 238.56L488.12 239.61L488.12 240.66L488.12 241.72L488.12 242.77L488.12 243.82L488.12 244.87L488.12 245.92L488.12 246.97L488.12 248.02L488.12 249.07L488.12 250.12L488.12 251.17L488.12 252.22L488.12 253.27L488.12 254.32L488.12 255.37L488.12 256.42L488.12 257.47L488.12 258.52L488.12 259.57L488.12 260.62L488.12 261.67L488.12 262.72L488.12 263.77L488.12 264.82L488.12 265.87L488.12 266.92L488.12 267.97L488.12 269.02L488.12 270.07L488.12 271.13L488.12 272.18L488.12 273.23L488.12 274.28L488.12 275.33L488.12 276.38L488.12 277.43L488.12 278.48L488.12 279.53L488.12 280.58L488.12 281.63L488.12 282.68L488.12 283.73L488.12 284.78L488.12 285.83L488.12 286.88L488.12 287.93L488.12 288.98L488.12 290.03L488.12 291.08L488.12 292.13L488.12 293.18L488.12 294.23L488.12 295.28L488.12 296.33L488.12 297.38L488.12 298.43L488.12 299.48L488.12 300.54L488.12 301.59L488.12 302.64L488.12 303.69L488.12 304.74L488.12 305.79L488.12 306.84L488.12 307.89L488.12 308.94L488.12 309.99L488.12 311.04L488.12 312.09L488.12 313.14L488.12 314.19L488.12 315.24L488.12 315.39Z" fill="#fed4d4" stroke="#fed4d4" stroke-width="0.3"/>
<path d="M489.27 312.98L490.42 312.93L491.57 312.87L492.71 312.82L493.86 312.77L495.01 312.72L496.15 312.67L497.3 312.62L498.45 312.57L499.59 312.53L500.74 312.48L501.89 312.44L503.04 312.4L504.18 312.37L505.33 312.33L506.48 312.3L507.62 312.28L508.77 312.26L509.92 312.24L511.06 312.22L512.21 312.21L513.36 312.21L514.5 312.2L515.65 312.2L516.8 312.2L517.95 312.2L519.09 312.2L520.24 312.19L521.39 312.19L522.53 312.18L523.68 312.17L524.83 312.15L525.97 312.13L527.12 312.1L527.47 312.09L528.27 312.06L529.41 312.02L530.56 311.97L531.71 311.9L532.86 311.83L534 311.74L535.15 311.64L536.3 311.53L537.44 311.41L538.59 311.27L539.74 311.12L540.32 311.04L540.88 310.96L542.03 310.79L543.18 310.6L544.33 310.41L545.47 310.2L546.6 309.99L546.62 309.98L547.77 309.75L548.91 309.51L550.06 309.26L551.21 309L551.46 308.94L552.35 308.72L553.5 308.44L554.65 308.14L555.6 307.89L555.79 307.82L556.94 307.43L558.09 307.03L558.62 306.84L559.24 306.13L559.54 305.79L560.38 304.86L560.5 304.74L561.5 303.69L561.53 303.66L562.56 302.64L562.68 302.52L563.67 301.59L563.82 301.45L564.85 300.54L564.97 300.43L566.09 299.48L566.12 299.46L567.26 298.55L567.41 298.43L568.41 297.68L568.82 297.38L569.56 296.86L570.32 296.33L570.7 296.07L571.85 295.33L571.92 295.28L573 294.62L573.64 294.23L574.15 293.93L575.29 293.28L575.47 293.18L576.44 292.65L577.43 292.13L577.59 292.05L578.73 291.46L579.5 291.08L579.88 290.89L581.03 290.34L581.67 290.03L582.17 289.79L583.32 289.26L583.91 288.98L584.47 288.72L585.62 288.18L586.15 287.93L586.76 287.64L587.91 287.1L588.37 286.88L589.06 286.55L590.2 285.99L590.54 285.83L591.35 285.43L592.5 284.85L592.63 284.78L593.64 284.26L594.64 283.73L594.79 283.65L595.94 283.03L596.58 282.68L597.08 282.4L598.23 281.75L598.45 281.63L599.38 281.09L600.26 280.58L600.53 280.42L601.67 279.74L602.02 279.53L602.82 279.04L603.74 278.48L603.97 278.34L605.11 277.62L605.43 277.43L606.26 276.91L607.1 276.38L607.41 276.19L608.55 275.46L608.76 275.33L609.7 274.73L610.42 274.28L610.85 274L611.99 273.27L612.07 273.23L613.14 272.54L613.71 272.18L614.29 271.8L615.34 271.13L615.44 271.06L616.58 270.22L616.77 270.07L617.73 269.27L618.03 269.02L618.88 268.32L619.3 267.97L620.02 267.39L620.59 266.92L621.17 266.46L621.9 265.87L622.32 265.54L623.21 264.82L623.46 264.62L624.53 263.77L624.61 263.71L625.76 262.79L625.84 262.72L626.91 261.86L627.14 261.67L628.05 260.94L628.44 260.62L629.2 260L629.72 259.57L630.35 259.06L631 258.52L631.49 258.12L632.27 257.47L632.64 257.16L633.52 256.42L633.79 256.2L634.77 255.37L634.93 255.23L636 254.32L636.08 254.25L637.22 253.27L637.23 253.27L638.37 252.27L638.44 252.22L639.52 251.27L639.64 251.17L640.67 250.27L640.84 250.12L641.82 249.25L642.03 249.07L642.96 248.24L643.21 248.02L644.11 247.22L644.39 246.97L645.26 246.19L645.56 245.92L646.4 245.17L646.74 244.87L647.55 244.14L647.55 243.82L647.55 242.77L647.55 241.72L647.55 240.66L647.55 239.61L647.55 238.56L647.55 237.51L647.55 236.46L647.55 235.41L647.55 234.36L647.55 233.31L647.55 232.26L647.55 231.21L647.55 230.16L647.55 229.11L647.55 228.06L647.55 227.01L647.55 225.96L647.55 224.91L647.55 223.86L647.55 222.81L647.55 221.76L647.55 220.71L647.55 219.66L647.55 218.61L647.55 217.56L647.55 216.51L647.55 215.46L647.55 214.41L647.55 213.36L647.55 212.31L647.55 211.25L647.55 210.2L647.55 209.15L647.55 208.1L647.55 207.05L647.55 206L647.55 204.95L647.55 203.9L647.55 202.85L647.55 201.8L647.55 200.75L647.55 199.7L647.55 198.65L647.55 197.6L646.4 197.6L645.26 197.6L644.11 197.6L642.96 197.6L641.82 197.6L640.67 197.6L639.52 197.6L638.37 197.6L637.23 197.6L636.08 197.6L634.93 197.6L633.79 197.6L632.64 197.6L631.49 197.6L630.35 197.6L629.2 197.6L628.05 197.6L626.91 197.6L625.76 197.6L624.61 197.6L623.46 197.6L622.32 197.6L621.17 197.6L620.02 197.6L618.88 197.6L617.73 197.6L616.58 197.6L615.44 197.6L614.29 197.6L613.14 197.6L611.99 197.6L610.85 197.6L609.7 197.6L608.55 197.6L607.41 197.6L606.26 197.6L605.11 197.6L603.97 197.6L602.82 197.6L601.67 197.6L600.53 197.6L599.38 197.6L598.23 197.6L597.08 197.6L595.94 197.6L594.79 197.6L593.64 197.6L592.5 197.6L591.35 197.6L590.2 197.6L589.06 197.6L587.91 197.6L586.76 197.6L585.62 197.6L584.47 197.6L583.32 197.6L582.17 197.6L581.03 197.6L579.88 197.6L578.73 197.6L577.59 197.6L576.44 197.6L575.29 197.6L574.15 197.6L573 197.6L571.85 197.6L570.7 197.6L569.56 197.6L568.41 197.6L567.26 197.6L566.12 197.6L564.97 197.6L563.82 197.6L562.68 197.6L561.53 197.6L560.38 197.6L559.24 197.6L558.09 197.6L556.94 197.6L555.79 197.6L554.65 197.6L553.5 197.6L552.35 197.6L551.21 197.6L550.06 197.6L548.91 197.6L547.77 197.6L546.62 197.6L545.47 197.6L544.33 197.6L543.18 197.6L542.03 197.6L540.88 197.6L539.74 197.6L538.59 197.6L537.44 197.6L536.3 197.6L535.15 197.6L534 197.6L532.86 197.6L531.71 197.6L530.56 197.6L529.41 197.6L528.27 197.6L527.12 197.6L525.97 197.6L524.83 197.6L523.68 197.6L522.53 197.6L521.39 197.6L520.24 197.6L519.09 197.6L517.95 197.6L516.8 197.6L515.65 197.6L514.5 197.6L513.36 197.6L512.21 197.6L511.06 197.6L509.92 197.6L508.77 197.6L507.62 197.6L506.48 197.6L505.33 197.6L504.18 197.6L503.04 197.6L501.89 197.6L500.74 197.6L499.59 197.6L498.45 197.6L497.3 197.6L496.15 197.6L495.01 197.6L493.86 197.6L492.71 197.6L491.57 197.6L490.42 197.6L489.27 197.6L488.12 197.6L488.12 198.65L488.12 199.7L488.12 200.75L488.12 201.8L488.12 202.85L488.12 203.9L488.12 204.95L488.12 206L488.12 207.05L488.12 208.1L488.12 209.15L488.12 210.2L488.12 211.25L488.12 212.31L488.12 213.36L488.12 214.41L488.12 215.46L488.12 216.51L488.12 217.56L488.12 218.61L488.12 219.66L488.12 220.71L488.12 221.76L488.12 222.81L488.12 223.86L488.12 224.91L488.12 225.96L488.12 227.01L488.12 228.06L488.12 229.11L488.12 230.16L488.12 231.21L488.12 232.26L488.12 233.31L488.12 234.36L488.12 235.41L488.12 236.46L488.12 237.51L488.12 238.56L488.12 239.61L488.12 240.66L488.12 241.72L488.12 242.77L488.12 243.82L488.12 244.87L488.12 245.92L488.12 246.97L488.12 248.02L488.12 249.07L488.12 250.12L488.12 251.17L488.12 252.22L488.12 253.27L488.12 254.32L488.12 255.37L488.12 256.42L488.12 257.47L488.12 258.52L488.12 259.57L488.12 260.62L488.12 261.67L488.12 262.72L488.12 263.77L488.12 264.82L488.12 265.87L488.12 266.92L488.12 267.97L488.12 269.02L488.12 270.07L488.12 271.13L488.12 272.18L488.12 273.23L488.12 274.28L488.12 275.33L488.12 276.38L488.12 277.43L488.12 278.48L488.12 279.53L488.12 280.58L488.12 281.63L488.12 282.68L488.12 283.73L488.12 284.78L488.12 285.83L488.12 286.88L488.12 287.93L488.12 288.98L488.12 290.03L488.12 291.08L488.12 292.13L488.12 293.18L488.12 294.23L488.12 295.28L488.12 296.33L488.12 297.38L488.12 298.43L488.12 299.48L488.12 300.54L488.12 301.59L488.12 302.64L488.12 303.69L488.12 304.74L488.12 305.79L488.12 306.84L488.12 307.89L488.12 308.94L488.12 309.99L488.12 311.04L488.12 312.09L488.12 313.03Z" fill="#febebe" stroke="#febebe" stroke-width="0.3"/>
<path d="M489.27 310.62L490.42 310.56L491.57 310.51L492.71 310.45L493.86 310.39L495.01 310.34L496.15 310.28L497.3 310.23L498.45 310.18L499.59 310.13L500.74 310.08L501.89 310.04L503.04 310L503.34 309.99L504.18 309.96L505.33 309.92L506.48 309.89L507.62 309.86L508.77 309.84L509.92 309.82L511.06 309.81L512.21 309.79L513.36 309.79L514.5 309.78L515.65 309.78L516.8 309.78L517.95 309.78L519.09 309.78L520.24 309.77L521.39 309.77L522.53 309.76L523.68 309.75L524.83 309.73L525.97 309.7L527.12 309.67L528.27 309.63L529.41 309.58L530.56 309.53L531.71 309.46L532.86 309.38L534 309.28L535.15 309.18L536.3 309.05L537.29 308.94L537.44 308.92L538.59 308.77L539.74 308.61L540.88 308.44L542.03 308.26L543.18 308.06L544.1 307.89L544.33 307.84L545.47 307.55L546.62 307.26L547.77 306.94L548.15 306.84L548.91 305.86L548.97 305.79L549.81 304.74L550.06 304.44L550.68 303.69L551.21 303.06L551.57 302.64L552.35 301.74L552.49 301.59L553.45 300.54L553.5 300.48L554.44 299.48L554.65 299.28L555.48 298.43L555.79 298.13L556.57 297.38L556.94 297.03L557.71 296.33L558.09 296L558.91 295.28L559.24 295.01L560.19 294.23L560.38 294.08L561.53 293.2L561.55 293.18L562.68 292.36L562.99 292.13L563.82 291.56L564.55 291.08L564.97 290.81L566.12 290.09L566.21 290.03L567.26 289.41L568.01 288.98L568.41 288.75L569.56 288.13L569.93 287.93L570.7 287.53L571.85 286.95L571.99 286.88L573 286.39L574.15 285.85L574.19 285.83L575.29 285.32L576.44 284.8L576.49 284.78L577.59 284.3L578.73 283.79L578.88 283.73L579.88 283.3L581.03 282.8L581.3 282.68L582.17 282.3L583.32 281.8L583.7 281.63L584.47 281.29L585.62 280.77L586.04 280.58L586.76 280.25L587.91 279.71L588.29 279.53L589.06 279.16L590.2 278.6L590.46 278.48L591.35 278.03L592.5 277.44L592.53 277.43L593.64 276.84L594.52 276.38L594.79 276.23L595.94 275.6L596.43 275.33L597.08 274.96L598.23 274.31L598.28 274.28L599.38 273.64L600.09 273.23L600.53 272.97L601.67 272.29L601.86 272.18L602.82 271.6L603.61 271.13L603.97 270.86L605.03 270.07L605.11 270L606.18 269.02L606.26 268.95L607.37 267.97L607.41 267.94L608.55 266.97L608.61 266.92L609.7 266.03L609.9 265.87L610.85 265.12L611.23 264.82L611.99 264.23L612.59 263.77L613.14 263.36L614 262.72L614.29 262.51L615.44 261.67L615.44 261.67L616.58 260.85L616.89 260.62L617.73 260.03L618.37 259.57L618.88 259.21L619.85 258.52L620.02 258.4L621.17 257.59L621.34 257.47L622.32 256.78L622.81 256.42L623.46 255.95L624.27 255.37L624.61 255.13L625.71 254.32L625.76 254.28L626.91 253.43L627.12 253.27L628.05 252.57L628.51 252.22L629.2 251.69L629.87 251.17L630.35 250.8L631.21 250.12L631.49 249.9L632.53 249.07L632.64 248.98L633.79 248.05L633.83 248.02L634.93 247.11L635.11 246.97L636.08 246.16L636.37 245.92L637.23 245.19L637.61 244.87L638.37 244.22L638.85 243.82L639.52 243.24L640.07 242.77L640.67 242.24L641.27 241.72L641.82 241.24L642.47 240.66L642.96 240.24L643.67 239.61L644.11 239.22L644.85 238.56L645.26 238.21L646.04 237.51L646.4 237.19L647.22 236.46L647.55 236.17L647.55 235.41L647.55 234.36L647.55 233.31L647.55 232.26L647.55 231.21L647.55 230.16L647.55 229.11L647.55 228.06L647.55 227.01L647.55 225.96L647.55 224.91L647.55 223.86L647.55 222.81L647.55 221.76L647.55 220.71L647.55 219.66L647.55 218.61L647.55 217.56L647.55 216.51L647.55 215.46L647.55 214.41L647.55 213.36L647.55 212.31L647.55 211.25L647.55 210.2L647.55 209.15L647.55 208.1L647.55 207.05L647.55 206L647.55 204.95L647.55 203.9L647.55 202.85L647.55 201.8L647.55 200.75L647.55 199.7L647.55 198.65L647.55 197.6L646.4 197.6L645.26 197.6L644.11 197.6L642.96 197.6L641.82 197.6L640.67 197.6L639.52 197.6L638.37 197.6L637.23 197.6L636.08 197.6L634.93 197.6L633.79 197.6L632.64 197.6L631.49 197.6L630.35 197.6L629.2 197.6L628.05 197.6L626.91 197.6L625.76 197.6L624.61 197.6L623.46 197.6L622.32 197.6L621.17 197.6L620.02 197.6L618.88 197.6L617.73 197.6L616.58 197.6L615.44 197.6L614.29 197.6L613.14 197.6L611.99 197.6L610.85 197.6L609.7 197.6L608.55 197.6L607.41 197.6L606.26 197.6L605.11 197.6L603.97 197.6L602.82 197.6L601.67 197.6L600.53 197.6L599.38 197.6L598.23 197.6L597.08 197.6L595.94 197.6L594.79 197.6L593.64 197.6L592.5 197.6L591.35 197.6L590.2 197.6L589.06 197.6L587.91 197.6L586.76 197.6L585.62 197.6L584.47 197.6L583.32 197.6L582.17 197.6L581.03 197.6L579.88 197.6L578.73 197.6L577.59 197.6L576.44 197.6L575.29 197.6L574.15 197.6L573 197.6L571.85 197.6L570.7 197.6L569.56 197.6L568.41 197.6L567.26 197.6L566.12 197.6L564.97 197.6L563.82 197.6L562.68 197.6L561.53 197.6L560.38 197.6L559.24 197.6L558.09 197.6L556.94 197.6L555.79 197.6L554.65 197.6L553.5 197.6L552.35 197.6L551.21 197.6L550.06 197.6L548.91 197.6L547.77 197.6L546.62 197.6L545.47 197.6L544.33 197.6L543.18 197.6L542.03 197.6L540.88 197.6L539.74 197.6L538.59 197.6L537.44 197.6L536.3 197.6L535.15 197.6L534 197.6L532.86 197.6L531.71 197.6L530.56 197.6L529.41 197.6L528.27 197.6L527.12 197.6L525.97 197.6L524.83 197.6L523.68 197.6L522.53 197.6L521.39 197.6L520.24 197.6L519.09 197.6L517.95 197.6L516.8 197.6L515.65 197.6L514.5 197.6L513.36 197.6L512.21 197.6L511.06 197.6L509.92 197.6L508.77 197.6L507.62 197.6L506.48 197.6L505.33 197.6L504.18 197.6L503.04 197.6L501.89 197.6L500.74 197.6L499.59 197.6L498.45 197.6L497.3 197.6L496.15 197.6L495.01 197.6L493.86 197.6L492.71 197.6L491.57 197.6L490.42 197.6L489.27 197.6L488.12 197.6L488.12 198.65L488.12 199.7L488.12 200.75L488.12 201.8L488.12 202.85L488.12 203.9L488.12 204.95L488.12 206L488.12 207.05L488.12 208.1L488.12 209.15L488.12 210.2L488.12 211.25L488.12 212.31L488.12 213.36L488.12 214.41L488.12 215.46L488.12 216.51L488.12 217.56L488.12 218.61L488.12 219.66L488.12 220.71L488.12 221.76L488.12 222.81L488.12 223.86L488.12 224.91L488.12 225.96L488.12 227.01L488.12 228.06L488.12 229.11L488.12 230.16L488.12 231.21L488.12 232.26L488.12 233.31L488.12 234.36L488.12 235.41L488.12 236.46L488.12 237.51L488.12 238.56L488.12 239.61L488.12 240.66L488.12 241.72L488.12 242.77L488.12 243.82L488.12 244.87L488.12 245.92L488.12 246.97L488.12 248.02L488.12 249.07L488.12 250.12L488.12 251.17L488.12 252.22L488.12 253.27L488.12 254.32L488.12 255.37L488.12 256.42L488.12 257.47L488.12 258.52L488.12 259.57L488.12 260.62L488.12 261.67L488.12 262.72L488.12 263.77L488.12 264.82L488.12 265.87L488.12 266.92L488.12 267.97L488.12 269.02L488.12 270.07L488.12 271.13L488.12 272.18L488.12 273.23L488.12 274.28L488.12 275.33L488.12 276.38L488.12 277.43L488.12 278.48L488.12 279.53L488.12 280.58L488.12 281.63L488.12 282.68L488.12 283.73L488.12 284.78L488.12 285.83L488.12 286.88L488.12 287.93L488.12 288.98L488.12 290.03L488.12 291.08L488.12 292.13L488.12 293.18L488.12 294.23L488.12 295.28L488.12 296.33L488.12 297.38L488.12 298.43L488.12 299.48L488.12 300.54L488.12 301.59L488.12 302.64L488.12 303.69L488.12 304.74L488.12 305.79L488.12 306.84L488.12 307.89L488.12 308.94L488.12 309.99L488.12 310.68Z" fill="#fea8a8" stroke="#fea8a8" stroke-width="0.3"/>
<path d="M489.27 308.26L490.42 308.2L491.57 308.14L492.71 308.08L493.86 308.02L495.01 307.96L496.15 307.9L496.42 307.89L497.3 307.83L498.45 307.76L499.59 307.7L500.74 307.63L501.89 307.57L503.04 307.52L504.18 307.46L505.33 307.42L506.48 307.37L507.62 307.33L508.77 307.3L509.92 307.27L511.06 307.25L512.21 307.24L513.36 307.23L514.5 307.22L515.65 307.22L516.8 307.21L517.95 307.21L519.09 307.21L520.24 307.2L521.39 307.2L522.53 307.18L523.68 307.16L524.83 307.14L525.97 307.1L527.12 307.06L528.27 307.01L529.41 306.94L530.56 306.86L530.83 306.84L531.71 306.37L532.65 305.79L532.86 305.66L534 304.85L534.15 304.74L535.15 303.96L535.47 303.69L536.3 302.98L536.68 302.64L537.44 301.95L537.82 301.59L538.59 300.86L538.92 300.54L539.74 299.75L540 299.48L540.88 298.62L541.06 298.43L542.03 297.48L542.12 297.38L543.18 296.34L543.19 296.33L544.26 295.28L544.33 295.22L545.35 294.23L545.47 294.12L546.48 293.18L546.62 293.05L547.63 292.13L547.77 292.02L548.84 291.08L548.91 291.02L550.06 290.06L550.09 290.03L551.21 289.14L551.41 288.98L552.35 288.27L552.81 287.93L553.5 287.43L554.3 286.88L554.65 286.64L555.79 285.9L555.9 285.83L556.94 285.19L557.64 284.78L558.09 284.52L559.24 283.89L559.54 283.73L560.38 283.3L561.53 282.73L561.63 282.68L562.68 282.19L563.82 281.68L563.94 281.63L564.97 281.19L566.12 280.72L566.47 280.58L567.26 280.27L568.41 279.83L569.21 279.53L569.56 279.4L570.7 278.98L571.85 278.57L572.12 278.48L573 278.17L574.15 277.76L575.1 277.43L575.29 277.36L576.44 276.96L577.59 276.55L578.04 276.38L578.73 276.13L579.88 275.7L580.85 275.33L581.03 275.26L582.17 274.81L583.32 274.34L583.48 274.28L584.47 273.86L585.62 273.36L585.92 273.23L586.76 272.85L587.91 272.32L588.22 272.18L589.06 271.78L590.2 271.22L590.38 271.13L591.35 270.45L591.88 270.07L592.5 269.39L592.83 269.02L593.64 268.15L593.81 267.97L594.79 266.97L594.84 266.92L595.9 265.87L595.94 265.84L597.02 264.82L597.08 264.76L598.18 263.77L598.23 263.73L599.38 262.75L599.41 262.72L600.53 261.81L600.7 261.67L601.67 260.92L602.06 260.62L602.82 260.06L603.49 259.57L603.97 259.24L605.01 258.52L605.11 258.45L606.26 257.68L606.58 257.47L607.41 256.94L608.23 256.42L608.55 256.22L609.7 255.52L609.94 255.37L610.85 254.82L611.69 254.32L611.99 254.14L613.14 253.46L613.47 253.27L614.29 252.79L615.27 252.22L615.44 252.12L616.58 251.45L617.07 251.17L617.73 250.78L618.85 250.12L618.88 250.1L620.02 249.42L620.6 249.07L621.17 248.72L622.31 248.02L622.32 248.01L623.46 247.29L623.96 246.97L624.61 246.55L625.56 245.92L625.76 245.78L626.91 245L627.1 244.87L628.05 244.2L628.58 243.82L629.2 243.38L630.03 242.77L630.35 242.54L631.44 241.72L631.49 241.68L632.64 240.8L632.81 240.66L633.79 239.9L634.15 239.61L634.93 238.99L635.46 238.56L636.08 238.07L636.75 237.51L637.23 237.12L638.02 236.46L638.37 236.17L639.27 235.41L639.52 235.2L640.5 234.36L640.67 234.21L641.65 233.31L641.82 233.16L642.83 232.26L642.96 232.15L644.08 231.21L644.11 231.19L645.26 230.28L645.41 230.16L646.4 229.42L646.83 229.11L647.55 228.61L647.55 228.06L647.55 227.01L647.55 225.96L647.55 224.91L647.55 223.86L647.55 222.81L647.55 221.76L647.55 220.71L647.55 219.66L647.55 218.61L647.55 217.56L647.55 216.51L647.55 215.46L647.55 214.41L647.55 213.36L647.55 212.31L647.55 211.25L647.55 210.2L647.55 209.15L647.55 208.1L647.55 207.05L647.55 206L647.55 204.95L647.55 203.9L647.55 202.85L647.55 201.8L647.55 200.75L647.55 199.7L647.55 198.65L647.55 197.6L646.4 197.6L645.26 197.6L644.11 197.6L642.96 197.6L641.82 197.6L640.67 197.6L639.52 197.6L638.37 197.6L637.23 197.6L636.08 197.6L634.93 197.6L633.79 197.6L632.64 197.6L631.49 197.6L630.35 197.6L629.2 197.6L628.05 197.6L626.91 197.6L625.76 197.6L624.61 197.6L623.46 197.6L622.32 197.6L621.17 197.6L620.02 197.6L618.88 197.6L617.73 197.6L616.58 197.6L615.44 197.6L614.29 197.6L613.14 197.6L611.99 197.6L610.85 197.6L609.7 197.6L608.55 197.6L607.41 197.6L606.26 197.6L605.11 197.6L603.97 197.6L602.82 197.6L601.67 197.6L600.53 197.6L599.38 197.6L598.23 197.6L597.08 197.6L595.94 197.6L594.79 197.6L593.64 197.6L592.5 197.6L591.35 197.6L590.2 197.6L589.06 197.6L587.91 197.6L586.76 197.6L585.62 197.6L584.47 197.6L583.32 197.6L582.17 197.6L581.03 197.6L579.88 197.6L578.73 197.6L577.59 197.6L576.44 197.6L575.29 197.6L574.15 197.6L573 197.6L571.85 197.6L570.7 197.6L569.56 197.6L568.41 197.6L567.26 197.6L566.12 197.6L564.97 197.6L563.82 197.6L562.68 197.6L561.53 197.6L560.38 197.6L559.24 197.6L558.09 197.6L556.94 197.6L555.79 197.6L554.65 197.6L553.5 197.6L552.35 197.6L551.21 197.6L550.06 197.6L548.91 197.6L547.77 197.6L546.62 197.6L545.47 197.6L544.33 197.6L543.18 197.6L542.03 197.6L540.88 197.6L539.74 197.6L538.59 197.6L537.44 197.6L536.3 197.6L535.15 197.6L534 197.6L532.86 197.6L531.71 197.6L530.56 197.6L529.41 197.6L528.27 197.6L527.12 197.6L525.97 197.6L524.83 197.6L523.68 197.6L522.53 197.6L521.39 197.6L520.24 197.6L519.09 197.6L517.95 197.6L516.8 197.6L515.65 197.6L514.5 197.6L513.36 197.6L512.21 197.6L511.06 197.6L509.92 197.6L508.77 197.6L507.62 197.6L506.48 197.6L505.33 197.6L504.18 197.6L503.04 197.6L501.89 197.6L500.74 197.6L499.59 197.6L498.45 197.6L497.3 197.6L496.15 197.6L495.01 197.6L493.86 197.6L492.71 197.6L491.57 197.6L490.42 197.6L489.27 197.6L488.12 197.6L488.12 198.65L488.12 199.7L488.12 200.75L488.12 201.8L488.12 202.85L488.12 203.9L488.12 204.95L488.12 206L488.12 207.05L488.12 208.1L488.12 209.15L488.12 210.2L488.12 211.25L488.12 212.31L488.12 213.36L488.12 214.41L488.12 215.46L488.12 216.51L488.12 217.56L488.12 218.61L488.12 219.66L488.12 220.71L488.12 221.76L488.12 222.81L488.12 223.86L488.12 224.91L488.12 225.96L488.12 227.01L488.12 228.06L488.12 229.11L488.12 230.16L488.12 231.21L488.12 232.26L488.12 233.31L488.12 234.36L488.12 235.41L488.12 236.46L488.12 237.51L488.12 238.56L488.12 239.61L488.12 240.66L488.12 241.72L488.12 242.77L488.12 243.82L488.12 244.87L488.12 245.92L488.12 246.97L488.12 248.02L488.12 249.07L488.12 250.12L488.12 251.17L488.12 252.22L488.12 253.27L488.12 254.32L488.12 255.37L488.12 256.42L488.12 257.47L488.12 258.52L488.12 259.57L488.12 260.62L488.12 261.67L488.12 262.72L488.12 263.77L488.12 264.82L488.12 265.87L488.12 266.92L488.12 267.97L488.12 269.02L488.12 270.07L488.12 271.13L488.12 272.18L488.12 273.23L488.12 274.28L488.12 275.33L488.12 276.38L488.12 277.43L488.12 278.48L488.12 279.53L488.12 280.58L488.12 281.63L488.12 282.68L488.12 283.73L488.12 284.78L488.12 285.83L488.12 286.88L488.12 287.93L488.12 288.98L488.12 290.03L488.12 291.08L488.12 292.13L488.12 293.18L488.12 294.23L488.12 295.28L488.12 296.33L488.12 297.38L488.12 298.43L488.12 299.48L488.12 300.54L488.12 301.59L488.12 302.64L488.12 303.69L488.12 304.74L488.12 305.79L488.12 306.84L488.12 307.89L488.12 308.32Z" fill="#fd9393" stroke="#fd9393" stroke-width="0.3"/>
<path d="M489.27 299.57L489.5 299.48L490.42 299.15L491.57 298.74L492.42 298.43L492.71 298.33L493.86 297.93L495.01 297.52L495.41 297.38L496.15 297.13L497.3 296.74L498.45 296.35L498.5 296.33L499.59 295.97L500.74 295.6L501.76 295.28L501.89 295.24L503.04 294.89L504.18 294.55L505.27 294.23L505.33 294.22L506.48 293.89L507.62 293.58L508.77 293.28L509.18 293.18L509.92 293L511.06 292.72L512.21 292.46L513.36 292.21L513.7 292.13L514.5 291.96L515.65 291.71L516.8 291.46L517.95 291.2L518.45 291.08L519.09 290.93L520.24 290.65L521.39 290.34L522.47 290.03L522.53 290.01L523.68 289.66L524.83 289.27L525.62 288.98L525.97 288.85L527.12 288.39L528.19 287.93L528.27 287.9L529.41 287.36L530.38 286.88L530.56 286.79L531.71 286.17L532.31 285.83L532.86 285.52L534 284.84L534.1 284.78L535.15 284.13L535.78 283.73L536.3 283.41L537.43 282.68L537.44 282.67L538.59 281.93L539.06 281.63L539.74 281.2L540.73 280.58L540.88 280.49L542.03 279.79L542.47 279.53L543.18 279.11L544.3 278.48L544.33 278.46L545.47 277.84L546.28 277.43L546.62 277.26L547.77 276.7L548.46 276.38L548.91 276.17L550.06 275.68L550.93 275.33L551.21 275.22L552.35 274.79L553.5 274.39L553.83 274.28L554.65 274.01L555.79 273.67L556.94 273.35L557.4 273.23L558.09 273.05L559.24 272.77L560.38 272.51L561.53 272.26L561.95 272.18L562.68 272.03L563.82 271.8L564.97 271.57L566.12 271.35L567.26 271.13L567.27 271.13L568.41 270.8L569.56 270.46L570.7 270.11L570.82 270.07L571.85 269.44L572.49 269.02L573 268.69L574.02 267.97L574.15 267.89L575.29 267.04L575.44 266.92L576.44 266.15L576.78 265.87L577.59 265.22L578.06 264.82L578.73 264.26L579.3 263.77L579.88 263.28L580.51 262.72L581.03 262.28L581.72 261.67L582.17 261.28L582.93 260.62L583.32 260.29L584.16 259.57L584.47 259.32L585.43 258.52L585.62 258.37L586.73 257.47L586.76 257.45L587.91 256.56L588.09 256.42L589.06 255.7L589.51 255.37L590.2 254.88L591.02 254.32L591.35 254.1L592.5 253.35L592.61 253.27L593.64 252.63L594.32 252.22L594.79 251.94L595.94 251.29L596.15 251.17L597.08 250.66L598.12 250.12L598.23 250.06L599.38 249.49L600.24 249.07L600.53 248.94L601.67 248.4L602.52 248.02L602.82 247.89L603.97 247.39L604.94 246.97L605.11 246.9L606.26 246.42L607.41 245.94L607.46 245.92L608.55 245.47L609.7 245L610.02 244.87L610.85 244.53L611.99 244.05L612.54 243.82L613.14 243.57L614.29 243.08L614.99 242.77L615.44 242.57L616.58 242.06L617.33 241.72L617.73 241.54L618.88 240.99L619.54 240.66L620.02 240.43L621.17 239.85L621.62 239.61L622.32 239.25L623.46 238.62L623.56 238.56L624.61 237.97L625.37 237.51L625.76 237.28L626.91 236.57L627.07 236.46L628.05 235.83L628.67 235.41L629.2 235.06L630.21 234.36L630.35 234.24L631.36 233.31L631.49 233.18L632.41 232.26L632.64 232.04L633.5 231.21L633.79 230.95L634.63 230.16L634.93 229.89L635.81 229.11L636.08 228.88L637.05 228.06L637.23 227.92L638.36 227.01L638.37 227L639.52 226.13L639.75 225.96L640.67 225.3L641.23 224.91L641.82 224.52L642.83 223.86L642.96 223.77L644.11 223.07L644.56 222.81L645.26 222.41L646.4 221.78L646.45 221.76L647.55 221.19L647.55 220.71L647.55 219.66L647.55 218.61L647.55 217.56L647.55 216.51L647.55 215.46L647.55 214.41L647.55 213.36L647.55 212.31L647.55 211.25L647.55 210.2L647.55 209.15L647.55 208.1L647.55 207.05L647.55 206L647.55 204.95L647.55 203.9L647.55 202.85L647.55 201.8L647.55 200.75L647.55 199.7L647.55 198.65L647.55 197.6L646.4 197.6L645.26 197.6L644.11 197.6L642.96 197.6L641.82 197.6L640.67 197.6L639.52 197.6L638.37 197.6L637.23 197.6L636.08 197.6L634.93 197.6L633.79 197.6L632.64 197.6L631.49 197.6L630.35 197.6L629.2 197.6L628.05 197.6L626.91 197.6L625.76 197.6L624.61 197.6L623.46 197.6L622.32 197.6L621.17 197.6L620.02 197.6L618.88 197.6L617.73 197.6L616.58 197.6L615.44 197.6L614.29 197.6L613.14 197.6L611.99 197.6L610.85 197.6L609.7 197.6L608.55 197.6L607.41 197.6L606.26 197.6L605.11 197.6L603.97 197.6L602.82 197.6L601.67 197.6L600.53 197.6L599.38 197.6L598.23 197.6L597.08 197.6L595.94 197.6L594.79 197.6L593.64 197.6L592.5 197.6L591.35 197.6L590.2 197.6L589.06 197.6L587.91 197.6L586.76 197.6L585.62 197.6L584.47 197.6L583.32 197.6L582.17 197.6L581.03 197.6L579.88 197.6L578.73 197.6L577.59 197.6L576.44 197.6L575.29 197.6L574.15 197.6L573 197.6L571.85 197.6L570.7 197.6L569.56 197.6L568.41 197.6L567.26 197.6L566.12 197.6L564.97 197.6L563.82 197.6L562.68 197.6L561.53 197.6L560.38 197.6L559.24 197.6L558.09 197.6L556.94 197.6L555.79 197.6L554.65 197.6L553.5 197.6L552.35 197.6L551.21 197.6L550.06 197.6L548.91 197.6L547.77 197.6L546.62 197.6L545.47 197.6L544.33 197.6L543.18 197.6L542.03 197.6L540.88 197.6L539.74 197.6L538.59 197.6L537.44 197.6L536.3 197.6L535.15 197.6L534 197.6L532.86 197.6L531.71 197.6L530.56 197.6L529.41 197.6L528.27 197.6L527.12 197.6L525.97 197.6L524.83 197.6L523.68 197.6L522.53 197.6L521.39 197.6L520.24 197.6L519.09 197.6L517.95 197.6L516.8 197.6L515.65 197.6L514.5 197.6L513.36 197.6L512.21 197.6L511.06 197.6L509.92 197.6L508.77 197.6L507.62 197.6L506.48 197.6L505.33 197.6L504.18 197.6L503.04 197.6L501.89 197.6L500.74 197.6L499.59 197.6L498.45 197.6L497.3 197.6L496.15 197.6L495.01 197.6L493.86 197.6L492.71 197.6L491.57 197.6L490.42 197.6L489.27 197.6L488.12 197.6L488.12 198.65L488.12 199.7L488.12 200.75L488.12 201.8L488.12 202.85L488.12 203.9L488.12 204.95L488.12 206L488.12 207.05L488.12 208.1L488.12 209.15L488.12 210.2L488.12 211.25L488.12 212.31L488.12 213.36L488.12 214.41L488.12 215.46L488.12 216.51L488.12 217.56L488.12 218.61L488.12 219.66L488.12 220.71L488.12 221.76L488.12 222.81L488.12 223.86L488.12 224.91L488.12 225.96L488.12 227.01L488.12 228.06L488.12 229.11L488.12 230.16L488.12 231.21L488.12 232.26L488.12 233.31L488.12 234.36L488.12 235.41L488.12 236.46L488.12 237.51L488.12 238.56L488.12 239.61L488.12 240.66L488.12 241.72L488.12 242.77L488.12 243.82L488.12 244.87L488.12 245.92L488.12 246.97L488.12 248.02L488.12 249.07L488.12 250.12L488.12 251.17L488.12 252.22L488.12 253.27L488.12 254.32L488.12 255.37L488.12 256.42L488.12 257.47L488.12 258.52L488.12 259.57L488.12 260.62L488.12 261.67L488.12 262.72L488.12 263.77L488.12 264.82L488.12 265.87L488.12 266.92L488.12 267.97L488.12 269.02L488.12 270.07L488.12 271.13L488.12 272.18L488.12 273.23L488.12 274.28L488.12 275.33L488.12 276.38L488.12 277.43L488.12 278.48L488.12 279.53L488.12 280.58L488.12 281.63L488.12 282.68L488.12 283.73L488.12 284.78L488.12 285.83L488.12 286.88L488.12 287.93L488.12 288.98L488.12 290.03L488.12 291.08L488.12 292.13L488.12 293.18L488.12 294.23L488.12 295.28L488.12 296.33L488.12 297.38L488.12 298.43L488.12 299.48L488.12 299.98Z" fill="#fd7d7d" stroke="#fd7d7d" stroke-width="0.3"/>
<path d="M489.08 284.78L489.27 284.71L490.42 284.27L491.57 283.84L491.85 283.73L492.71 283.4L493.86 282.97L494.63 282.68L495.01 282.54L496.15 282.1L497.3 281.67L497.41 281.63L498.45 281.24L499.59 280.81L500.2 280.58L500.74 280.37L501.89 279.94L502.98 279.53L503.04 279.51L504.18 279.07L505.33 278.64L505.75 278.48L506.48 278.2L507.62 277.76L508.47 277.43L508.77 277.31L509.92 276.86L511.06 276.4L511.12 276.38L512.21 275.93L513.36 275.45L513.66 275.33L514.5 274.96L515.65 274.46L516.06 274.28L516.8 273.94L517.95 273.4L518.31 273.23L519.09 272.85L520.24 272.27L520.43 272.18L521.39 271.68L522.44 271.13L522.53 271.07L523.68 270.36L524.15 270.07L524.83 269.6L525.68 269.02L525.97 268.83L527.12 268.09L527.3 267.97L528.27 267.38L529.02 266.92L529.41 266.69L530.56 266.04L530.86 265.87L531.71 265.4L532.8 264.82L532.86 264.79L534 264.2L534.85 263.77L535.15 263.62L536.3 263.06L537 262.72L537.44 262.51L538.59 261.97L539.24 261.67L539.74 261.44L540.88 260.92L541.53 260.62L542.03 260.4L543.18 259.88L543.88 259.57L544.33 259.37L545.47 258.86L546.24 258.52L546.62 258.35L547.77 257.84L548.61 257.47L548.91 257.33L550.06 256.82L550.95 256.42L551.21 256.31L552.35 255.79L553.27 255.37L553.5 255.26L554.65 254.73L555.54 254.32L555.79 254.2L556.94 253.66L557.75 253.27L558.09 253.1L559.24 252.54L559.88 252.22L560.38 251.96L561.53 251.37L561.92 251.17L562.68 250.77L563.82 250.14L563.87 250.12L564.97 249.51L565.74 249.07L566.12 248.85L567.26 248.19L567.55 248.02L568.41 247.51L569.31 246.97L569.56 246.82L570.7 246.13L571.05 245.92L571.85 245.43L572.79 244.87L573 244.74L574.15 244.06L574.57 243.82L575.29 243.4L576.41 242.77L576.44 242.75L577.59 242.13L578.4 241.72L578.73 241.55L579.88 241L580.64 240.66L581.03 240.5L582.17 240.03L583.29 239.61L583.32 239.6L584.47 239.22L585.62 238.86L586.68 238.56L586.76 238.54L587.91 238.25L589.06 237.98L590.2 237.74L591.33 237.51L591.35 237.51L592.5 237.3L593.64 237.1L594.79 236.92L595.94 236.74L597.08 236.57L597.76 236.46L598.23 236.4L599.38 236.23L600.53 236.06L601.67 235.89L602.82 235.71L603.97 235.53L604.69 235.41L605.11 235.34L606.26 235.15L607.41 234.94L608.55 234.72L609.7 234.48L610.23 234.36L610.85 234.17L611.99 233.79L613.14 233.37L613.3 233.31L614.29 232.86L615.44 232.28L615.48 232.26L616.58 231.67L617.37 231.21L617.73 231.01L618.88 230.31L619.1 230.16L620.02 229.57L620.7 229.11L621.17 228.8L622.24 228.06L622.32 228.01L623.46 227.19L623.71 227.01L624.61 226.36L625.15 225.96L625.76 225.52L626.58 224.91L626.91 224.67L628.03 223.86L628.05 223.84L629.2 223.02L629.5 222.81L630.35 222.22L631.02 221.76L631.49 221.45L632.63 220.71L632.64 220.7L633.79 219.99L634.33 219.66L634.93 219.3L636.08 218.65L636.16 218.61L637.23 218.03L638.15 217.56L638.37 217.45L639.52 216.89L640.35 216.51L640.67 216.37L641.82 215.87L642.82 215.46L642.96 215.4L644.11 214.96L645.26 214.54L645.64 214.41L646.4 214.14L647.55 213.77L647.55 213.36L647.55 212.31L647.55 211.25L647.55 210.2L647.55 209.15L647.55 208.1L647.55 207.05L647.55 206L647.55 204.95L647.55 203.9L647.55 202.85L647.55 201.8L647.55 200.75L647.55 199.7L647.55 198.65L647.55 197.6L646.4 197.6L645.26 197.6L644.11 197.6L642.96 197.6L641.82 197.6L640.67 197.6L639.52 197.6L638.37 197.6L637.23 197.6L636.08 197.6L634.93 197.6L633.79 197.6L632.64 197.6L631.49 197.6L630.35 197.6L629.2 197.6L628.05 197.6L626.91 197.6L625.76 197.6L624.61 197.6L623.46 197.6L622.32 197.6L621.17 197.6L620.02 197.6L618.88 197.6L617.73 197.6L616.58 197.6L615.44 197.6L614.29 197.6L613.14 197.6L611.99 197.6L610.85 197.6L609.7 197.6L608.55 197.6L607.41 197.6L606.26 197.6L605.11 197.6L603.97 197.6L602.82 197.6L601.67 197.6L600.53 197.6L599.38 197.6L598.23 197.6L597.08 197.6L595.94 197.6L594.79 197.6L593.64 197.6L592.5 197.6L591.35 197.6L590.2 197.6L589.06 197.6L587.91 197.6L586.76 197.6L585.62 197.6L584.47 197.6L583.32 197.6L582.17 197.6L581.03 197.6L579.88 197.6L578.73 197.6L577.59 197.6L576.44 197.6L575.29 197.6L574.15 197.6L573 197.6L571.85 197.6L570.7 197.6L569.56 197.6L568.41 197.6L567.26 197.6L566.12 197.6L564.97 197.6L563.82 197.6L562.68 197.6L561.53 197.6L560.38 197.6L559.24 197.6L558.09 197.6L556.94 197.6L555.79 197.6L554.65 197.6L553.5 197.6L552.35 197.6L551.21 197.6L550.06 197.6L548.91 197.6L547.77 197.6L546.62 197.6L545.47 197.6L544.33 197.6L543.18 197.6L542.03 197.6L540.88 197.6L539.74 197.6L538.59 197.6L537.44 197.6L536.3 197.6L535.15 197.6L534 197.6L532.86 197.6L531.71 197.6L530.56 197.6L529.41 197.6L528.27 197.6L527.12 197.6L525.97 197.6L524.83 197.6L523.68 197.6L522.53 197.6L521.39 197.6L520.24 197.6L519.09 197.6L517.95 197.6L516.8 197.6L515.65 197.6L514.5 197.6L513.36 197.6L512.21 197.6L511.06 197.6L509.92 197.6L508.77 197.6L507.62 197.6L506.48 197.6L505.33 197.6L504.18 197.6L503.04 197.6L501.89 197.6L500.74 197.6L499.59 197.6L498.45 197.6L497.3 197.6L496.15 197.6L495.01 197.6L493.86 197.6L492.71 197.6L491.57 197.6L490.42 197.6L489.27 197.6L488.12 197.6L488.12 198.65L488.12 199.7L488.12 200.75L488.12 201.8L488.12 202.85L488.12 203.9L488.12 204.95L488.12 206L488.12 207.05L488.12 208.1L488.12 209.15L488.12 210.2L488.12 211.25L488.12 212.31L488.12 213.36L488.12 214.41L488.12 215.46L488.12 216.51L488.12 217.56L488.12 218.61L488.12 219.66L488.12 220.71L488.12 221.76L488.12 222.81L488.12 223.86L488.12 224.91L488.12 225.96L488.12 227.01L488.12 228.06L488.12 229.11L488.12 230.16L488.12 231.21L488.12 232.26L488.12 233.31L488.12 234.36L488.12 235.41L488.12 236.46L488.12 237.51L488.12 238.56L488.12 239.61L488.12 240.66L488.12 241.72L488.12 242.77L488.12 243.82L488.12 244.87L488.12 245.92L488.12 246.97L488.12 248.02L488.12 249.07L488.12 250.12L488.12 251.17L488.12 252.22L488.12 253.27L488.12 254.32L488.12 255.37L488.12 256.42L488.12 257.47L488.12 258.52L488.12 259.57L488.12 260.62L488.12 261.67L488.12 262.72L488.12 263.77L488.12 264.82L488.12 265.87L488.12 266.92L488.12 267.97L488.12 269.02L488.12 270.07L488.12 271.13L488.12 272.18L488.12 273.23L488.12 274.28L488.12 275.33L488.12 276.38L488.12 277.43L488.12 278.48L488.12 279.53L488.12 280.58L488.12 281.63L488.12 282.68L488.12 283.73L488.12 284.78L488.12 285.14Z" fill="#fd6767" stroke="#fd6767" stroke-width="0.3"/>
<path d="M489.06 269.02L489.27 268.83L490.18 267.97L490.42 267.75L491.31 266.92L491.57 266.68L492.43 265.87L492.71 265.61L493.56 264.82L493.86 264.54L494.69 263.77L495.01 263.47L495.82 262.72L496.15 262.41L496.96 261.67L497.3 261.36L498.11 260.62L498.45 260.31L499.27 259.57L499.59 259.28L500.45 258.52L500.74 258.26L501.65 257.47L501.89 257.26L502.88 256.42L503.04 256.29L504.14 255.37L504.18 255.33L505.33 254.41L505.45 254.32L506.48 253.52L506.81 253.27L507.62 252.67L508.26 252.22L508.77 251.86L509.79 251.17L509.92 251.09L511.06 250.36L511.47 250.12L512.21 249.68L513.33 249.07L513.36 249.05L514.5 248.47L515.44 248.02L515.65 247.92L516.8 247.41L517.88 246.97L517.95 246.94L519.09 246.5L520.24 246.08L520.73 245.92L521.39 245.69L522.53 245.32L523.68 244.97L524.03 244.87L524.83 244.63L525.97 244.3L527.12 243.98L527.71 243.82L528.27 243.66L529.41 243.34L530.56 243.02L531.46 242.77L531.71 242.7L532.86 242.36L534 242.01L534.94 241.72L535.15 241.65L536.3 241.27L537.44 240.88L538.06 240.66L538.59 240.48L539.74 240.05L540.88 239.62L540.89 239.61L542.03 239.17L543.18 238.7L543.49 238.56L544.33 238.21L545.47 237.71L545.9 237.51L546.62 237.19L547.77 236.65L548.15 236.46L548.91 236.09L550.06 235.52L550.26 235.41L551.21 234.92L552.24 234.36L552.35 234.29L553.5 233.55L553.86 233.31L554.65 232.78L555.43 232.26L555.79 232.03L556.94 231.29L557.06 231.21L558.09 230.57L558.75 230.16L559.24 229.87L560.38 229.2L560.54 229.11L561.53 228.56L562.47 228.06L562.68 227.95L563.82 227.37L564.57 227.01L564.97 226.82L566.12 226.3L566.92 225.96L567.26 225.81L568.41 225.35L569.56 224.93L569.6 224.91L570.7 224.53L571.85 224.15L572.83 223.86L573 223.81L574.15 223.49L575.29 223.2L576.44 222.93L577.03 222.81L577.59 222.69L578.73 222.48L579.88 222.29L581.03 222.12L582.17 221.97L583.32 221.83L584.01 221.76L584.47 221.71L585.62 221.6L586.76 221.5L587.91 221.4L589.06 221.31L590.2 221.22L591.35 221.14L592.5 221.05L593.64 220.95L594.79 220.85L595.94 220.74L596.28 220.71L597.08 220.63L598.23 220.5L599.38 220.35L600.53 220.19L601.67 220.01L602.82 219.82L603.66 219.66L603.97 219.6L605.11 219.36L606.26 219.09L607.41 218.81L608.14 218.61L608.55 218.49L609.7 218.16L610.85 217.8L611.57 217.56L611.99 217.41L613.14 217.01L614.29 216.58L614.48 216.51L615.44 216.14L616.58 215.68L617.11 215.46L617.73 215.2L618.88 214.72L619.6 214.41L620.02 214.23L621.17 213.73L622.04 213.36L622.32 213.24L623.46 212.75L624.52 212.31L624.61 212.27L625.76 211.8L626.91 211.34L627.13 211.25L628.05 210.91L629.2 210.49L630.02 210.2L630.35 210.09L631.49 209.72L632.64 209.36L633.35 209.15L633.79 209.03L634.93 208.72L636.08 208.42L637.23 208.15L637.43 208.1L638.37 207.89L639.52 207.65L640.67 207.43L641.82 207.22L642.79 207.05L642.96 207.03L644.11 206.84L645.26 206.67L646.4 206.51L647.55 206.35L647.55 206L647.55 204.95L647.55 203.9L647.55 202.85L647.55 201.8L647.55 200.75L647.55 199.7L647.55 198.65L647.55 197.6L646.4 197.6L645.26 197.6L644.11 197.6L642.96 197.6L641.82 197.6L640.67 197.6L639.52 197.6L638.37 197.6L637.23 197.6L636.08 197.6L634.93 197.6L633.79 197.6L632.64 197.6L631.49 197.6L630.35 197.6L629.2 197.6L628.05 197.6L626.91 197.6L625.76 197.6L624.61 197.6L623.46 197.6L622.32 197.6L621.17 197.6L620.02 197.6L618.88 197.6L617.73 197.6L616.58 197.6L615.44 197.6L614.29 197.6L613.14 197.6L611.99 197.6L610.85 197.6L609.7 197.6L608.55 197.6L607.41 197.6L606.26 197.6L605.11 197.6L603.97 197.6L602.82 197.6L601.67 197.6L600.53 197.6L599.38 197.6L598.23 197.6L597.08 197.6L595.94 197.6L594.79 197.6L593.64 197.6L592.5 197.6L591.35 197.6L590.2 197.6L589.06 197.6L587.91 197.6L586.76 197.6L585.62 197.6L584.47 197.6L583.32 197.6L582.17 197.6L581.03 197.6L579.88 197.6L578.73 197.6L577.59 197.6L576.44 197.6L575.29 197.6L574.15 197.6L573 197.6L571.85 197.6L570.7 197.6L569.56 197.6L568.41 197.6L567.26 197.6L566.12 197.6L564.97 197.6L563.82 197.6L562.68 197.6L561.53 197.6L560.38 197.6L559.24 197.6L558.09 197.6L556.94 197.6L555.79 197.6L554.65 197.6L553.5 197.6L552.35 197.6L551.21 197.6L550.06 197.6L548.91 197.6L547.77 197.6L546.62 197.6L545.47 197.6L544.33 197.6L543.18 197.6L542.03 197.6L540.88 197.6L539.74 197.6L538.59 197.6L537.44 197.6L536.3 197.6L535.15 197.6L534 197.6L532.86 197.6L531.71 197.6L530.56 197.6L529.41 197.6L528.27 197.6L527.12 197.6L525.97 197.6L524.83 197.6L523.68 197.6L522.53 197.6L521.39 197.6L520.24 197.6L519.09 197.6L517.95 197.6L516.8 197.6L515.65 197.6L514.5 197.6L513.36 197.6L512.21 197.6L511.06 197.6L509.92 197.6L508.77 197.6L507.62 197.6L506.48 197.6L505.33 197.6L504.18 197.6L503.04 197.6L501.89 197.6L500.74 197.6L499.59 197.6L498.45 197.6L497.3 197.6L496.15 197.6L495.01 197.6L493.86 197.6L492.71 197.6L491.57 197.6L490.42 197.6L489.27 197.6L488.12 197.6L488.12 198.65L488.12 199.7L488.12 200.75L488.12 201.8L488.12 202.85L488.12 203.9L488.12 204.95L488.12 206L488.12 207.05L488.12 208.1L488.12 209.15L488.12 210.2L488.12 211.25L488.12 212.31L488.12 213.36L488.12 214.41L488.12 215.46L488.12 216.51L488.12 217.56L488.12 218.61L488.12 219.66L488.12 220.71L488.12 221.76L488.12 222.81L488.12 223.86L488.12 224.91L488.12 225.96L488.12 227.01L488.12 228.06L488.12 229.11L488.12 230.16L488.12 231.21L488.12 232.26L488.12 233.31L488.12 234.36L488.12 235.41L488.12 236.46L488.12 237.51L488.12 238.56L488.12 239.61L488.12 240.66L488.12 241.72L488.12 242.77L488.12 243.82L488.12 244.87L488.12 245.92L488.12 246.97L488.12 248.02L488.12 249.07L488.12 250.12L488.12 251.17L488.12 252.22L488.12 253.27L488.12 254.32L488.12 255.37L488.12 256.42L488.12 257.47L488.12 258.52L488.12 259.57L488.12 260.62L488.12 261.67L488.12 262.72L488.12 263.77L488.12 264.82L488.12 265.87L488.12 266.92L488.12 267.97L488.12 269.02L488.12 269.9Z" fill="#fc5252" stroke="#fc5252" stroke-width="0.3"/>
<path d="M488.59 234.36L489.27 233.51L489.43 233.31L490.2 232.26L490.42 231.98L491.02 231.21L491.57 230.54L491.88 230.16L492.71 229.19L492.79 229.11L493.75 228.06L493.86 227.94L494.78 227.01L495.01 226.78L495.88 225.96L496.15 225.71L497.06 224.91L497.3 224.7L498.34 223.86L498.45 223.77L499.59 222.91L499.74 222.81L500.74 222.11L501.28 221.76L501.89 221.37L502.99 220.71L503.04 220.68L504.18 220.04L504.94 219.66L505.33 219.46L506.48 218.92L507.2 218.61L507.62 218.43L508.77 217.98L509.92 217.57L509.96 217.56L511.06 217.2L512.21 216.87L513.36 216.58L513.67 216.51L514.5 216.31L515.65 216.07L516.8 215.85L517.95 215.64L519.04 215.46L519.09 215.45L520.24 215.26L521.39 215.09L522.53 214.91L523.68 214.74L524.83 214.57L525.85 214.41L525.97 214.39L527.12 214.2L528.27 214L529.41 213.79L530.56 213.57L531.56 213.36L531.71 213.32L532.86 213.06L534 212.78L535.15 212.48L535.77 212.31L536.3 212.16L537.44 211.83L538.59 211.48L539.32 211.25L539.74 211.13L540.88 210.77L542.03 210.4L542.66 210.2L543.18 210.04L544.33 209.68L545.47 209.33L546.04 209.15L546.62 208.98L547.77 208.64L548.91 208.32L549.71 208.1L550.06 208.01L551.21 207.71L552.35 207.44L553.5 207.18L554.08 207.05L554.65 206.94L555.79 206.72L556.94 206.52L558.09 206.34L559.24 206.18L560.38 206.04L560.71 206L561.53 205.91L562.68 205.81L563.82 205.71L564.97 205.63L566.12 205.55L567.26 205.49L568.41 205.44L569.56 205.39L570.7 205.35L571.85 205.31L573 205.29L574.15 205.26L575.29 205.24L576.44 205.22L577.59 205.2L578.73 205.18L579.88 205.17L581.03 205.15L582.17 205.13L583.32 205.11L584.47 205.09L585.62 205.06L586.76 205.03L587.91 204.99L588.75 204.95L589.06 204.94L590.2 204.88L591.35 204.82L592.5 204.74L593.64 204.65L594.79 204.55L595.94 204.43L597.08 204.29L598.23 204.14L599.38 203.98L599.84 203.9L600.53 203.79L601.67 203.58L602.82 203.35L603.97 203.1L605.04 202.85L605.11 202.84L606.26 202.55L607.41 202.25L608.55 201.94L609.04 201.8L609.7 201.62L610.85 201.29L611.99 200.96L612.72 200.75L613.14 200.63L614.29 200.31L615.44 199.99L616.53 199.7L616.58 199.69L617.73 199.4L618.88 199.13L620.02 198.88L621.17 198.66L621.23 198.65L622.32 198.47L623.46 198.31L624.61 198.18L625.76 198.08L626.91 198.01L628.05 197.97L629.2 197.96L630.35 197.96L631.49 197.99L632.64 198.02L633.79 198.07L634.93 198.13L636.08 198.2L637.23 198.27L638.37 198.34L639.52 198.42L640.67 198.5L641.82 198.57L642.96 198.65L642.96 198.65L644.11 198.73L645.26 198.8L646.4 198.87L647.55 198.94L647.55 198.65L647.55 197.6L646.4 197.6L645.26 197.6L644.11 197.6L642.96 197.6L641.82 197.6L640.67 197.6L639.52 197.6L638.37 197.6L637.23 197.6L636.08 197.6L634.93 197.6L633.79 197.6L632.64 197.6L631.49 197.6L630.35 197.6L629.2 197.6L628.05 197.6L626.91 197.6L625.76 197.6L624.61 197.6L623.46 197.6L622.32 197.6L621.17 197.6L620.02 197.6L618.88 197.6L617.73 197.6L616.58 197.6L615.44 197.6L614.29 197.6L613.14 197.6L611.99 197.6L610.85 197.6L609.7 197.6L608.55 197.6L607.41 197.6L606.26 197.6L605.11 197.6L603.97 197.6L602.82 197.6L601.67 197.6L600.53 197.6L599.38 197.6L598.23 197.6L597.08 197.6L595.94 197.6L594.79 197.6L593.64 197.6L592.5 197.6L591.35 197.6L590.2 197.6L589.06 197.6L587.91 197.6L586.76 197.6L585.62 197.6L584.47 197.6L583.32 197.6L582.17 197.6L581.03 197.6L579.88 197.6L578.73 197.6L577.59 197.6L576.44 197.6L575.29 197.6L574.15 197.6L573 197.6L571.85 197.6L570.7 197.6L569.56 197.6L568.41 197.6L567.26 197.6L566.12 197.6L564.97 197.6L563.82 197.6L562.68 197.6L561.53 197.6L560.38 197.6L559.24 197.6L558.09 197.6L556.94 197.6L555.79 197.6L554.65 197.6L553.5 197.6L552.35 197.6L551.21 197.6L550.06 197.6L548.91 197.6L547.77 197.6L546.62 197.6L545.47 197.6L544.33 197.6L543.18 197.6L542.03 197.6L540.88 197.6L539.74 197.6L538.59 197.6L537.44 197.6L536.3 197.6L535.15 197.6L534 197.6L532.86 197.6L531.71 197.6L530.56 197.6L529.41 197.6L528.27 197.6L527.12 197.6L525.97 197.6L524.83 197.6L523.68 197.6L522.53 197.6L521.39 197.6L520.24 197.6L519.09 197.6L517.95 197.6L516.8 197.6L515.65 197.6L514.5 197.6L513.36 197.6L512.21 197.6L511.06 197.6L509.92 197.6L508.77 197.6L507.62 197.6L506.48 197.6L505.33 197.6L504.18 197.6L503.04 197.6L501.89 197.6L500.74 197.6L499.59 197.6L498.45 197.6L497.3 197.6L496.15 197.6L495.01 197.6L493.86 197.6L492.71 197.6L491.57 197.6L490.42 197.6L489.27 197.6L488.12 197.6L488.12 198.65L488.12 199.7L488.12 200.75L488.12 201.8L488.12 202.85L488.12 203.9L488.12 204.95L488.12 206L488.12 207.05L488.12 208.1L488.12 209.15L488.12 210.2L488.12 211.25L488.12 212.31L488.12 213.36L488.12 214.41L488.12 215.46L488.12 216.51L488.12 217.56L488.12 218.61L488.12 219.66L488.12 220.71L488.12 221.76L488.12 222.81L488.12 223.86L488.12 224.91L488.12 225.96L488.12 227.01L488.12 228.06L488.12 229.11L488.12 230.16L488.12 231.21L488.12 232.26L488.12 233.31L488.12 234.36L488.12 234.8Z" fill="#fc3c3c" stroke="#fc3c3c" stroke-width="0.3"/>
</g>
<path d="M488.12 320.1 L489.27 320.06 L490.42 320.02 L491.57 319.97 L492.71 319.93 L493.86 319.89 L495.01 319.85 L496.15 319.82 L497.3 319.78 L498.45 319.74 L499.59 319.71 L500.74 319.67 L501.89 319.64 L503.04 319.61 L504.18 319.58 L505.33 319.56 L506.48 319.54 L507.62 319.52 L508.77 319.5 L509.92 319.49 L511.06 319.47 L512.21 319.47 L513.36 319.46 L514.5 319.46 L515.65 319.46 L516.8 319.46 L517.95 319.46 L519.09 319.46 L520.24 319.46 L521.39 319.45 L522.53 319.45 L523.31 319.44 L523.68 319.44 L524.83 319.43 L525.97 319.41 L527.12 319.39 L528.27 319.36 L529.41 319.33 L530.56 319.29 L531.71 319.24 L532.86 319.18 L534 319.12 L535.15 319.04 L536.3 318.95 L537.44 318.86 L538.59 318.76 L539.74 318.64 L540.88 318.52 L542 318.39 L542.03 318.39 L543.18 318.25 L544.33 318.1 L545.47 317.94 L546.62 317.77 L547.77 317.6 L548.91 317.41 L549.34 317.34 L550.06 317.22 L551.21 317.02 L552.35 316.81 L553.5 316.59 L554.65 316.36 L555 316.29 L555.79 316.13 L556.94 315.88 L558.09 315.63 L559.24 315.37 L559.81 315.24 L560.38 315.11 L561.53 314.83 L562.68 314.56 L563.82 314.27 L564.14 314.19 L564.97 313.98 L566.12 313.68 L567.26 313.38 L568.18 313.14 L568.41 313.08 L569.56 312.77 L570.7 312.46 L571.85 312.15 L572.09 312.09 L573 311.84 L574.15 311.53 L575.29 311.22 L575.99 311.04 L576.44 310.92" fill="none" stroke="#111" stroke-width="1.2" stroke-dasharray="2.6 1.9"/>
<path d="M590.2 307.58 L591.35 307.28 L592.5 306.96 L592.95 306.84 L593.64 306.49 L594.79 305.92 L595.05 305.79 L595.94 305.33 L597.07 304.74 L597.08 304.73 L598.23 304.1 L598.97 303.69 L599.38 303.46 L600.53 302.79 L600.77 302.64 L601.67 302.09 L602.47 301.59 L602.82 301.37 L603.97 300.62 L604.09 300.54 L605.11 299.85 L605.65 299.48 L606.26 299.07 L607.17 298.43 L607.41 298.27 L608.55 297.47 L608.67 297.38 L609.7 296.65 L610.14 296.33 L610.85 295.83 L611.61 295.28 L611.99 295.01 L613.07 294.23 L613.14 294.18 L614.29 293.36 L614.53 293.18 L615.44 292.54 L616 292.13 L616.58 291.72 L617.47 291.08 L617.73 290.9 L618.88 290.09 L618.95 290.03 L620.02 289.28 L620.45 288.98 L621.17 288.47 L621.95 287.93 L622.32 287.67 L623.45 286.88 L623.46 286.87 L624.61 286.07 L624.96 285.83 L625.76 285.28 L626.48 284.78 L626.91 284.48 L627.98 283.73 L628.05 283.68 L629.2 282.87 L629.48 282.68 L630.35 282.06 L630.95 281.63 L631.49 281.24 L632.4 280.58 L632.64 280.41 L633.79 279.56 L633.83 279.53 L634.93 278.7 L635.23 278.48 L636.08 277.83 L636.6 277.43 L637.23 276.94 L637.94 276.38 L638.37 276.03 L639.25 275.33 L639.52 275.1 L640.53 274.28 L640.67 274.16 L641.77 273.23 L641.82 273.19 L642.96 272.2 L642.99 272.18 L644.11 271.18 L644.17 271.13 L645.26 270.14 L645.33 270.07 L646.4 269.1 L646.48 269.02 L647.55 268.05" fill="none" stroke="#111" stroke-width="1.2" stroke-dasharray="2.6 1.9"/>
<path d="M488.12 269.9 L489.06 269.02 L489.27 268.83 L490.18 267.97 L490.42 267.75 L491.31 266.92 L491.57 266.68 L492.43 265.87 L492.71 265.61 L493.56 264.82 L493.86 264.54 L494.69 263.77 L495.01 263.47 L495.82 262.72 L496.15 262.41 L496.96 261.67 L497.3 261.36 L498.11 260.62 L498.45 260.31 L499.27 259.57 L499.59 259.28 L500.45 258.52 L500.74 258.26 L501.65 257.47 L501.89 257.26 L502.88 256.42 L503.04 256.29 L504.14 255.37 L504.18 255.33 L505.33 254.41 L505.45 254.32 L506.48 253.52 L506.81 253.27 L507.62 252.67 L508.26 252.22 L508.77 251.86 L509.79 251.17 L509.92 251.09 L511.06 250.36 L511.47 250.12 L512.21 249.68 L513.33 249.07 L513.36 249.05 L514.5 248.47 L515.44 248.02 L515.65 247.92 L516.8 247.41 L517.88 246.97 L517.95 246.94 L519.09 246.5 L520.24 246.08 L520.73 245.92 L521.39 245.69 L522.53 245.32 L523.68 244.97 L524.03 244.87 L524.83 244.63 L525.97 244.3 L527.12 243.98 L527.71 243.82 L528.27 243.66 L529.41 243.34 L530.56 243.02 L531.46 242.77 L531.71 242.7 L532.86 242.36 L534 242.01 L534.94 241.72 L535.15 241.65 L536.3 241.27 L537.44 240.88 L538.06 240.66 L538.59 240.48 L539.74 240.05 L540.88 239.62 L540.89 239.61 L542.03 239.17 L543.18 238.7 L543.49 238.56 L544.33 238.21 L545.47 237.71 L545.9 237.51 L546.62 237.19 L547.77 236.65 L548.15 236.46 L548.91 236.09 L550.06 235.52 L550.26 235.41 L551.21 234.92 L552.24 234.36 L552.35 234.29 L553.5 233.55 L553.86 233.31 L554.65 232.78 L555.43 232.26 L555.79 232.03 L556.94 231.29 L557.06 231.21 L558.09 230.57 L558.75 230.16 L559.24 229.87 L560.38 229.2 L560.54 229.11 L561.53 228.56 L562.47 228.06 L562.68 227.95" fill="none" stroke="#111" stroke-width="1.2" stroke-dasharray="2.6 1.9"/>
<path d="M576.44 222.93 L577.03 222.81 L577.59 222.69 L578.73 222.48 L579.88 222.29 L581.03 222.12 L582.17 221.97 L583.32 221.83 L584.01 221.76 L584.47 221.71 L585.62 221.6 L586.76 221.5 L587.91 221.4 L589.06 221.31 L590.2 221.22 L591.35 221.14 L592.5 221.05 L593.64 220.95 L594.79 220.85 L595.94 220.74 L596.28 220.71 L597.08 220.63 L598.23 220.5 L599.38 220.35 L600.53 220.19 L601.67 220.01 L602.82 219.82 L603.66 219.66 L603.97 219.6 L605.11 219.36 L606.26 219.09 L607.41 218.81 L608.14 218.61 L608.55 218.49 L609.7 218.16 L610.85 217.8 L611.57 217.56 L611.99 217.41 L613.14 217.01 L614.29 216.58 L614.48 216.51 L615.44 216.14 L616.58 215.68 L617.11 215.46 L617.73 215.2 L618.88 214.72 L619.6 214.41 L620.02 214.23 L621.17 213.73 L622.04 213.36 L622.32 213.24 L623.46 212.75 L624.52 212.31 L624.61 212.27 L625.76 211.8 L626.91 211.34 L627.13 211.25 L628.05 210.91 L629.2 210.49 L630.02 210.2 L630.35 210.09 L631.49 209.72 L632.64 209.36 L633.35 209.15 L633.79 209.03 L634.93 208.72 L636.08 208.42 L637.23 208.15 L637.43 208.1 L638.37 207.89 L639.52 207.65 L640.67 207.43 L641.82 207.22 L642.79 207.05 L642.96 207.03 L644.11 206.84 L645.26 206.67 L646.4 206.51 L647.55 206.35" fill="none" stroke="#111" stroke-width="1.2" stroke-dasharray="2.6 1.9"/>
<rect x="488.4" y="197.7" width="159.2" height="145.9" fill="none" stroke="#3a3a3a" stroke-width="1"/>
<line x1="485.4" y1="343.6" x2="488.4" y2="343.6" stroke="#2a2a2a" stroke-width="1"/>
<text font-size="9.92" text-anchor="end" fill="#111" stroke="#111" stroke-width="0.12" transform="translate(484 346.7) scale(0.8772 1)"><tspan>0</tspan></text>
<line x1="485.4" y1="307.1" x2="488.4" y2="307.1" stroke="#2a2a2a" stroke-width="1"/>
<text font-size="9.92" text-anchor="end" fill="#111" stroke="#111" stroke-width="0.12" transform="translate(484 310.2) scale(0.8772 1)"><tspan>0.1</tspan></text>
<line x1="485.4" y1="270.6" x2="488.4" y2="270.6" stroke="#2a2a2a" stroke-width="1"/>
<text font-size="9.92" text-anchor="end" fill="#111" stroke="#111" stroke-width="0.12" transform="translate(484 273.7) scale(0.8772 1)"><tspan>0.5</tspan></text>
<line x1="485.4" y1="234.1" x2="488.4" y2="234.1" stroke="#2a2a2a" stroke-width="1"/>
<text font-size="9.92" text-anchor="end" fill="#111" stroke="#111" stroke-width="0.12" transform="translate(484 237.2) scale(0.8772 1)"><tspan>1.0</tspan></text>
<line x1="485.4" y1="197.6" x2="488.4" y2="197.6" stroke="#2a2a2a" stroke-width="1"/>
<text font-size="9.92" text-anchor="end" fill="#111" stroke="#111" stroke-width="0.12" transform="translate(484 200.7) scale(0.8772 1)"><tspan>3.0</tspan></text>
<line x1="510.9" y1="343.6" x2="510.9" y2="346.6" stroke="#2a2a2a" stroke-width="1"/>
<text font-size="9.92" text-anchor="middle" fill="#111" stroke="#111" stroke-width="0.12" transform="translate(510.9 355) scale(0.8772 1)"><tspan>1</tspan></text>
<line x1="556.45" y1="343.6" x2="556.45" y2="346.6" stroke="#2a2a2a" stroke-width="1"/>
<text font-size="9.92" text-anchor="middle" fill="#111" stroke="#111" stroke-width="0.12" transform="translate(556.45 355) scale(0.8772 1)"><tspan>2</tspan></text>
<line x1="602" y1="343.6" x2="602" y2="346.6" stroke="#2a2a2a" stroke-width="1"/>
<text font-size="9.92" text-anchor="middle" fill="#111" stroke="#111" stroke-width="0.12" transform="translate(602 355) scale(0.8772 1)"><tspan>3</tspan></text>
<line x1="647.55" y1="343.6" x2="647.55" y2="346.6" stroke="#2a2a2a" stroke-width="1"/>
<text font-size="9.92" text-anchor="middle" fill="#111" stroke="#111" stroke-width="0.12" transform="translate(647.55 355) scale(0.8772 1)"><tspan>4</tspan></text>
<line x1="533.67" y1="343.6" x2="533.67" y2="345.4" stroke="#2a2a2a" stroke-width="1"/>
<line x1="579.22" y1="343.6" x2="579.22" y2="345.4" stroke="#2a2a2a" stroke-width="1"/>
<line x1="624.77" y1="343.6" x2="624.77" y2="345.4" stroke="#2a2a2a" stroke-width="1"/>
<text font-size="9.23" text-anchor="middle" fill="#222" stroke="#222" stroke-width="0.12" transform="translate(574.5 294.6) scale(0.8772 1)"><tspan>CO</tspan><tspan dy="2.03" font-size="6">2</tspan><tspan dy="-2.03">RR dominant</tspan></text>
<text font-size="9.23" text-anchor="middle" fill="#222" stroke="#222" stroke-width="0.12" transform="translate(599 329.4) scale(0.8772 1)"><tspan>HER dominant</tspan></text>
<text font-size="8.66" text-anchor="middle" fill="#222" stroke="#222" stroke-width="0.12" transform="translate(569.3 230.2) scale(0.8772 1)"><tspan>90</tspan></text>
<text font-size="8.66" text-anchor="middle" fill="#222" stroke="#222" stroke-width="0.12" transform="translate(583.4 312.5) scale(0.8772 1)"><tspan>50</tspan></text>
<rect x="654" y="336.07" width="11" height="7.37" fill="#139c9c"/>
<rect x="654" y="328.8" width="11" height="7.37" fill="#2aa6a6"/>
<rect x="654" y="321.52" width="11" height="7.37" fill="#41b0b0"/>
<rect x="654" y="314.25" width="11" height="7.37" fill="#59baba"/>
<rect x="654" y="306.97" width="11" height="7.37" fill="#70c4c4"/>
<rect x="654" y="299.7" width="11" height="7.37" fill="#87cdcd"/>
<rect x="654" y="292.43" width="11" height="7.37" fill="#9ed7d7"/>
<rect x="654" y="285.15" width="11" height="7.37" fill="#b6e1e1"/>
<rect x="654" y="277.88" width="11" height="7.37" fill="#cdebeb"/>
<rect x="654" y="270.6" width="11" height="7.37" fill="#e4f5f5"/>
<rect x="654" y="263.32" width="11" height="7.37" fill="#ffffff"/>
<rect x="654" y="256.05" width="11" height="7.37" fill="#ffe9e9"/>
<rect x="654" y="248.78" width="11" height="7.37" fill="#fed4d4"/>
<rect x="654" y="241.5" width="11" height="7.37" fill="#febebe"/>
<rect x="654" y="234.22" width="11" height="7.37" fill="#fea8a8"/>
<rect x="654" y="226.95" width="11" height="7.37" fill="#fd9393"/>
<rect x="654" y="219.67" width="11" height="7.37" fill="#fd7d7d"/>
<rect x="654" y="212.4" width="11" height="7.37" fill="#fd6767"/>
<rect x="654" y="205.12" width="11" height="7.37" fill="#fc5252"/>
<rect x="654" y="197.85" width="11" height="7.37" fill="#fc3c3c"/>
<line x1="665" y1="197.9" x2="665" y2="343.4" stroke="#333" stroke-width="0.9"/>
<line x1="665" y1="343.4" x2="667.5" y2="343.4" stroke="#2a2a2a" stroke-width="1"/>
<text font-size="9.92" text-anchor="start" fill="#111" stroke="#111" stroke-width="0.12" transform="translate(670.5 346.5) scale(0.8772 1)"><tspan>0</tspan></text>
<line x1="665" y1="314.3" x2="667.5" y2="314.3" stroke="#2a2a2a" stroke-width="1"/>
<text font-size="9.92" text-anchor="start" fill="#111" stroke="#111" stroke-width="0.12" transform="translate(670.5 317.4) scale(0.8772 1)"><tspan>20</tspan></text>
<line x1="665" y1="285.2" x2="667.5" y2="285.2" stroke="#2a2a2a" stroke-width="1"/>
<text font-size="9.92" text-anchor="start" fill="#111" stroke="#111" stroke-width="0.12" transform="translate(670.5 288.3) scale(0.8772 1)"><tspan>40</tspan></text>
<line x1="665" y1="256.1" x2="667.5" y2="256.1" stroke="#2a2a2a" stroke-width="1"/>
<text font-size="9.92" text-anchor="start" fill="#111" stroke="#111" stroke-width="0.12" transform="translate(670.5 259.2) scale(0.8772 1)"><tspan>60</tspan></text>
<line x1="665" y1="227" x2="667.5" y2="227" stroke="#2a2a2a" stroke-width="1"/>
<text font-size="9.92" text-anchor="start" fill="#111" stroke="#111" stroke-width="0.12" transform="translate(670.5 230.1) scale(0.8772 1)"><tspan>80</tspan></text>
<line x1="665" y1="197.9" x2="667.5" y2="197.9" stroke="#2a2a2a" stroke-width="1"/>
<text font-size="9.92" text-anchor="start" fill="#111" stroke="#111" stroke-width="0.12" transform="translate(670.5 201) scale(0.8772 1)"><tspan>100</tspan></text>
<line x1="665" y1="328.85" x2="666.5" y2="328.85" stroke="#2a2a2a" stroke-width="1"/>
<line x1="665" y1="299.75" x2="666.5" y2="299.75" stroke="#2a2a2a" stroke-width="1"/>
<line x1="665" y1="270.65" x2="666.5" y2="270.65" stroke="#2a2a2a" stroke-width="1"/>
<line x1="665" y1="241.55" x2="666.5" y2="241.55" stroke="#2a2a2a" stroke-width="1"/>
<line x1="665" y1="212.45" x2="666.5" y2="212.45" stroke="#2a2a2a" stroke-width="1"/>
<text font-size="10.94" text-anchor="middle" fill="#111" stroke="#111" stroke-width="0.12" transform="translate(660.2 192.6) scale(0.8772 1)"><tspan>CO FE (%)</tspan></text>
<text font-size="10.94" text-anchor="middle" fill="#111" stroke="#111" stroke-width="0.12" transform="translate(567 368.2) scale(0.8772 1)"><tspan font-style="italic">j</tspan><tspan> (A/cm</tspan><tspan dy="-4.16" font-size="7.11">2</tspan><tspan dy="4.16">)</tspan></text>
<text font-size="10.94" text-anchor="middle" fill="#111" stroke="#111" stroke-width="0.12" transform="translate(467.4 271) rotate(-90) scale(0.8772 1)"><tspan>[K</tspan><tspan dy="-4.16" font-size="7.11">+</tspan><tspan dy="4.16">] (M)</tspan></text>
</svg>
</body></html>
